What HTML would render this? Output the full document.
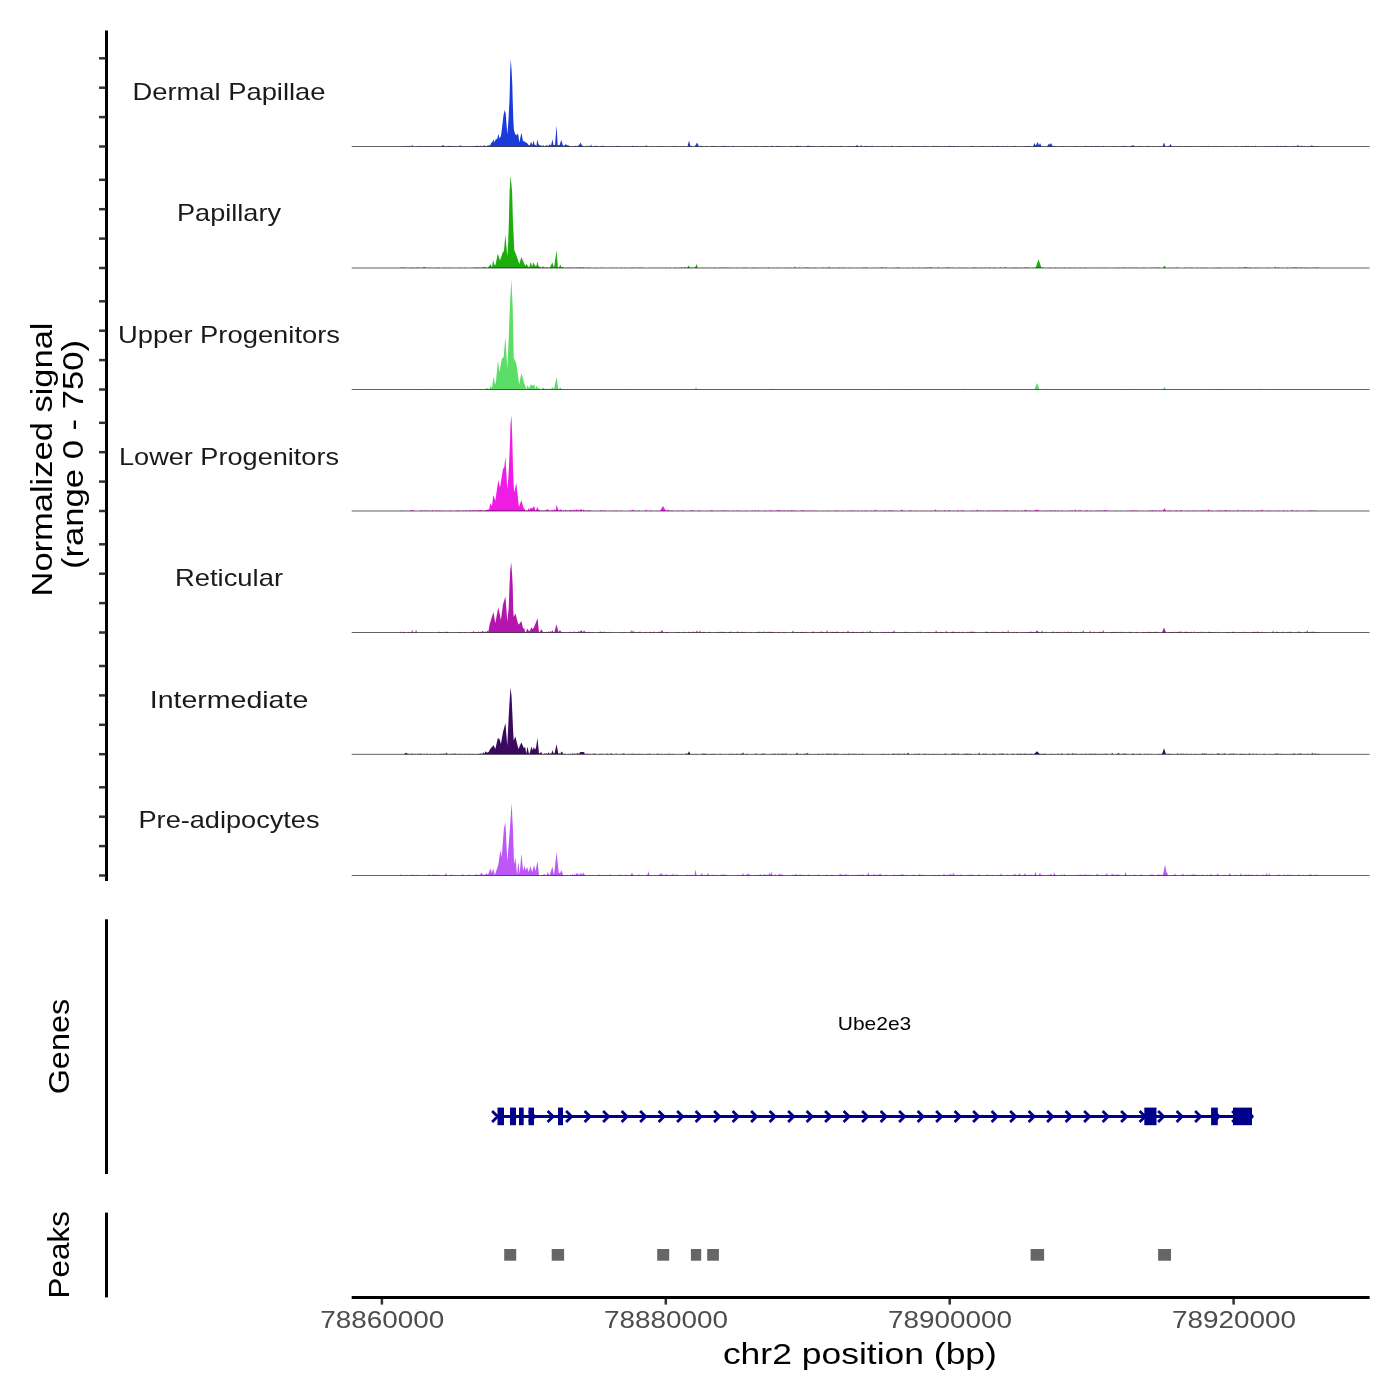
<!DOCTYPE html>
<html><head><meta charset="utf-8"><style>
html,body{margin:0;padding:0;background:#fff;}
svg{display:block;will-change:transform;}
text{font-family:"Liberation Sans",sans-serif;}
</style></head><body>
<svg width="1400" height="1400" viewBox="0 0 1400 1400">
<rect x="0" y="0" width="1400" height="1400" fill="#fff"/>

<path d="M400.0,146.5L400.0,146.50L400.5,146.50L401.0,146.50L401.5,146.50L402.0,146.07L402.5,146.28L403.0,146.50L403.5,146.50L404.0,146.50L404.5,146.50L405.0,145.84L405.5,146.17L406.0,146.50L406.5,146.50L407.0,145.84L407.5,146.17L408.0,146.50L408.5,146.50L409.0,145.62L409.5,146.06L410.0,146.50L410.5,146.50L411.0,146.50L411.5,146.50L412.0,144.45L412.5,145.48L413.0,146.50L413.5,146.50L414.0,146.50L414.5,146.50L415.0,146.50L415.5,146.50L416.0,146.50L416.5,146.50L417.0,146.50L417.5,146.50L418.0,145.82L418.5,146.16L419.0,146.25L419.5,146.38L420.0,145.71L420.5,146.10L421.0,146.50L421.5,146.50L422.0,146.50L422.5,146.50L423.0,146.11L423.5,146.30L424.0,146.50L424.5,146.50L425.0,145.87L425.5,146.19L426.0,146.50L426.5,146.50L427.0,145.99L427.5,146.25L428.0,146.08L428.5,146.29L429.0,146.22L429.5,146.36L430.0,146.11L430.5,146.30L431.0,146.50L431.5,146.50L432.0,146.17L432.5,146.34L433.0,146.50L433.5,146.50L434.0,146.50L434.5,146.50L435.0,146.07L435.5,146.28L436.0,146.50L436.5,146.50L437.0,146.50L437.5,146.50L438.0,145.69L438.5,146.10L439.0,146.50L439.5,146.50L440.0,146.50L440.5,146.50L441.0,145.68L441.5,146.09L442.0,145.75L442.5,145.38L443.0,145.00L443.5,145.38L444.0,145.75L444.5,146.12L445.0,146.50L445.5,146.50L446.0,145.66L446.5,146.08L447.0,146.50L447.5,146.50L448.0,145.70L448.5,146.10L449.0,145.68L449.5,146.09L450.0,146.13L450.5,146.31L451.0,145.80L451.5,146.15L452.0,145.77L452.5,146.13L453.0,146.50L453.5,146.50L454.0,145.97L454.5,146.23L455.0,145.88L455.5,146.19L456.0,146.22L456.5,146.36L457.0,146.50L457.5,146.50L458.0,145.98L458.5,146.24L459.0,146.50L459.5,146.50L460.0,144.66L460.5,145.58L461.0,146.50L461.5,146.50L462.0,145.61L462.5,146.06L463.0,146.50L463.5,146.50L464.0,146.50L464.5,146.50L465.0,146.50L465.5,146.50L466.0,145.82L466.5,146.16L467.0,146.50L467.5,146.50L468.0,146.02L468.5,146.26L469.0,146.50L469.5,146.50L478.0,145.70L479.0,146.07L480.0,146.45L481.0,145.44L482.0,146.49L483.0,146.16L484.0,145.30L485.0,145.85L486.0,146.50L487.0,145.81L488.0,145.50L489.1,145.59L490.3,145.00L491.5,142.50L492.4,142.26L493.3,139.20L494.5,142.20L496.0,138.80L497.0,139.50L498.5,133.70L499.5,138.40L501.0,135.80L502.0,128.10L503.5,115.20L504.7,110.10L505.7,113.50L507.3,134.50L508.5,119.50L509.5,100.00L509.9,84.50L510.2,70.50L510.8,59.20L511.6,70.50L512.3,84.50L512.7,100.00L513.3,119.50L513.9,129.80L515.0,133.70L516.3,135.50L517.5,133.50L518.5,135.80L519.3,142.60L521.4,132.80L523.0,140.90L524.5,141.50L526.0,142.60L527.5,143.50L529.0,145.50L530.0,145.00L531.0,141.80L532.5,145.00L533.6,140.50L534.5,144.50L535.4,144.96L536.4,145.96L537.3,139.20L538.5,144.30L540.0,145.50L541.0,145.26L542.0,146.45L543.0,145.00L544.0,145.91L545.0,146.45L546.0,145.30L547.1,145.13L548.2,146.42L549.3,144.30L551.0,145.50L552.5,139.20L553.5,145.00L555.0,145.00L556.6,125.50L557.7,145.50L558.7,145.07L559.6,145.00L561.3,140.10L563.0,145.50L564.2,145.74L565.5,144.20L566.8,144.94L568.0,145.50L569.0,145.49L570.0,146.41L571.0,146.06L572.0,146.49L573.0,146.03L574.0,146.45L575.0,145.70L576.0,146.03L577.0,146.43L578.0,145.51L579.0,145.50L580.5,142.60L582.0,145.50L583.0,145.73L584.0,146.50L585.0,146.15L586.0,146.49L587.0,145.54L588.0,146.50L589.0,145.98L590.0,145.70L590.5,146.09L591.0,144.28L591.5,145.39L592.0,146.25L592.5,146.38L593.0,146.16L593.5,146.33L594.0,145.67L594.5,146.08L595.0,146.50L595.5,146.50L596.0,145.22L596.5,145.86L597.0,146.11L597.5,146.30L598.0,146.50L598.5,146.50L599.0,146.50L599.5,146.50L600.0,145.93L600.5,146.22L601.0,145.80L601.5,146.15L602.0,145.82L602.5,146.16L603.0,145.69L603.5,146.10L604.0,145.79L604.5,146.15L605.0,146.50L605.5,146.50L606.0,146.50L606.5,146.50L607.0,146.23L607.5,146.36L608.0,146.50L608.5,146.50L609.0,146.14L609.5,146.32L610.0,145.99L610.5,146.24L611.0,146.50L611.5,146.50L612.0,146.00L612.5,146.25L613.0,145.99L613.5,146.24L614.0,146.50L614.5,146.50L615.0,146.50L615.5,146.50L616.0,146.29L616.5,146.40L617.0,145.62L617.5,146.06L618.0,146.17L618.5,146.34L619.0,146.32L619.5,146.41L620.0,145.70L620.5,146.10L621.0,146.50L621.5,146.50L622.0,146.50L622.5,146.50L623.0,146.50L623.5,146.50L624.0,146.31L624.5,146.40L625.0,146.50L625.5,146.50L626.0,146.07L626.5,146.29L627.0,146.50L627.5,146.50L628.0,146.50L628.5,146.50L629.0,146.21L629.5,146.36L630.0,146.04L630.5,146.27L631.0,146.50L631.5,146.50L632.0,145.63L632.5,146.07L633.0,145.64L633.5,146.07L634.0,145.99L634.5,146.25L635.0,146.50L635.5,146.50L636.0,146.50L636.5,146.50L637.0,145.60L637.5,146.05L638.0,146.50L638.5,146.50L639.0,146.50L639.5,146.50L640.0,146.50L640.5,146.50L641.0,146.09L641.5,146.30L642.0,146.30L642.5,146.40L643.0,145.99L643.5,146.25L644.0,146.50L644.5,146.50L645.0,146.50L645.5,146.50L646.0,144.65L646.5,145.57L647.0,146.15L647.5,146.33L648.0,146.50L648.5,146.50L649.0,146.50L649.5,146.50L650.0,146.50L650.5,146.50L651.0,146.50L651.5,146.50L652.0,145.94L652.5,146.22L653.0,146.50L653.5,146.50L654.0,146.50L654.5,146.50L655.0,146.50L655.5,146.50L656.0,146.50L656.5,146.50L657.0,146.00L657.5,146.25L658.0,145.96L658.5,146.23L659.0,146.50L659.5,146.50L660.0,145.86L660.5,146.18L661.0,146.26L661.5,146.38L662.0,146.12L662.5,146.31L663.0,146.50L663.5,146.50L664.0,146.50L664.5,146.50L665.0,146.50L665.5,146.50L666.0,146.50L666.5,146.50L667.0,146.50L667.5,146.50L668.0,146.50L668.5,146.50L669.0,146.50L669.5,146.50L670.0,146.08L670.5,146.29L671.0,146.50L671.5,146.50L672.0,146.50L672.5,146.50L673.0,145.83L673.5,146.17L674.0,146.50L674.5,146.50L675.0,145.87L675.5,146.18L676.0,146.10L676.5,146.30L677.0,146.50L677.5,146.50L678.0,146.50L678.5,146.50L679.0,146.50L679.5,146.50L680.0,145.94L680.5,146.22L681.0,146.50L681.5,146.50L682.0,146.23L682.5,146.36L683.0,146.50L683.5,146.50L684.0,145.91L684.5,146.20L685.0,146.50L685.5,146.50L686.0,146.50L686.5,146.50L687.0,146.50L687.5,146.50L688.0,144.50L688.5,142.50L689.0,140.50L689.5,142.50L690.0,144.50L690.5,146.31L691.0,145.61L691.5,146.05L692.0,146.50L692.5,146.50L693.0,146.50L693.5,146.50L694.0,146.50L694.5,146.50L695.0,145.61L695.5,145.50L696.0,144.50L696.5,143.50L697.0,142.50L697.5,143.50L698.0,144.50L698.5,145.50L699.0,146.50L699.5,146.50L700.0,145.75L700.5,146.13L701.0,145.60L701.5,146.05L702.0,146.05L702.5,146.27L703.0,146.50L703.5,146.50L704.0,146.50L704.5,146.50L705.0,146.50L705.5,146.50L706.0,145.75L706.5,146.13L707.0,146.50L707.5,146.50L708.0,146.50L708.5,146.50L709.0,146.50L709.5,146.50L710.0,146.50L710.5,146.50L711.0,146.18L711.5,146.34L712.0,145.72L712.5,146.11L713.0,146.50L713.5,146.50L714.0,145.85L714.5,146.18L715.0,146.00L715.5,146.25L716.0,146.50L716.5,146.50L717.0,146.03L717.5,146.27L718.0,146.50L718.5,146.50L719.0,146.50L719.5,146.50L720.0,146.28L720.5,146.39L721.0,145.78L721.5,146.14L722.0,146.50L722.5,146.50L723.0,145.62L723.5,146.06L724.0,145.73L724.5,146.12L725.0,146.50L725.5,146.50L726.0,145.80L726.5,146.15L727.0,146.50L727.5,146.50L728.0,145.89L728.5,146.20L729.0,146.50L729.5,146.50L730.0,146.31L730.5,146.40L731.0,146.50L731.5,146.50L732.0,146.50L732.5,146.50L733.0,145.52L733.5,146.01L734.0,146.50L734.5,146.50L735.0,146.50L735.5,146.50L736.0,146.50L736.5,146.50L737.0,146.50L737.5,146.50L738.0,146.50L738.5,146.50L739.0,146.16L739.5,146.33L740.0,146.50L740.5,146.50L741.0,146.50L741.5,146.50L742.0,146.50L742.5,146.50L743.0,146.50L743.5,146.50L744.0,145.83L744.5,146.17L745.0,146.50L745.5,146.50L746.0,146.50L746.5,146.50L747.0,146.13L747.5,146.31L748.0,146.50L748.5,146.50L749.0,146.50L749.5,146.50L750.0,146.50L750.5,146.50L751.0,145.91L751.5,146.21L752.0,146.50L752.5,146.50L753.0,146.50L753.5,146.50L754.0,146.50L754.5,146.50L755.0,145.97L755.5,146.23L756.0,145.77L756.5,146.13L757.0,146.50L757.5,146.50L758.0,146.50L758.5,146.50L759.0,146.29L759.5,146.40L760.0,146.50L760.5,146.50L761.0,146.29L761.5,146.40L762.0,146.50L762.5,146.50L763.0,145.95L763.5,146.23L764.0,146.07L764.5,146.29L765.0,146.05L765.5,146.28L766.0,146.19L766.5,146.35L767.0,146.03L767.5,146.26L768.0,146.50L768.5,146.50L769.0,146.50L769.5,146.50L770.0,146.50L770.5,146.50L771.0,145.67L771.5,146.08L772.0,145.70L772.5,146.10L773.0,146.50L773.5,146.50L774.0,146.50L774.5,146.50L775.0,146.50L775.5,146.50L776.0,146.50L776.5,146.50L777.0,145.69L777.5,146.10L778.0,145.80L778.5,146.15L779.0,146.50L779.5,146.50L780.0,146.09L780.5,146.29L781.0,146.09L781.5,146.29L782.0,146.50L782.5,146.50L783.0,146.50L783.5,146.50L784.0,146.50L784.5,146.50L785.0,146.13L785.5,146.31L786.0,146.50L786.5,146.50L787.0,146.50L787.5,146.50L788.0,146.50L788.5,146.50L789.0,146.50L789.5,146.50L790.0,146.50L790.5,146.50L791.0,145.68L791.5,146.09L792.0,146.14L792.5,146.32L793.0,146.50L793.5,146.50L794.0,146.50L794.5,146.50L795.0,146.21L795.5,146.35L796.0,145.79L796.5,146.14L797.0,145.49L797.5,145.99L798.0,145.64L798.5,146.07L799.0,146.50L799.5,146.50L800.0,145.61L800.5,146.06L801.0,146.50L801.5,146.50L802.0,146.50L802.5,146.50L803.0,146.50L803.5,146.50L804.0,146.50L804.5,146.50L805.0,145.85L805.5,146.18L806.0,146.50L806.5,146.50L807.0,145.97L807.5,146.24L808.0,145.05L808.5,145.78L809.0,146.50L809.5,146.50L810.0,145.62L810.5,146.06L811.0,146.26L811.5,146.38L812.0,146.50L812.5,146.50L813.0,145.64L813.5,146.07L814.0,146.50L814.5,146.50L815.0,145.90L815.5,146.20L816.0,146.50L816.5,146.50L817.0,146.50L817.5,146.50L818.0,146.50L818.5,146.50L819.0,146.31L819.5,146.40L820.0,146.50L820.5,146.50L821.0,145.92L821.5,146.21L822.0,145.81L822.5,146.15L823.0,145.84L823.5,146.17L824.0,146.50L824.5,146.50L825.0,146.50L825.5,146.50L826.0,146.28L826.5,146.39L827.0,146.50L827.5,146.50L828.0,145.77L828.5,146.13L829.0,146.29L829.5,146.40L830.0,145.74L830.5,146.12L831.0,146.50L831.5,146.50L832.0,145.79L832.5,146.14L833.0,146.50L833.5,146.50L834.0,146.50L834.5,146.50L835.0,146.15L835.5,146.32L836.0,146.05L836.5,146.28L837.0,146.50L837.5,146.50L838.0,146.00L838.5,146.25L839.0,146.12L839.5,146.31L840.0,146.24L840.5,146.37L841.0,145.66L841.5,146.08L842.0,146.50L842.5,146.50L843.0,146.50L843.5,146.50L844.0,146.50L844.5,146.50L845.0,146.50L845.5,146.50L846.0,146.50L846.5,146.50L847.0,146.50L847.5,146.50L848.0,146.09L848.5,146.30L849.0,146.24L849.5,146.37L850.0,146.50L850.5,146.50L851.0,145.85L851.5,146.18L852.0,146.50L852.5,146.50L853.0,146.08L853.5,146.29L854.0,146.50L854.5,146.50L855.0,146.07L855.5,146.12L856.0,145.75L856.5,145.38L857.0,145.00L857.5,145.38L858.0,145.75L858.5,146.12L859.0,146.50L859.5,146.50L860.0,146.50L860.5,146.50L861.0,144.69L861.5,145.60L862.0,146.50L862.5,146.50L863.0,146.50L863.5,146.50L864.0,145.99L864.5,146.25L865.0,145.83L865.5,146.16L866.0,145.88L866.5,146.19L867.0,145.70L867.5,146.10L868.0,146.50L868.5,146.50L869.0,146.50L869.5,146.50L870.0,145.71L870.5,146.11L871.0,146.50L871.5,146.50L872.0,145.58L872.5,146.04L873.0,146.50L873.5,146.50L874.0,146.50L874.5,146.50L875.0,146.50L875.5,146.50L876.0,146.50L876.5,146.50L877.0,146.50L877.5,146.50L878.0,146.18L878.5,146.34L879.0,146.50L879.5,146.50L880.0,146.50L880.5,146.50L881.0,146.50L881.5,146.50L882.0,146.14L882.5,146.32L883.0,146.50L883.5,146.50L884.0,145.82L884.5,146.16L885.0,146.50L885.5,146.50L886.0,146.50L886.5,146.50L887.0,146.50L887.5,146.50L888.0,145.90L888.5,146.20L889.0,146.50L889.5,146.50L890.0,146.50L890.5,146.50L891.0,145.77L891.5,146.14L892.0,145.61L892.5,146.05L893.0,146.50L893.5,146.50L894.0,146.50L894.5,146.50L895.0,146.50L895.5,146.50L896.0,146.50L896.5,146.50L897.0,146.50L897.5,146.50L898.0,145.75L898.5,146.13L899.0,146.08L899.5,146.29L900.0,145.96L900.5,146.23L901.0,145.95L901.5,146.22L902.0,146.50L902.5,146.50L903.0,146.50L903.5,146.50L904.0,146.27L904.5,146.39L905.0,146.50L905.5,146.50L906.0,146.50L906.5,146.50L907.0,146.26L907.5,146.38L908.0,146.24L908.5,146.37L909.0,146.50L909.5,146.50L910.0,146.50L910.5,146.50L911.0,146.50L911.5,146.50L912.0,145.67L912.5,146.09L913.0,146.20L913.5,146.35L914.0,146.50L914.5,146.50L915.0,145.82L915.5,146.16L916.0,146.50L916.5,146.50L917.0,146.50L917.5,146.50L918.0,146.09L918.5,146.30L919.0,146.13L919.5,146.31L920.0,146.50L920.5,146.50L921.0,146.50L921.5,146.50L922.0,145.83L922.5,146.17L923.0,146.50L923.5,146.50L924.0,146.50L924.5,146.50L925.0,145.62L925.5,146.06L926.0,146.50L926.5,146.50L927.0,146.14L927.5,146.32L928.0,146.50L928.5,146.50L929.0,146.50L929.5,146.50L930.0,146.50L930.5,146.50L931.0,146.50L931.5,146.50L932.0,146.50L932.5,146.50L933.0,145.73L933.5,146.12L934.0,145.87L934.5,146.18L935.0,146.50L935.5,146.50L936.0,145.98L936.5,146.24L937.0,146.50L937.5,146.50L938.0,145.66L938.5,146.08L939.0,146.50L939.5,146.50L940.0,146.14L940.5,146.32L941.0,146.50L941.5,146.50L942.0,146.50L942.5,146.50L943.0,146.50L943.5,146.50L944.0,145.84L944.5,146.17L945.0,146.50L945.5,146.50L946.0,145.92L946.5,146.21L947.0,146.50L947.5,146.50L948.0,146.50L948.5,146.50L949.0,145.35L949.5,145.93L950.0,145.91L950.5,146.20L951.0,145.97L951.5,146.24L952.0,146.50L952.5,146.50L953.0,145.78L953.5,146.14L954.0,145.95L954.5,146.23L955.0,145.93L955.5,146.21L956.0,146.50L956.5,146.50L957.0,146.50L957.5,146.50L958.0,145.84L958.5,146.17L959.0,146.50L959.5,146.50L960.0,146.50L960.5,146.50L961.0,146.50L961.5,146.50L962.0,146.50L962.5,146.50L963.0,146.17L963.5,146.34L964.0,146.50L964.5,146.50L965.0,146.50L965.5,146.50L966.0,146.50L966.5,146.50L967.0,146.31L967.5,146.41L968.0,146.50L968.5,146.50L969.0,146.50L969.5,146.50L970.0,146.50L970.5,146.50L971.0,146.16L971.5,146.33L972.0,145.65L972.5,146.07L973.0,145.96L973.5,146.23L974.0,146.25L974.5,146.38L975.0,146.50L975.5,146.50L976.0,146.50L976.5,146.50L977.0,146.50L977.5,146.50L978.0,146.50L978.5,146.50L979.0,146.50L979.5,146.50L980.0,145.96L980.5,146.23L981.0,146.24L981.5,146.37L982.0,146.50L982.5,146.50L983.0,145.75L983.5,146.12L984.0,146.50L984.5,146.50L985.0,146.27L985.5,146.38L986.0,146.50L986.5,146.50L987.0,146.50L987.5,146.50L988.0,146.02L988.5,146.26L989.0,146.50L989.5,146.50L990.0,146.50L990.5,146.50L991.0,146.50L991.5,146.50L992.0,145.61L992.5,146.06L993.0,146.50L993.5,146.50L994.0,146.50L994.5,146.50L995.0,146.50L995.5,146.50L996.0,145.85L996.5,146.18L997.0,146.50L997.5,146.50L998.0,145.64L998.5,146.07L999.0,146.50L999.5,146.50L1000.0,146.50L1000.5,146.50L1001.0,146.50L1001.5,146.50L1002.0,145.89L1002.5,146.19L1003.0,146.50L1003.5,146.50L1004.0,145.90L1004.5,146.20L1005.0,146.50L1005.5,146.50L1006.0,146.50L1006.5,146.50L1007.0,145.68L1007.5,146.09L1008.0,146.50L1008.5,146.50L1009.0,146.50L1009.5,146.50L1010.0,146.50L1010.5,146.50L1011.0,146.50L1011.5,146.50L1012.0,145.99L1012.5,146.24L1013.0,146.50L1013.5,146.50L1014.0,146.12L1014.5,146.31L1015.0,145.67L1015.5,146.09L1016.0,146.50L1016.5,146.50L1017.0,146.50L1017.5,146.50L1018.0,146.50L1018.5,146.50L1019.0,146.50L1019.5,146.50L1020.0,146.50L1020.5,146.50L1021.0,146.50L1021.5,146.50L1022.0,146.50L1022.5,146.50L1023.0,146.29L1023.5,146.39L1024.0,146.00L1024.5,146.25L1025.0,146.26L1025.5,146.38L1026.0,145.89L1026.5,146.20L1027.0,146.15L1027.5,146.32L1028.0,146.05L1028.5,146.28L1029.0,145.73L1029.5,146.11L1030.0,146.50L1030.5,146.50L1031.0,146.50L1031.5,146.50L1032.0,146.50L1032.5,146.50L1033.0,146.50L1033.5,145.33L1034.0,144.17L1034.5,143.00L1035.0,144.17L1035.5,145.33L1036.0,145.35L1036.5,144.20L1037.0,143.05L1037.5,141.90L1038.0,143.05L1038.5,144.20L1039.0,145.33L1039.5,144.17L1040.0,143.00L1040.5,144.17L1041.0,145.33L1041.5,146.50L1042.0,145.98L1042.5,146.24L1043.0,146.50L1043.5,146.50L1044.0,146.50L1044.5,146.50L1045.0,146.50L1045.5,146.50L1046.0,146.50L1046.5,146.50L1047.0,146.50L1047.5,145.75L1048.0,145.00L1048.5,144.25L1049.0,143.50L1049.5,144.25L1050.0,144.75L1050.5,143.88L1051.0,143.00L1051.5,143.88L1052.0,144.75L1052.5,145.62L1053.0,146.50L1053.5,146.50L1054.0,145.64L1054.5,146.07L1055.0,145.93L1055.5,146.21L1056.0,146.50L1056.5,146.50L1057.0,146.50L1057.5,146.50L1058.0,146.50L1058.5,146.50L1059.0,146.28L1059.5,146.39L1060.0,146.50L1060.5,146.50L1061.0,146.50L1061.5,146.50L1062.0,146.23L1062.5,146.37L1063.0,146.09L1063.5,146.30L1064.0,146.06L1064.5,146.28L1065.0,146.50L1065.5,146.50L1066.0,146.50L1066.5,146.50L1067.0,146.50L1067.5,146.50L1068.0,146.50L1068.5,146.50L1069.0,146.50L1069.5,146.50L1070.0,146.14L1070.5,146.32L1071.0,146.50L1071.5,146.50L1072.0,146.50L1072.5,146.50L1073.0,146.50L1073.5,146.50L1074.0,146.50L1074.5,146.50L1075.0,146.03L1075.5,146.26L1076.0,146.11L1076.5,146.30L1077.0,146.04L1077.5,146.27L1078.0,146.50L1078.5,146.50L1079.0,146.50L1079.5,146.50L1080.0,146.27L1080.5,146.38L1081.0,146.50L1081.5,146.50L1082.0,146.50L1082.5,146.50L1083.0,146.50L1083.5,146.50L1084.0,145.96L1084.5,146.23L1085.0,146.02L1085.5,146.26L1086.0,145.73L1086.5,146.12L1087.0,146.50L1087.5,146.50L1088.0,145.89L1088.5,146.19L1089.0,146.50L1089.5,146.50L1090.0,146.29L1090.5,146.39L1091.0,145.68L1091.5,146.09L1092.0,145.91L1092.5,146.20L1093.0,146.50L1093.5,146.50L1094.0,146.50L1094.5,146.50L1095.0,145.90L1095.5,146.20L1096.0,145.89L1096.5,146.20L1097.0,146.16L1097.5,146.33L1098.0,145.70L1098.5,146.10L1099.0,146.50L1099.5,146.50L1100.0,146.50L1100.5,146.50L1101.0,146.50L1101.5,146.50L1102.0,146.50L1102.5,146.50L1103.0,145.67L1103.5,146.09L1104.0,146.50L1104.5,146.50L1105.0,146.50L1105.5,146.50L1106.0,146.20L1106.5,146.35L1107.0,146.50L1107.5,146.50L1108.0,146.50L1108.5,146.50L1109.0,146.50L1109.5,146.50L1110.0,146.50L1110.5,146.50L1111.0,146.26L1111.5,146.38L1112.0,146.09L1112.5,146.29L1113.0,145.90L1113.5,146.20L1114.0,146.50L1114.5,146.50L1115.0,146.50L1115.5,146.50L1116.0,145.98L1116.5,146.24L1117.0,146.50L1117.5,146.50L1118.0,146.31L1118.5,146.40L1119.0,146.50L1119.5,146.50L1120.0,146.50L1120.5,146.50L1121.0,146.50L1121.5,146.50L1122.0,145.63L1122.5,146.06L1123.0,145.77L1123.5,146.14L1124.0,146.17L1124.5,146.33L1125.0,145.66L1125.5,146.08L1126.0,146.29L1126.5,146.39L1127.0,146.17L1127.5,146.33L1128.0,146.50L1128.5,146.50L1129.0,146.50L1129.5,146.50L1130.0,145.65L1130.5,146.07L1131.0,145.80L1131.5,146.12L1132.0,145.75L1132.5,145.38L1133.0,145.00L1133.5,145.38L1134.0,145.75L1134.5,146.12L1135.0,146.50L1135.5,146.50L1136.0,146.50L1136.5,146.50L1137.0,146.50L1137.5,146.50L1138.0,145.81L1138.5,146.16L1139.0,146.28L1139.5,146.39L1140.0,146.04L1140.5,146.27L1141.0,145.87L1141.5,146.18L1142.0,146.50L1142.5,146.50L1143.0,146.50L1143.5,146.50L1144.0,146.50L1144.5,146.50L1145.0,146.50L1145.5,146.50L1146.0,146.50L1146.5,146.50L1147.0,145.62L1147.5,146.06L1148.0,146.50L1148.5,146.50L1149.0,146.12L1149.5,146.31L1150.0,146.50L1150.5,146.50L1151.0,146.50L1151.5,146.50L1152.0,146.50L1152.5,146.50L1153.0,145.98L1153.5,146.24L1154.0,146.50L1154.5,146.50L1155.0,146.50L1155.5,146.50L1156.0,146.50L1156.5,146.50L1157.0,146.50L1157.5,146.50L1158.0,146.17L1158.5,146.34L1159.0,146.50L1159.5,146.50L1160.0,145.92L1160.5,146.21L1161.0,146.50L1161.5,146.50L1162.0,146.50L1162.5,146.50L1163.0,145.17L1163.5,143.83L1164.0,142.50L1164.5,143.83L1165.0,145.17L1165.5,146.50L1166.0,146.50L1166.5,146.50L1167.0,146.50L1167.5,146.50L1168.0,145.71L1168.5,146.10L1169.0,146.50L1169.5,145.67L1170.0,144.83L1170.5,144.00L1171.0,144.83L1171.5,145.67L1172.0,146.50L1172.5,146.50L1173.0,146.50L1173.5,146.50L1174.0,145.77L1174.5,146.14L1175.0,146.50L1175.5,146.50L1176.0,146.22L1176.5,146.36L1177.0,146.50L1177.5,146.50L1178.0,145.99L1178.5,146.25L1179.0,146.50L1179.5,146.50L1180.0,145.70L1180.5,146.10L1181.0,146.50L1181.5,146.50L1182.0,146.50L1182.5,146.50L1183.0,146.50L1183.5,146.50L1184.0,146.50L1184.5,146.50L1185.0,145.79L1185.5,146.14L1186.0,145.90L1186.5,146.20L1187.0,146.50L1187.5,146.50L1188.0,146.12L1188.5,146.31L1189.0,146.25L1189.5,146.37L1190.0,146.50L1190.5,146.50L1191.0,146.04L1191.5,146.27L1192.0,146.50L1192.5,146.50L1193.0,146.50L1193.5,146.50L1194.0,146.50L1194.5,146.50L1195.0,145.99L1195.5,146.24L1196.0,146.50L1196.5,146.50L1197.0,146.50L1197.5,146.50L1198.0,146.50L1198.5,146.50L1199.0,146.50L1199.5,146.50L1200.0,146.30L1200.5,146.40L1201.0,145.67L1201.5,146.09L1202.0,146.50L1202.5,146.50L1203.0,146.50L1203.5,146.50L1204.0,145.86L1204.5,146.18L1205.0,146.50L1205.5,146.50L1206.0,146.50L1206.5,146.50L1207.0,145.92L1207.5,146.21L1208.0,146.23L1208.5,146.37L1209.0,145.78L1209.5,146.14L1210.0,146.50L1210.5,146.50L1211.0,146.50L1211.5,146.50L1212.0,146.50L1212.5,146.50L1213.0,146.26L1213.5,146.38L1214.0,146.05L1214.5,146.28L1215.0,146.50L1215.5,146.50L1216.0,146.13L1216.5,146.31L1217.0,145.96L1217.5,146.23L1218.0,146.50L1218.5,146.50L1219.0,146.50L1219.5,146.50L1220.0,146.50L1220.5,146.50L1221.0,146.50L1221.5,146.50L1222.0,145.81L1222.5,146.16L1223.0,146.50L1223.5,146.50L1224.0,146.50L1224.5,146.50L1225.0,146.50L1225.5,146.50L1226.0,146.50L1226.5,146.50L1227.0,146.50L1227.5,146.50L1228.0,146.50L1228.5,146.50L1229.0,146.50L1229.5,146.50L1230.0,146.50L1230.5,146.50L1231.0,146.22L1231.5,146.36L1232.0,146.50L1232.5,146.50L1233.0,146.50L1233.5,146.50L1234.0,146.50L1234.5,146.50L1235.0,146.50L1235.5,146.50L1236.0,145.64L1236.5,146.07L1237.0,146.50L1237.5,146.50L1238.0,146.50L1238.5,146.50L1239.0,146.50L1239.5,146.50L1240.0,146.50L1240.5,146.50L1241.0,146.50L1241.5,146.50L1242.0,145.70L1242.5,146.10L1243.0,146.50L1243.5,146.50L1244.0,146.50L1244.5,146.50L1245.0,146.11L1245.5,146.30L1246.0,145.86L1246.5,146.18L1247.0,146.50L1247.5,146.50L1248.0,145.61L1248.5,146.06L1249.0,146.50L1249.5,146.50L1250.0,146.50L1250.5,146.50L1251.0,146.50L1251.5,146.50L1252.0,146.05L1252.5,146.27L1253.0,146.22L1253.5,146.36L1254.0,146.50L1254.5,146.50L1255.0,145.52L1255.5,146.01L1256.0,146.50L1256.5,146.50L1257.0,146.50L1257.5,146.50L1258.0,146.50L1258.5,146.50L1259.0,146.23L1259.5,146.36L1260.0,146.50L1260.5,146.50L1261.0,146.50L1261.5,146.50L1262.0,146.50L1262.5,146.50L1263.0,146.50L1263.5,146.50L1264.0,146.05L1264.5,146.27L1265.0,146.50L1265.5,146.50L1266.0,146.19L1266.5,146.35L1267.0,145.85L1267.5,146.18L1268.0,146.28L1268.5,146.39L1269.0,146.50L1269.5,146.50L1270.0,145.86L1270.5,146.18L1271.0,146.50L1271.5,146.50L1272.0,146.50L1272.5,146.50L1273.0,146.11L1273.5,146.30L1274.0,146.50L1274.5,146.50L1275.0,146.50L1275.5,146.50L1276.0,145.82L1276.5,146.16L1277.0,145.81L1277.5,146.15L1278.0,146.11L1278.5,146.30L1279.0,146.50L1279.5,146.50L1280.0,145.80L1280.5,146.15L1281.0,146.07L1281.5,146.28L1282.0,145.82L1282.5,146.16L1283.0,146.50L1283.5,146.50L1284.0,145.78L1284.5,146.14L1285.0,145.77L1285.5,146.13L1286.0,145.83L1286.5,146.17L1287.0,146.50L1287.5,146.50L1288.0,146.09L1288.5,146.30L1289.0,146.50L1289.5,146.50L1290.0,146.50L1290.5,146.50L1291.0,146.50L1291.5,146.50L1292.0,146.50L1292.5,146.50L1293.0,145.69L1293.5,146.09L1294.0,146.50L1294.5,146.50L1295.0,145.79L1295.5,146.15L1296.0,146.50L1296.5,146.50L1297.0,145.61L1297.5,146.06L1298.0,144.57L1298.5,145.54L1299.0,146.18L1299.5,146.34L1300.0,146.50L1300.5,146.50L1301.0,145.61L1301.5,146.05L1302.0,145.77L1302.5,146.13L1303.0,146.50L1303.5,146.50L1304.0,145.70L1304.5,146.10L1305.0,146.50L1305.5,146.50L1306.0,146.50L1306.5,146.50L1307.0,146.50L1307.5,146.50L1308.0,146.10L1308.5,146.30L1309.0,145.98L1309.5,146.24L1310.0,146.50L1310.5,146.50L1311.0,145.20L1311.5,145.85L1312.0,145.62L1312.5,146.06L1313.0,145.58L1313.5,146.04L1314.0,146.50L1314.5,146.50L1315.0,146.50L1315.5,146.50L1316.0,145.79L1316.5,146.15L1317.0,146.50L1317.5,146.50L1318.0,146.20L1318.5,146.35L1319.0,146.50L1319.5,146.50L1320.0,146.50L1320.0,146.5 Z" fill="#1A3BD9"/>
<rect x="351.7" y="146.19" width="1017.9" height="0.62" fill="#000"/>
<path d="M400.0,268.0L400.0,268.00L400.5,268.00L401.0,267.39L401.5,267.70L402.0,267.31L402.5,267.65L403.0,267.63L403.5,267.81L404.0,267.51L404.5,267.75L405.0,267.41L405.5,267.70L406.0,268.00L406.5,268.00L407.0,268.00L407.5,268.00L408.0,268.00L408.5,268.00L409.0,268.00L409.5,268.00L410.0,267.55L410.5,267.77L411.0,268.00L411.5,268.00L412.0,267.32L412.5,267.66L413.0,267.77L413.5,267.89L414.0,267.49L414.5,267.75L415.0,268.00L415.5,268.00L416.0,267.67L416.5,267.83L417.0,267.33L417.5,267.66L418.0,267.50L418.5,267.75L419.0,267.29L419.5,267.65L420.0,268.00L420.5,268.00L421.0,268.00L421.5,268.00L422.0,267.83L422.5,267.91L423.0,267.28L423.5,267.64L424.0,266.33L424.5,267.17L425.0,267.54L425.5,267.77L426.0,267.45L426.5,267.72L427.0,267.77L427.5,267.89L428.0,268.00L428.5,268.00L429.0,268.00L429.5,268.00L430.0,267.35L430.5,267.68L431.0,268.00L431.5,268.00L432.0,267.78L432.5,267.89L433.0,268.00L433.5,268.00L434.0,268.00L434.5,268.00L435.0,267.48L435.5,267.74L436.0,268.00L436.5,268.00L437.0,268.00L437.5,268.00L438.0,267.31L438.5,267.65L439.0,267.55L439.5,267.77L440.0,268.00L440.5,268.00L441.0,268.00L441.5,268.00L442.0,268.00L442.5,268.00L443.0,267.74L443.5,267.87L444.0,268.00L444.5,268.00L445.0,267.32L445.5,267.66L446.0,267.78L446.5,267.89L447.0,268.00L447.5,268.00L448.0,268.00L448.5,268.00L449.0,267.32L449.5,267.66L450.0,268.00L450.5,268.00L451.0,268.00L451.5,268.00L452.0,268.00L452.5,268.00L453.0,267.81L453.5,267.91L454.0,268.00L454.5,268.00L455.0,268.00L455.5,268.00L456.0,268.00L456.5,268.00L457.0,268.00L457.5,268.00L458.0,267.71L458.5,267.85L459.0,268.00L459.5,268.00L460.0,267.77L460.5,267.88L461.0,267.48L461.5,267.74L462.0,268.00L462.5,268.00L463.0,268.00L463.5,268.00L464.0,268.00L464.5,268.00L465.0,267.31L465.5,267.66L466.0,268.00L466.5,268.00L467.0,268.00L467.5,268.00L468.0,267.77L468.5,267.89L469.0,268.00L469.5,268.00L478.0,267.40L479.0,267.46L480.0,267.93L481.0,267.55L482.0,267.96L483.0,266.62L484.0,267.94L485.0,266.50L486.1,267.38L487.3,267.97L488.4,267.00L489.7,265.60L490.8,264.36L492.0,267.39L493.1,260.10L494.2,264.14L495.3,265.60L497.9,253.60L500.0,260.50L502.6,252.80L503.9,251.00L505.4,235.20L507.3,256.20L508.2,241.40L508.9,220.00L509.6,191.40L510.6,175.70L512.1,191.40L512.9,220.00L513.9,241.40L514.3,250.20L515.4,252.80L516.7,256.20L519.3,263.90L521.4,257.10L524.0,263.10L525.3,266.08L526.6,264.00L527.9,265.88L529.1,267.40L530.9,261.80L532.1,266.80L533.4,262.20L535.1,265.80L536.3,266.31L537.5,261.40L538.5,265.88L539.4,266.80L540.6,267.12L541.7,267.96L542.9,266.50L543.9,266.79L545.0,267.96L546.0,267.13L547.0,267.40L548.0,267.55L549.0,267.95L550.0,267.00L551.1,264.90L552.3,262.60L554.0,267.40L556.6,250.60L557.9,267.40L559.1,267.37L560.4,264.40L561.5,267.39L562.6,266.80L563.5,267.44L564.5,267.93L565.4,267.65L566.3,267.97L567.2,267.58L568.1,267.96L569.1,267.58L570.0,267.40L571.0,267.78L571.9,267.98L572.9,267.64L573.9,267.96L574.8,267.56L575.8,267.98L576.7,267.13L577.7,267.91L578.7,267.26L579.6,267.93L580.6,266.90L581.5,267.41L582.5,267.97L583.4,266.96L584.4,267.98L585.3,267.74L586.2,267.96L587.2,267.53L588.1,267.96L589.1,267.49L590.0,267.50L590.5,268.00L591.0,268.00L591.5,268.00L592.0,268.00L592.5,268.00L593.0,268.00L593.5,268.00L594.0,268.00L594.5,268.00L595.0,268.00L595.5,268.00L596.0,267.55L596.5,267.78L597.0,268.00L597.5,268.00L598.0,267.77L598.5,267.88L599.0,268.00L599.5,268.00L600.0,268.00L600.5,268.00L601.0,267.55L601.5,267.77L602.0,268.00L602.5,268.00L603.0,267.55L603.5,267.77L604.0,268.00L604.5,268.00L605.0,268.00L605.5,268.00L606.0,268.00L606.5,268.00L607.0,268.00L607.5,268.00L608.0,268.00L608.5,268.00L609.0,268.00L609.5,268.00L610.0,268.00L610.5,268.00L611.0,267.34L611.5,267.67L612.0,268.00L612.5,268.00L613.0,268.00L613.5,268.00L614.0,267.74L614.5,267.87L615.0,268.00L615.5,268.00L616.0,267.66L616.5,267.83L617.0,268.00L617.5,268.00L618.0,268.00L618.5,268.00L619.0,268.00L619.5,268.00L620.0,268.00L620.5,268.00L621.0,267.76L621.5,267.88L622.0,267.47L622.5,267.73L623.0,268.00L623.5,268.00L624.0,268.00L624.5,268.00L625.0,267.48L625.5,267.74L626.0,268.00L626.5,268.00L627.0,268.00L627.5,268.00L628.0,268.00L628.5,268.00L629.0,268.00L629.5,268.00L630.0,267.37L630.5,267.69L631.0,268.00L631.5,268.00L632.0,267.34L632.5,267.67L633.0,268.00L633.5,268.00L634.0,267.38L634.5,267.69L635.0,268.00L635.5,268.00L636.0,268.00L636.5,268.00L637.0,267.54L637.5,267.77L638.0,267.50L638.5,267.75L639.0,267.67L639.5,267.83L640.0,267.81L640.5,267.90L641.0,267.55L641.5,267.77L642.0,267.48L642.5,267.74L643.0,268.00L643.5,268.00L644.0,268.00L644.5,268.00L645.0,268.00L645.5,268.00L646.0,268.00L646.5,268.00L647.0,268.00L647.5,268.00L648.0,268.00L648.5,268.00L649.0,268.00L649.5,268.00L650.0,267.49L650.5,267.74L651.0,268.00L651.5,268.00L652.0,268.00L652.5,268.00L653.0,267.79L653.5,267.89L654.0,268.00L654.5,268.00L655.0,268.00L655.5,268.00L656.0,267.37L656.5,267.68L657.0,268.00L657.5,268.00L658.0,268.00L658.5,268.00L659.0,267.63L659.5,267.81L660.0,268.00L660.5,268.00L661.0,268.00L661.5,268.00L662.0,267.66L662.5,267.83L663.0,268.00L663.5,268.00L664.0,268.00L664.5,268.00L665.0,268.00L665.5,268.00L666.0,267.41L666.5,267.71L667.0,268.00L667.5,268.00L668.0,268.00L668.5,268.00L669.0,267.77L669.5,267.88L670.0,267.28L670.5,267.64L671.0,268.00L671.5,268.00L672.0,268.00L672.5,268.00L673.0,268.00L673.5,268.00L674.0,268.00L674.5,268.00L675.0,267.39L675.5,267.70L676.0,267.57L676.5,267.79L677.0,268.00L677.5,268.00L678.0,268.00L678.5,268.00L679.0,267.52L679.5,267.76L680.0,267.74L680.5,267.87L681.0,267.36L681.5,267.68L682.0,267.58L682.5,267.79L683.0,268.00L683.5,268.00L684.0,267.56L684.5,267.78L685.0,266.54L685.5,267.27L686.0,268.00L686.5,268.00L687.0,267.83L687.5,267.17L688.0,266.33L688.5,265.50L689.0,266.33L689.5,267.17L690.0,267.29L690.5,267.65L691.0,267.83L691.5,267.91L692.0,267.28L692.5,267.64L693.0,267.83L693.5,267.92L694.0,267.61L694.5,267.81L695.0,267.36L695.5,266.67L696.0,265.33L696.5,264.00L697.0,265.33L697.5,266.67L698.0,268.00L698.5,268.00L699.0,268.00L699.5,268.00L700.0,268.00L700.5,268.00L701.0,267.63L701.5,267.82L702.0,267.65L702.5,267.83L703.0,268.00L703.5,268.00L704.0,267.32L704.5,267.66L705.0,268.00L705.5,268.00L706.0,268.00L706.5,268.00L707.0,267.54L707.5,267.77L708.0,268.00L708.5,268.00L709.0,268.00L709.5,268.00L710.0,268.00L710.5,268.00L711.0,267.75L711.5,267.87L712.0,268.00L712.5,268.00L713.0,268.00L713.5,268.00L714.0,267.29L714.5,267.65L715.0,267.44L715.5,267.72L716.0,268.00L716.5,268.00L717.0,268.00L717.5,268.00L718.0,267.63L718.5,267.82L719.0,268.00L719.5,268.00L720.0,267.50L720.5,267.75L721.0,268.00L721.5,268.00L722.0,267.57L722.5,267.78L723.0,267.74L723.5,267.87L724.0,268.00L724.5,268.00L725.0,267.79L725.5,267.90L726.0,266.91L726.5,267.46L727.0,268.00L727.5,268.00L728.0,267.42L728.5,267.71L729.0,268.00L729.5,268.00L730.0,268.00L730.5,268.00L731.0,267.51L731.5,267.76L732.0,267.81L732.5,267.91L733.0,268.00L733.5,268.00L734.0,268.00L734.5,268.00L735.0,268.00L735.5,268.00L736.0,267.51L736.5,267.76L737.0,268.00L737.5,268.00L738.0,268.00L738.5,268.00L739.0,268.00L739.5,268.00L740.0,267.66L740.5,267.83L741.0,268.00L741.5,268.00L742.0,268.00L742.5,268.00L743.0,267.57L743.5,267.78L744.0,268.00L744.5,268.00L745.0,267.53L745.5,267.77L746.0,267.35L746.5,267.67L747.0,268.00L747.5,268.00L748.0,268.00L748.5,268.00L749.0,268.00L749.5,268.00L750.0,268.00L750.5,268.00L751.0,268.00L751.5,268.00L752.0,267.68L752.5,267.84L753.0,267.54L753.5,267.77L754.0,268.00L754.5,268.00L755.0,267.55L755.5,267.77L756.0,267.81L756.5,267.90L757.0,268.00L757.5,268.00L758.0,267.47L758.5,267.74L759.0,268.00L759.5,268.00L760.0,268.00L760.5,268.00L761.0,268.00L761.5,268.00L762.0,267.38L762.5,267.69L763.0,268.00L763.5,268.00L764.0,268.00L764.5,268.00L765.0,268.00L765.5,268.00L766.0,267.81L766.5,267.91L767.0,268.00L767.5,268.00L768.0,267.45L768.5,267.73L769.0,267.35L769.5,267.68L770.0,268.00L770.5,268.00L771.0,268.00L771.5,268.00L772.0,267.77L772.5,267.88L773.0,267.74L773.5,267.87L774.0,268.00L774.5,268.00L775.0,268.00L775.5,268.00L776.0,268.00L776.5,268.00L777.0,267.52L777.5,267.76L778.0,268.00L778.5,268.00L779.0,267.71L779.5,267.86L780.0,268.00L780.5,268.00L781.0,268.00L781.5,268.00L782.0,268.00L782.5,268.00L783.0,268.00L783.5,268.00L784.0,267.70L784.5,267.85L785.0,268.00L785.5,268.00L786.0,267.39L786.5,267.70L787.0,268.00L787.5,268.00L788.0,267.66L788.5,267.83L789.0,268.00L789.5,268.00L790.0,267.43L790.5,267.71L791.0,268.00L791.5,268.00L792.0,268.00L792.5,268.00L793.0,268.00L793.5,268.00L794.0,267.72L794.5,267.86L795.0,266.33L795.5,267.16L796.0,268.00L796.5,268.00L797.0,268.00L797.5,268.00L798.0,268.00L798.5,268.00L799.0,267.27L799.5,267.64L800.0,268.00L800.5,268.00L801.0,268.00L801.5,268.00L802.0,267.32L802.5,267.66L803.0,268.00L803.5,268.00L804.0,268.00L804.5,268.00L805.0,267.41L805.5,267.70L806.0,267.39L806.5,267.69L807.0,267.50L807.5,267.75L808.0,267.37L808.5,267.69L809.0,267.84L809.5,267.92L810.0,267.69L810.5,267.84L811.0,268.00L811.5,268.00L812.0,267.53L812.5,267.76L813.0,268.00L813.5,268.00L814.0,268.00L814.5,268.00L815.0,267.57L815.5,267.79L816.0,268.00L816.5,268.00L817.0,268.00L817.5,268.00L818.0,268.00L818.5,268.00L819.0,268.00L819.5,268.00L820.0,268.00L820.5,268.00L821.0,268.00L821.5,268.00L822.0,267.40L822.5,267.70L823.0,267.48L823.5,267.74L824.0,268.00L824.5,268.00L825.0,268.00L825.5,268.00L826.0,267.28L826.5,267.64L827.0,268.00L827.5,268.00L828.0,267.85L828.5,267.92L829.0,266.25L829.5,267.12L830.0,268.00L830.5,268.00L831.0,268.00L831.5,268.00L832.0,268.00L832.5,268.00L833.0,267.34L833.5,267.67L834.0,268.00L834.5,268.00L835.0,268.00L835.5,268.00L836.0,268.00L836.5,268.00L837.0,267.41L837.5,267.71L838.0,267.63L838.5,267.82L839.0,267.56L839.5,267.78L840.0,268.00L840.5,268.00L841.0,267.63L841.5,267.81L842.0,267.70L842.5,267.85L843.0,268.00L843.5,268.00L844.0,267.38L844.5,267.69L845.0,268.00L845.5,268.00L846.0,268.00L846.5,268.00L847.0,268.00L847.5,268.00L848.0,268.00L848.5,268.00L849.0,267.58L849.5,267.79L850.0,268.00L850.5,268.00L851.0,267.83L851.5,267.92L852.0,268.00L852.5,268.00L853.0,268.00L853.5,268.00L854.0,268.00L854.5,268.00L855.0,268.00L855.5,268.00L856.0,267.69L856.5,267.84L857.0,268.00L857.5,268.00L858.0,267.84L858.5,267.92L859.0,268.00L859.5,268.00L860.0,267.76L860.5,267.88L861.0,267.84L861.5,267.92L862.0,268.00L862.5,268.00L863.0,267.34L863.5,267.67L864.0,268.00L864.5,268.00L865.0,267.46L865.5,267.73L866.0,267.43L866.5,267.71L867.0,267.32L867.5,267.66L868.0,268.00L868.5,268.00L869.0,268.00L869.5,268.00L870.0,268.00L870.5,268.00L871.0,268.00L871.5,268.00L872.0,268.00L872.5,268.00L873.0,267.79L873.5,267.89L874.0,267.77L874.5,267.89L875.0,268.00L875.5,268.00L876.0,268.00L876.5,268.00L877.0,267.46L877.5,267.73L878.0,268.00L878.5,268.00L879.0,268.00L879.5,268.00L880.0,267.30L880.5,267.65L881.0,267.72L881.5,267.86L882.0,266.99L882.5,267.49L883.0,268.00L883.5,268.00L884.0,267.84L884.5,267.92L885.0,267.41L885.5,267.71L886.0,267.36L886.5,267.68L887.0,268.00L887.5,268.00L888.0,268.00L888.5,268.00L889.0,268.00L889.5,268.00L890.0,268.00L890.5,268.00L891.0,268.00L891.5,268.00L892.0,267.75L892.5,267.88L893.0,268.00L893.5,268.00L894.0,268.00L894.5,268.00L895.0,267.66L895.5,267.83L896.0,267.76L896.5,267.88L897.0,267.50L897.5,267.75L898.0,266.91L898.5,267.46L899.0,267.64L899.5,267.82L900.0,268.00L900.5,268.00L901.0,268.00L901.5,268.00L902.0,268.00L902.5,268.00L903.0,268.00L903.5,268.00L904.0,268.00L904.5,268.00L905.0,268.00L905.5,268.00L906.0,268.00L906.5,268.00L907.0,267.84L907.5,267.92L908.0,267.67L908.5,267.83L909.0,268.00L909.5,268.00L910.0,268.00L910.5,268.00L911.0,268.00L911.5,268.00L912.0,267.66L912.5,267.83L913.0,267.55L913.5,267.78L914.0,268.00L914.5,268.00L915.0,268.00L915.5,268.00L916.0,268.00L916.5,268.00L917.0,268.00L917.5,268.00L918.0,267.66L918.5,267.83L919.0,267.56L919.5,267.78L920.0,268.00L920.5,268.00L921.0,267.67L921.5,267.84L922.0,268.00L922.5,268.00L923.0,268.00L923.5,268.00L924.0,267.40L924.5,267.70L925.0,267.69L925.5,267.84L926.0,267.72L926.5,267.86L927.0,267.49L927.5,267.74L928.0,267.70L928.5,267.85L929.0,267.35L929.5,267.68L930.0,267.78L930.5,267.89L931.0,266.39L931.5,267.19L932.0,268.00L932.5,268.00L933.0,267.79L933.5,267.90L934.0,268.00L934.5,268.00L935.0,268.00L935.5,268.00L936.0,268.00L936.5,268.00L937.0,268.00L937.5,268.00L938.0,266.45L938.5,267.23L939.0,268.00L939.5,268.00L940.0,267.75L940.5,267.88L941.0,268.00L941.5,268.00L942.0,268.00L942.5,268.00L943.0,267.81L943.5,267.91L944.0,267.83L944.5,267.92L945.0,268.00L945.5,268.00L946.0,267.46L946.5,267.73L947.0,267.50L947.5,267.75L948.0,267.58L948.5,267.79L949.0,267.38L949.5,267.69L950.0,267.57L950.5,267.79L951.0,268.00L951.5,268.00L952.0,268.00L952.5,268.00L953.0,267.33L953.5,267.66L954.0,268.00L954.5,268.00L955.0,268.00L955.5,268.00L956.0,268.00L956.5,268.00L957.0,268.00L957.5,268.00L958.0,268.00L958.5,268.00L959.0,267.58L959.5,267.79L960.0,267.85L960.5,267.92L961.0,267.53L961.5,267.76L962.0,268.00L962.5,268.00L963.0,267.44L963.5,267.72L964.0,268.00L964.5,268.00L965.0,267.69L965.5,267.84L966.0,268.00L966.5,268.00L967.0,267.38L967.5,267.69L968.0,268.00L968.5,268.00L969.0,268.00L969.5,268.00L970.0,268.00L970.5,268.00L971.0,267.80L971.5,267.90L972.0,268.00L972.5,268.00L973.0,267.35L973.5,267.67L974.0,267.25L974.5,267.63L975.0,267.81L975.5,267.90L976.0,267.29L976.5,267.65L977.0,268.00L977.5,268.00L978.0,268.00L978.5,268.00L979.0,267.70L979.5,267.85L980.0,268.00L980.5,268.00L981.0,267.35L981.5,267.68L982.0,268.00L982.5,268.00L983.0,268.00L983.5,268.00L984.0,267.44L984.5,267.72L985.0,268.00L985.5,268.00L986.0,267.30L986.5,267.65L987.0,268.00L987.5,268.00L988.0,268.00L988.5,268.00L989.0,267.54L989.5,267.77L990.0,267.32L990.5,267.66L991.0,268.00L991.5,268.00L992.0,268.00L992.5,268.00L993.0,267.57L993.5,267.78L994.0,267.74L994.5,267.87L995.0,267.48L995.5,267.74L996.0,268.00L996.5,268.00L997.0,268.00L997.5,268.00L998.0,267.75L998.5,267.88L999.0,268.00L999.5,268.00L1000.0,267.54L1000.5,267.77L1001.0,267.33L1001.5,267.67L1002.0,268.00L1002.5,268.00L1003.0,268.00L1003.5,268.00L1004.0,268.00L1004.5,268.00L1005.0,266.44L1005.5,267.22L1006.0,267.75L1006.5,267.87L1007.0,268.00L1007.5,268.00L1008.0,268.00L1008.5,268.00L1009.0,268.00L1009.5,268.00L1010.0,267.82L1010.5,267.91L1011.0,268.00L1011.5,268.00L1012.0,267.53L1012.5,267.77L1013.0,267.54L1013.5,267.77L1014.0,268.00L1014.5,268.00L1015.0,267.39L1015.5,267.69L1016.0,267.44L1016.5,267.72L1017.0,267.39L1017.5,267.70L1018.0,267.82L1018.5,267.91L1019.0,267.69L1019.5,267.84L1020.0,268.00L1020.5,268.00L1021.0,267.34L1021.5,267.67L1022.0,268.00L1022.5,268.00L1023.0,268.00L1023.5,268.00L1024.0,267.79L1024.5,267.90L1025.0,267.35L1025.5,267.67L1026.0,267.31L1026.5,267.65L1027.0,267.38L1027.5,267.69L1028.0,268.00L1028.5,268.00L1029.0,267.30L1029.5,267.65L1030.0,268.00L1030.5,268.00L1031.0,268.00L1031.5,268.00L1032.0,268.00L1032.5,268.00L1033.0,267.53L1033.5,267.77L1034.0,267.44L1034.5,267.72L1035.0,268.00L1035.5,268.00L1036.0,266.57L1036.5,265.13L1037.0,263.70L1037.5,262.27L1038.0,260.83L1038.5,259.40L1039.0,260.83L1039.5,262.27L1040.0,263.70L1040.5,265.13L1041.0,266.57L1041.5,268.00L1042.0,267.59L1042.5,267.79L1043.0,267.27L1043.5,267.63L1044.0,267.83L1044.5,267.91L1045.0,268.00L1045.5,268.00L1046.0,268.00L1046.5,268.00L1047.0,267.84L1047.5,267.92L1048.0,267.75L1048.5,267.88L1049.0,267.62L1049.5,267.81L1050.0,268.00L1050.5,268.00L1051.0,267.74L1051.5,267.87L1052.0,268.00L1052.5,268.00L1053.0,268.00L1053.5,268.00L1054.0,268.00L1054.5,268.00L1055.0,267.36L1055.5,267.68L1056.0,267.54L1056.5,267.77L1057.0,268.00L1057.5,268.00L1058.0,267.78L1058.5,267.89L1059.0,268.00L1059.5,268.00L1060.0,267.75L1060.5,267.88L1061.0,268.00L1061.5,268.00L1062.0,267.33L1062.5,267.66L1063.0,268.00L1063.5,268.00L1064.0,267.70L1064.5,267.85L1065.0,267.67L1065.5,267.84L1066.0,268.00L1066.5,268.00L1067.0,268.00L1067.5,268.00L1068.0,268.00L1068.5,268.00L1069.0,267.35L1069.5,267.68L1070.0,268.00L1070.5,268.00L1071.0,267.62L1071.5,267.81L1072.0,268.00L1072.5,268.00L1073.0,268.00L1073.5,268.00L1074.0,267.47L1074.5,267.74L1075.0,268.00L1075.5,268.00L1076.0,267.51L1076.5,267.75L1077.0,268.00L1077.5,268.00L1078.0,268.00L1078.5,268.00L1079.0,267.78L1079.5,267.89L1080.0,267.54L1080.5,267.77L1081.0,268.00L1081.5,268.00L1082.0,267.69L1082.5,267.85L1083.0,268.00L1083.5,268.00L1084.0,268.00L1084.5,268.00L1085.0,267.61L1085.5,267.80L1086.0,267.53L1086.5,267.76L1087.0,268.00L1087.5,268.00L1088.0,267.63L1088.5,267.82L1089.0,268.00L1089.5,268.00L1090.0,267.83L1090.5,267.92L1091.0,268.00L1091.5,268.00L1092.0,268.00L1092.5,268.00L1093.0,267.52L1093.5,267.76L1094.0,268.00L1094.5,268.00L1095.0,268.00L1095.5,268.00L1096.0,267.53L1096.5,267.76L1097.0,268.00L1097.5,268.00L1098.0,268.00L1098.5,268.00L1099.0,267.66L1099.5,267.83L1100.0,268.00L1100.5,268.00L1101.0,267.47L1101.5,267.73L1102.0,268.00L1102.5,268.00L1103.0,268.00L1103.5,268.00L1104.0,267.68L1104.5,267.84L1105.0,267.71L1105.5,267.85L1106.0,268.00L1106.5,268.00L1107.0,268.00L1107.5,268.00L1108.0,267.48L1108.5,267.74L1109.0,268.00L1109.5,268.00L1110.0,268.00L1110.5,268.00L1111.0,268.00L1111.5,268.00L1112.0,268.00L1112.5,268.00L1113.0,268.00L1113.5,268.00L1114.0,268.00L1114.5,268.00L1115.0,267.38L1115.5,267.69L1116.0,268.00L1116.5,268.00L1117.0,267.52L1117.5,267.76L1118.0,268.00L1118.5,268.00L1119.0,267.61L1119.5,267.80L1120.0,267.74L1120.5,267.87L1121.0,268.00L1121.5,268.00L1122.0,268.00L1122.5,268.00L1123.0,267.29L1123.5,267.64L1124.0,267.62L1124.5,267.81L1125.0,267.34L1125.5,267.67L1126.0,268.00L1126.5,268.00L1127.0,268.00L1127.5,268.00L1128.0,267.82L1128.5,267.91L1129.0,267.46L1129.5,267.73L1130.0,268.00L1130.5,268.00L1131.0,267.41L1131.5,267.71L1132.0,268.00L1132.5,268.00L1133.0,267.44L1133.5,267.72L1134.0,268.00L1134.5,268.00L1135.0,267.55L1135.5,267.77L1136.0,267.73L1136.5,267.87L1137.0,267.64L1137.5,267.82L1138.0,268.00L1138.5,268.00L1139.0,268.00L1139.5,268.00L1140.0,267.79L1140.5,267.90L1141.0,268.00L1141.5,268.00L1142.0,268.00L1142.5,268.00L1143.0,267.31L1143.5,267.65L1144.0,267.47L1144.5,267.74L1145.0,268.00L1145.5,268.00L1146.0,268.00L1146.5,268.00L1147.0,267.75L1147.5,267.88L1148.0,268.00L1148.5,268.00L1149.0,268.00L1149.5,268.00L1150.0,267.55L1150.5,267.78L1151.0,268.00L1151.5,268.00L1152.0,267.56L1152.5,267.78L1153.0,267.67L1153.5,267.83L1154.0,268.00L1154.5,268.00L1155.0,267.63L1155.5,267.81L1156.0,267.55L1156.5,267.77L1157.0,267.63L1157.5,267.81L1158.0,267.39L1158.5,267.69L1159.0,267.37L1159.5,267.69L1160.0,268.00L1160.5,268.00L1161.0,268.00L1161.5,268.00L1162.0,268.00L1162.5,268.00L1163.0,268.00L1163.5,267.17L1164.0,266.33L1164.5,265.50L1165.0,266.33L1165.5,267.17L1166.0,268.00L1166.5,268.00L1167.0,268.00L1167.5,268.00L1168.0,268.00L1168.5,268.00L1169.0,267.84L1169.5,267.92L1170.0,267.40L1170.5,267.70L1171.0,268.00L1171.5,268.00L1172.0,268.00L1172.5,268.00L1173.0,267.78L1173.5,267.89L1174.0,267.48L1174.5,267.74L1175.0,268.00L1175.5,268.00L1176.0,267.61L1176.5,267.80L1177.0,267.33L1177.5,267.67L1178.0,268.00L1178.5,268.00L1179.0,268.00L1179.5,268.00L1180.0,268.00L1180.5,268.00L1181.0,268.00L1181.5,268.00L1182.0,268.00L1182.5,268.00L1183.0,268.00L1183.5,268.00L1184.0,268.00L1184.5,268.00L1185.0,267.40L1185.5,267.70L1186.0,267.30L1186.5,267.65L1187.0,268.00L1187.5,268.00L1188.0,268.00L1188.5,268.00L1189.0,267.40L1189.5,267.70L1190.0,268.00L1190.5,268.00L1191.0,267.54L1191.5,267.77L1192.0,267.74L1192.5,267.87L1193.0,268.00L1193.5,268.00L1194.0,268.00L1194.5,268.00L1195.0,268.00L1195.5,268.00L1196.0,268.00L1196.5,268.00L1197.0,268.00L1197.5,268.00L1198.0,267.35L1198.5,267.67L1199.0,268.00L1199.5,268.00L1200.0,268.00L1200.5,268.00L1201.0,267.58L1201.5,267.79L1202.0,267.77L1202.5,267.88L1203.0,268.00L1203.5,268.00L1204.0,267.75L1204.5,267.88L1205.0,267.34L1205.5,267.67L1206.0,268.00L1206.5,268.00L1207.0,267.48L1207.5,267.74L1208.0,268.00L1208.5,268.00L1209.0,268.00L1209.5,268.00L1210.0,268.00L1210.5,268.00L1211.0,268.00L1211.5,268.00L1212.0,268.00L1212.5,268.00L1213.0,268.00L1213.5,268.00L1214.0,267.66L1214.5,267.83L1215.0,268.00L1215.5,268.00L1216.0,267.50L1216.5,267.75L1217.0,268.00L1217.5,268.00L1218.0,267.38L1218.5,267.69L1219.0,267.36L1219.5,267.68L1220.0,268.00L1220.5,268.00L1221.0,267.41L1221.5,267.71L1222.0,268.00L1222.5,268.00L1223.0,268.00L1223.5,268.00L1224.0,268.00L1224.5,268.00L1225.0,268.00L1225.5,268.00L1226.0,267.54L1226.5,267.77L1227.0,268.00L1227.5,268.00L1228.0,268.00L1228.5,268.00L1229.0,267.60L1229.5,267.80L1230.0,268.00L1230.5,268.00L1231.0,268.00L1231.5,268.00L1232.0,267.58L1232.5,267.79L1233.0,268.00L1233.5,268.00L1234.0,268.00L1234.5,268.00L1235.0,268.00L1235.5,268.00L1236.0,268.00L1236.5,268.00L1237.0,268.00L1237.5,268.00L1238.0,267.72L1238.5,267.86L1239.0,267.40L1239.5,267.70L1240.0,267.54L1240.5,267.77L1241.0,268.00L1241.5,268.00L1242.0,268.00L1242.5,268.00L1243.0,267.57L1243.5,267.79L1244.0,267.37L1244.5,267.69L1245.0,266.44L1245.5,267.22L1246.0,267.30L1246.5,267.65L1247.0,267.50L1247.5,267.75L1248.0,267.36L1248.5,267.68L1249.0,268.00L1249.5,268.00L1250.0,267.30L1250.5,267.65L1251.0,267.72L1251.5,267.86L1252.0,268.00L1252.5,268.00L1253.0,268.00L1253.5,268.00L1254.0,268.00L1254.5,268.00L1255.0,267.48L1255.5,267.74L1256.0,268.00L1256.5,268.00L1257.0,268.00L1257.5,268.00L1258.0,267.32L1258.5,267.66L1259.0,268.00L1259.5,268.00L1260.0,268.00L1260.5,268.00L1261.0,267.80L1261.5,267.90L1262.0,268.00L1262.5,268.00L1263.0,268.00L1263.5,268.00L1264.0,268.00L1264.5,268.00L1265.0,268.00L1265.5,268.00L1266.0,268.00L1266.5,268.00L1267.0,267.46L1267.5,267.73L1268.0,268.00L1268.5,268.00L1269.0,267.36L1269.5,267.68L1270.0,268.00L1270.5,268.00L1271.0,268.00L1271.5,268.00L1272.0,268.00L1272.5,268.00L1273.0,268.00L1273.5,268.00L1274.0,268.00L1274.5,268.00L1275.0,266.27L1275.5,267.13L1276.0,267.56L1276.5,267.78L1277.0,268.00L1277.5,268.00L1278.0,267.28L1278.5,267.64L1279.0,267.55L1279.5,267.77L1280.0,268.00L1280.5,268.00L1281.0,268.00L1281.5,268.00L1282.0,267.58L1282.5,267.79L1283.0,268.00L1283.5,268.00L1284.0,268.00L1284.5,268.00L1285.0,268.00L1285.5,268.00L1286.0,268.00L1286.5,268.00L1287.0,267.27L1287.5,267.64L1288.0,267.77L1288.5,267.88L1289.0,267.80L1289.5,267.90L1290.0,268.00L1290.5,268.00L1291.0,268.00L1291.5,268.00L1292.0,267.48L1292.5,267.74L1293.0,267.37L1293.5,267.69L1294.0,267.85L1294.5,267.92L1295.0,267.31L1295.5,267.66L1296.0,267.26L1296.5,267.63L1297.0,267.39L1297.5,267.69L1298.0,268.00L1298.5,268.00L1299.0,267.67L1299.5,267.83L1300.0,267.60L1300.5,267.80L1301.0,267.37L1301.5,267.68L1302.0,268.00L1302.5,268.00L1303.0,268.00L1303.5,268.00L1304.0,267.48L1304.5,267.74L1305.0,267.44L1305.5,267.72L1306.0,268.00L1306.5,268.00L1307.0,267.81L1307.5,267.91L1308.0,267.65L1308.5,267.83L1309.0,267.75L1309.5,267.88L1310.0,267.64L1310.5,267.82L1311.0,268.00L1311.5,268.00L1312.0,267.47L1312.5,267.74L1313.0,267.71L1313.5,267.86L1314.0,268.00L1314.5,268.00L1315.0,267.35L1315.5,267.68L1316.0,267.71L1316.5,267.86L1317.0,267.40L1317.5,267.70L1318.0,267.43L1318.5,267.72L1319.0,268.00L1319.5,268.00L1320.0,267.71L1320.0,268.0 Z" fill="#1DAD0D"/>
<rect x="351.7" y="267.69" width="1017.9" height="0.62" fill="#000"/>
<path d="M400.0,389.5L400.0,389.50L400.5,389.50L401.0,389.36L401.5,389.43L402.0,389.50L402.5,389.50L403.0,389.50L403.5,389.50L404.0,389.50L404.5,389.50L405.0,389.50L405.5,389.50L406.0,389.41L406.5,389.46L407.0,389.50L407.5,389.50L408.0,389.26L408.5,389.38L409.0,389.50L409.5,389.50L410.0,389.29L410.5,389.39L411.0,389.50L411.5,389.50L412.0,389.15L412.5,389.33L413.0,389.50L413.5,389.50L414.0,389.50L414.5,389.50L415.0,389.50L415.5,389.50L416.0,389.34L416.5,389.42L417.0,389.21L417.5,389.35L418.0,389.14L418.5,389.32L419.0,389.30L419.5,389.40L420.0,389.18L420.5,389.34L421.0,389.50L421.5,389.50L422.0,389.50L422.5,389.50L423.0,389.30L423.5,389.40L424.0,389.50L424.5,389.50L425.0,389.50L425.5,389.50L426.0,389.37L426.5,389.44L427.0,389.50L427.5,389.50L428.0,389.50L428.5,389.50L429.0,388.69L429.5,389.10L430.0,389.50L430.5,389.50L431.0,389.15L431.5,389.32L432.0,389.50L432.5,389.50L433.0,389.16L433.5,389.33L434.0,389.50L434.5,389.50L435.0,388.99L435.5,389.24L436.0,389.14L436.5,389.32L437.0,389.31L437.5,389.41L438.0,389.50L438.5,389.50L439.0,389.50L439.5,389.50L440.0,389.27L440.5,389.39L441.0,389.25L441.5,389.37L442.0,389.50L442.5,389.50L443.0,389.50L443.5,389.50L444.0,389.50L444.5,389.50L445.0,389.42L445.5,389.46L446.0,389.50L446.5,389.50L447.0,389.50L447.5,389.50L448.0,389.50L448.5,389.50L449.0,389.50L449.5,389.50L450.0,389.50L450.5,389.50L451.0,389.20L451.5,389.35L452.0,389.50L452.5,389.50L453.0,389.50L453.5,389.50L454.0,389.50L454.5,389.50L455.0,389.50L455.5,389.50L456.0,389.15L456.5,389.33L457.0,389.50L457.5,389.50L458.0,389.50L458.5,389.50L459.0,389.26L459.5,389.38L460.0,389.50L460.5,389.50L461.0,389.50L461.5,389.50L462.0,389.50L462.5,389.50L463.0,389.50L463.5,389.50L464.0,389.40L464.5,389.45L465.0,389.50L465.5,389.50L466.0,389.37L466.5,389.44L467.0,389.31L467.5,389.40L468.0,389.24L468.5,389.37L469.0,389.22L469.5,389.36L478.0,389.20L478.9,389.21L479.8,389.49L480.7,388.77L481.6,389.43L482.6,389.08L483.5,389.40L484.4,388.99L485.3,389.40L486.2,388.48L487.1,388.00L488.3,388.64L489.4,389.30L490.6,385.90L491.9,388.30L493.6,376.40L495.0,384.50L496.0,381.50L497.9,360.50L499.5,372.00L502.0,358.00L503.6,357.50L505.3,337.00L507.3,367.90L508.6,340.70L509.8,307.90L511.4,279.00L512.7,307.90L513.4,340.70L513.8,358.50L515.1,360.50L516.4,363.70L519.2,384.50L521.3,373.20L523.3,379.50L524.6,384.20L525.5,386.39L526.5,389.50L527.4,385.00L529.1,388.50L530.9,384.20L532.1,385.82L533.4,385.00L534.4,384.89L535.4,389.49L536.4,385.50L537.5,387.75L538.6,388.50L539.7,388.38L540.8,389.47L541.8,388.91L542.9,387.60L543.9,387.99L545.0,389.41L546.0,389.00L547.0,388.59L548.1,389.42L549.1,388.48L550.2,389.43L551.2,388.68L552.3,387.20L554.0,389.00L556.6,376.90L558.3,389.00L559.3,388.83L560.4,387.20L561.5,388.97L562.6,389.20L563.5,389.36L564.4,389.50L565.3,389.30L566.3,389.49L567.2,389.23L568.1,389.48L569.0,389.31L569.9,389.49L570.8,389.33L571.7,389.49L572.6,389.37L573.6,389.49L574.5,389.35L575.4,389.47L576.3,389.27L577.2,389.47L578.1,389.31L579.0,389.48L580.0,389.20L580.9,389.49L581.8,389.40L582.7,389.48L583.6,389.22L584.5,389.49L585.4,389.31L586.3,389.48L587.3,389.34L588.2,389.48L589.1,389.34L590.0,389.20L590.5,389.50L591.0,389.50L591.5,389.50L592.0,389.50L592.5,389.50L593.0,389.35L593.5,389.42L594.0,389.50L594.5,389.50L595.0,389.38L595.5,389.44L596.0,389.50L596.5,389.50L597.0,389.50L597.5,389.50L598.0,389.50L598.5,389.50L599.0,389.50L599.5,389.50L600.0,389.50L600.5,389.50L601.0,389.29L601.5,389.40L602.0,389.50L602.5,389.50L603.0,389.35L603.5,389.43L604.0,389.50L604.5,389.50L605.0,389.23L605.5,389.37L606.0,389.18L606.5,389.34L607.0,389.41L607.5,389.46L608.0,389.27L608.5,389.39L609.0,389.50L609.5,389.50L610.0,389.50L610.5,389.50L611.0,389.50L611.5,389.50L612.0,389.31L612.5,389.41L613.0,389.13L613.5,389.32L614.0,389.50L614.5,389.50L615.0,389.37L615.5,389.43L616.0,389.50L616.5,389.50L617.0,389.50L617.5,389.50L618.0,389.50L618.5,389.50L619.0,389.50L619.5,389.50L620.0,389.50L620.5,389.50L621.0,389.50L621.5,389.50L622.0,389.50L622.5,389.50L623.0,389.14L623.5,389.32L624.0,389.21L624.5,389.35L625.0,389.30L625.5,389.40L626.0,389.50L626.5,389.50L627.0,389.24L627.5,389.37L628.0,389.50L628.5,389.50L629.0,389.26L629.5,389.38L630.0,388.79L630.5,389.14L631.0,389.50L631.5,389.50L632.0,389.14L632.5,389.32L633.0,389.50L633.5,389.50L634.0,389.20L634.5,389.35L635.0,389.17L635.5,389.34L636.0,389.50L636.5,389.50L637.0,389.31L637.5,389.40L638.0,389.50L638.5,389.50L639.0,389.50L639.5,389.50L640.0,389.50L640.5,389.50L641.0,389.50L641.5,389.50L642.0,389.50L642.5,389.50L643.0,389.14L643.5,389.32L644.0,389.50L644.5,389.50L645.0,389.50L645.5,389.50L646.0,389.50L646.5,389.50L647.0,389.50L647.5,389.50L648.0,389.50L648.5,389.50L649.0,389.50L649.5,389.50L650.0,389.37L650.5,389.44L651.0,389.50L651.5,389.50L652.0,389.50L652.5,389.50L653.0,389.50L653.5,389.50L654.0,389.50L654.5,389.50L655.0,389.38L655.5,389.44L656.0,389.50L656.5,389.50L657.0,389.50L657.5,389.50L658.0,389.37L658.5,389.44L659.0,389.50L659.5,389.50L660.0,389.26L660.5,389.38L661.0,389.21L661.5,389.36L662.0,389.50L662.5,389.50L663.0,389.38L663.5,389.44L664.0,389.50L664.5,389.50L665.0,389.22L665.5,389.36L666.0,389.50L666.5,389.50L667.0,389.50L667.5,389.50L668.0,389.35L668.5,389.42L669.0,389.50L669.5,389.50L670.0,389.50L670.5,389.50L671.0,389.40L671.5,389.45L672.0,389.50L672.5,389.50L673.0,389.17L673.5,389.33L674.0,389.50L674.5,389.50L675.0,389.31L675.5,389.40L676.0,389.33L676.5,389.41L677.0,389.21L677.5,389.35L678.0,389.50L678.5,389.50L679.0,389.27L679.5,389.39L680.0,389.50L680.5,389.50L681.0,389.50L681.5,389.50L682.0,389.50L682.5,389.50L683.0,389.50L683.5,389.50L684.0,389.50L684.5,389.50L685.0,389.26L685.5,389.38L686.0,389.50L686.5,389.50L687.0,389.42L687.5,389.46L688.0,389.50L688.5,389.50L689.0,389.50L689.5,389.50L690.0,389.50L690.5,389.50L691.0,389.50L691.5,389.50L692.0,389.13L692.5,389.32L693.0,389.50L693.5,389.50L694.0,389.50L694.5,389.50L695.0,389.29L695.5,388.25L696.0,387.00L696.5,388.25L697.0,389.50L697.5,389.50L698.0,389.26L698.5,389.38L699.0,389.15L699.5,389.32L700.0,389.50L700.5,389.50L701.0,389.50L701.5,389.50L702.0,389.22L702.5,389.36L703.0,389.50L703.5,389.50L704.0,389.50L704.5,389.50L705.0,389.34L705.5,389.42L706.0,389.50L706.5,389.50L707.0,389.50L707.5,389.50L708.0,389.23L708.5,389.36L709.0,389.50L709.5,389.50L710.0,389.27L710.5,389.38L711.0,389.38L711.5,389.44L712.0,389.31L712.5,389.41L713.0,389.50L713.5,389.50L714.0,389.34L714.5,389.42L715.0,389.50L715.5,389.50L716.0,389.50L716.5,389.50L717.0,389.40L717.5,389.45L718.0,389.50L718.5,389.50L719.0,389.50L719.5,389.50L720.0,389.40L720.5,389.45L721.0,389.50L721.5,389.50L722.0,389.50L722.5,389.50L723.0,389.24L723.5,389.37L724.0,389.50L724.5,389.50L725.0,389.50L725.5,389.50L726.0,389.37L726.5,389.44L727.0,389.17L727.5,389.33L728.0,389.50L728.5,389.50L729.0,389.50L729.5,389.50L730.0,389.50L730.5,389.50L731.0,389.50L731.5,389.50L732.0,389.50L732.5,389.50L733.0,389.28L733.5,389.39L734.0,389.50L734.5,389.50L735.0,389.50L735.5,389.50L736.0,389.50L736.5,389.50L737.0,389.50L737.5,389.50L738.0,389.34L738.5,389.42L739.0,389.50L739.5,389.50L740.0,389.50L740.5,389.50L741.0,389.50L741.5,389.50L742.0,389.15L742.5,389.33L743.0,389.39L743.5,389.44L744.0,389.29L744.5,389.39L745.0,389.50L745.5,389.50L746.0,389.41L746.5,389.46L747.0,389.50L747.5,389.50L748.0,389.14L748.5,389.32L749.0,389.50L749.5,389.50L750.0,389.25L750.5,389.38L751.0,389.50L751.5,389.50L752.0,389.50L752.5,389.50L753.0,389.50L753.5,389.50L754.0,389.39L754.5,389.45L755.0,389.23L755.5,389.36L756.0,389.50L756.5,389.50L757.0,389.50L757.5,389.50L758.0,389.50L758.5,389.50L759.0,389.31L759.5,389.41L760.0,389.36L760.5,389.43L761.0,389.35L761.5,389.43L762.0,389.50L762.5,389.50L763.0,389.50L763.5,389.50L764.0,389.16L764.5,389.33L765.0,389.50L765.5,389.50L766.0,389.50L766.5,389.50L767.0,389.39L767.5,389.45L768.0,389.24L768.5,389.37L769.0,389.36L769.5,389.43L770.0,389.40L770.5,389.45L771.0,389.21L771.5,389.36L772.0,388.57L772.5,389.04L773.0,389.16L773.5,389.33L774.0,389.50L774.5,389.50L775.0,389.17L775.5,389.34L776.0,389.28L776.5,389.39L777.0,389.26L777.5,389.38L778.0,389.30L778.5,389.40L779.0,389.26L779.5,389.38L780.0,389.50L780.5,389.50L781.0,389.19L781.5,389.34L782.0,389.50L782.5,389.50L783.0,389.50L783.5,389.50L784.0,389.50L784.5,389.50L785.0,389.37L785.5,389.43L786.0,389.38L786.5,389.44L787.0,389.41L787.5,389.45L788.0,389.25L788.5,389.37L789.0,389.31L789.5,389.41L790.0,389.14L790.5,389.32L791.0,389.50L791.5,389.50L792.0,389.50L792.5,389.50L793.0,389.50L793.5,389.50L794.0,389.50L794.5,389.50L795.0,389.24L795.5,389.37L796.0,389.30L796.5,389.40L797.0,389.50L797.5,389.50L798.0,389.40L798.5,389.45L799.0,389.50L799.5,389.50L800.0,389.14L800.5,389.32L801.0,389.50L801.5,389.50L802.0,389.18L802.5,389.34L803.0,389.50L803.5,389.50L804.0,389.50L804.5,389.50L805.0,389.50L805.5,389.50L806.0,389.50L806.5,389.50L807.0,389.50L807.5,389.50L808.0,389.35L808.5,389.43L809.0,389.29L809.5,389.40L810.0,389.27L810.5,389.38L811.0,389.50L811.5,389.50L812.0,389.50L812.5,389.50L813.0,389.50L813.5,389.50L814.0,389.50L814.5,389.50L815.0,389.50L815.5,389.50L816.0,389.50L816.5,389.50L817.0,389.30L817.5,389.40L818.0,389.50L818.5,389.50L819.0,389.50L819.5,389.50L820.0,389.31L820.5,389.40L821.0,389.16L821.5,389.33L822.0,389.50L822.5,389.50L823.0,389.50L823.5,389.50L824.0,389.50L824.5,389.50L825.0,389.50L825.5,389.50L826.0,389.40L826.5,389.45L827.0,389.35L827.5,389.42L828.0,389.50L828.5,389.50L829.0,389.28L829.5,389.39L830.0,389.50L830.5,389.50L831.0,389.28L831.5,389.39L832.0,389.50L832.5,389.50L833.0,389.50L833.5,389.50L834.0,389.31L834.5,389.40L835.0,389.18L835.5,389.34L836.0,389.50L836.5,389.50L837.0,389.50L837.5,389.50L838.0,389.50L838.5,389.50L839.0,389.50L839.5,389.50L840.0,389.34L840.5,389.42L841.0,389.50L841.5,389.50L842.0,389.50L842.5,389.50L843.0,389.50L843.5,389.50L844.0,389.50L844.5,389.50L845.0,389.19L845.5,389.35L846.0,389.50L846.5,389.50L847.0,389.37L847.5,389.43L848.0,389.29L848.5,389.40L849.0,389.50L849.5,389.50L850.0,389.50L850.5,389.50L851.0,389.22L851.5,389.36L852.0,389.50L852.5,389.50L853.0,389.50L853.5,389.50L854.0,389.28L854.5,389.39L855.0,389.50L855.5,389.50L856.0,389.35L856.5,389.42L857.0,389.18L857.5,389.34L858.0,389.20L858.5,389.35L859.0,389.50L859.5,389.50L860.0,389.26L860.5,389.38L861.0,389.34L861.5,389.42L862.0,389.42L862.5,389.46L863.0,389.30L863.5,389.40L864.0,389.50L864.5,389.50L865.0,389.50L865.5,389.50L866.0,389.50L866.5,389.50L867.0,389.13L867.5,389.32L868.0,389.50L868.5,389.50L869.0,389.50L869.5,389.50L870.0,389.37L870.5,389.44L871.0,388.95L871.5,389.22L872.0,389.50L872.5,389.50L873.0,389.20L873.5,389.35L874.0,389.50L874.5,389.50L875.0,389.22L875.5,389.36L876.0,389.19L876.5,389.35L877.0,389.32L877.5,389.41L878.0,389.50L878.5,389.50L879.0,389.18L879.5,389.34L880.0,389.50L880.5,389.50L881.0,389.50L881.5,389.50L882.0,389.50L882.5,389.50L883.0,389.50L883.5,389.50L884.0,389.50L884.5,389.50L885.0,389.50L885.5,389.50L886.0,389.50L886.5,389.50L887.0,389.50L887.5,389.50L888.0,389.17L888.5,389.34L889.0,389.50L889.5,389.50L890.0,389.37L890.5,389.44L891.0,389.50L891.5,389.50L892.0,389.50L892.5,389.50L893.0,389.25L893.5,389.38L894.0,389.33L894.5,389.41L895.0,389.50L895.5,389.50L896.0,389.50L896.5,389.50L897.0,389.26L897.5,389.38L898.0,389.50L898.5,389.50L899.0,389.25L899.5,389.37L900.0,389.50L900.5,389.50L901.0,389.16L901.5,389.33L902.0,389.50L902.5,389.50L903.0,389.50L903.5,389.50L904.0,389.50L904.5,389.50L905.0,389.13L905.5,389.32L906.0,389.20L906.5,389.35L907.0,389.18L907.5,389.34L908.0,389.15L908.5,389.32L909.0,389.35L909.5,389.42L910.0,389.37L910.5,389.43L911.0,389.50L911.5,389.50L912.0,389.50L912.5,389.50L913.0,389.22L913.5,389.36L914.0,389.26L914.5,389.38L915.0,389.26L915.5,389.38L916.0,389.50L916.5,389.50L917.0,389.13L917.5,389.32L918.0,389.50L918.5,389.50L919.0,389.50L919.5,389.50L920.0,389.50L920.5,389.50L921.0,389.42L921.5,389.46L922.0,389.35L922.5,389.42L923.0,389.50L923.5,389.50L924.0,389.33L924.5,389.42L925.0,389.32L925.5,389.41L926.0,389.50L926.5,389.50L927.0,389.50L927.5,389.50L928.0,389.50L928.5,389.50L929.0,389.28L929.5,389.39L930.0,389.30L930.5,389.40L931.0,389.50L931.5,389.50L932.0,389.50L932.5,389.50L933.0,389.50L933.5,389.50L934.0,389.50L934.5,389.50L935.0,389.50L935.5,389.50L936.0,389.50L936.5,389.50L937.0,389.50L937.5,389.50L938.0,389.50L938.5,389.50L939.0,389.19L939.5,389.34L940.0,389.50L940.5,389.50L941.0,389.42L941.5,389.46L942.0,389.25L942.5,389.38L943.0,389.38L943.5,389.44L944.0,389.50L944.5,389.50L945.0,389.50L945.5,389.50L946.0,389.50L946.5,389.50L947.0,389.50L947.5,389.50L948.0,389.50L948.5,389.50L949.0,389.27L949.5,389.39L950.0,389.41L950.5,389.46L951.0,389.27L951.5,389.39L952.0,389.33L952.5,389.42L953.0,389.50L953.5,389.50L954.0,389.50L954.5,389.50L955.0,389.50L955.5,389.50L956.0,389.50L956.5,389.50L957.0,389.41L957.5,389.45L958.0,389.26L958.5,389.38L959.0,389.50L959.5,389.50L960.0,389.50L960.5,389.50L961.0,389.31L961.5,389.40L962.0,389.26L962.5,389.38L963.0,389.50L963.5,389.50L964.0,388.60L964.5,389.05L965.0,389.50L965.5,389.50L966.0,389.50L966.5,389.50L967.0,389.26L967.5,389.38L968.0,389.50L968.5,389.50L969.0,389.38L969.5,389.44L970.0,389.36L970.5,389.43L971.0,389.50L971.5,389.50L972.0,389.37L972.5,389.44L973.0,389.50L973.5,389.50L974.0,389.19L974.5,389.35L975.0,389.50L975.5,389.50L976.0,389.15L976.5,389.33L977.0,389.50L977.5,389.50L978.0,389.50L978.5,389.50L979.0,389.36L979.5,389.43L980.0,389.50L980.5,389.50L981.0,389.42L981.5,389.46L982.0,389.50L982.5,389.50L983.0,389.20L983.5,389.35L984.0,389.50L984.5,389.50L985.0,389.13L985.5,389.31L986.0,389.35L986.5,389.42L987.0,389.50L987.5,389.50L988.0,389.37L988.5,389.43L989.0,389.27L989.5,389.39L990.0,389.25L990.5,389.38L991.0,389.38L991.5,389.44L992.0,389.31L992.5,389.40L993.0,389.50L993.5,389.50L994.0,389.22L994.5,389.36L995.0,389.22L995.5,389.36L996.0,389.50L996.5,389.50L997.0,389.41L997.5,389.45L998.0,389.50L998.5,389.50L999.0,389.50L999.5,389.50L1000.0,389.29L1000.5,389.39L1001.0,389.50L1001.5,389.50L1002.0,389.20L1002.5,389.35L1003.0,389.22L1003.5,389.36L1004.0,389.50L1004.5,389.50L1005.0,389.42L1005.5,389.46L1006.0,389.19L1006.5,389.35L1007.0,389.50L1007.5,389.50L1008.0,389.20L1008.5,389.35L1009.0,389.50L1009.5,389.50L1010.0,389.18L1010.5,389.34L1011.0,389.37L1011.5,389.43L1012.0,389.50L1012.5,389.50L1013.0,389.33L1013.5,389.42L1014.0,389.42L1014.5,389.46L1015.0,389.50L1015.5,389.50L1016.0,389.18L1016.5,389.34L1017.0,389.50L1017.5,389.50L1018.0,389.50L1018.5,389.50L1019.0,389.41L1019.5,389.45L1020.0,389.50L1020.5,389.50L1021.0,389.50L1021.5,389.50L1022.0,389.50L1022.5,389.50L1023.0,389.32L1023.5,389.41L1024.0,389.26L1024.5,389.38L1025.0,389.19L1025.5,389.34L1026.0,389.42L1026.5,389.46L1027.0,389.27L1027.5,389.38L1028.0,389.50L1028.5,389.50L1029.0,389.50L1029.5,389.50L1030.0,389.18L1030.5,389.34L1031.0,389.15L1031.5,389.33L1032.0,389.50L1032.5,389.50L1033.0,389.50L1033.5,389.50L1034.0,389.39L1034.5,389.44L1035.0,388.18L1035.5,386.86L1036.0,385.54L1036.5,384.22L1037.0,382.90L1037.5,384.22L1038.0,385.54L1038.5,386.86L1039.0,388.18L1039.5,389.50L1040.0,389.50L1040.5,389.50L1041.0,389.50L1041.5,389.50L1042.0,389.37L1042.5,389.43L1043.0,389.50L1043.5,389.50L1044.0,389.50L1044.5,389.50L1045.0,389.50L1045.5,389.50L1046.0,389.30L1046.5,389.40L1047.0,388.73L1047.5,389.12L1048.0,389.50L1048.5,389.50L1049.0,389.50L1049.5,389.50L1050.0,389.27L1050.5,389.38L1051.0,389.50L1051.5,389.50L1052.0,389.50L1052.5,389.50L1053.0,389.50L1053.5,389.50L1054.0,389.50L1054.5,389.50L1055.0,389.30L1055.5,389.40L1056.0,389.50L1056.5,389.50L1057.0,389.26L1057.5,389.38L1058.0,389.26L1058.5,389.38L1059.0,389.50L1059.5,389.50L1060.0,389.50L1060.5,389.50L1061.0,389.15L1061.5,389.33L1062.0,389.50L1062.5,389.50L1063.0,389.50L1063.5,389.50L1064.0,389.50L1064.5,389.50L1065.0,389.35L1065.5,389.43L1066.0,389.21L1066.5,389.35L1067.0,389.28L1067.5,389.39L1068.0,389.50L1068.5,389.50L1069.0,389.19L1069.5,389.34L1070.0,389.50L1070.5,389.50L1071.0,389.50L1071.5,389.50L1072.0,389.14L1072.5,389.32L1073.0,389.50L1073.5,389.50L1074.0,389.50L1074.5,389.50L1075.0,389.50L1075.5,389.50L1076.0,389.50L1076.5,389.50L1077.0,389.50L1077.5,389.50L1078.0,389.20L1078.5,389.35L1079.0,389.50L1079.5,389.50L1080.0,389.50L1080.5,389.50L1081.0,389.21L1081.5,389.36L1082.0,389.50L1082.5,389.50L1083.0,389.50L1083.5,389.50L1084.0,389.34L1084.5,389.42L1085.0,389.36L1085.5,389.43L1086.0,389.50L1086.5,389.50L1087.0,389.50L1087.5,389.50L1088.0,389.50L1088.5,389.50L1089.0,389.50L1089.5,389.50L1090.0,389.50L1090.5,389.50L1091.0,389.20L1091.5,389.35L1092.0,389.50L1092.5,389.50L1093.0,389.50L1093.5,389.50L1094.0,389.33L1094.5,389.41L1095.0,389.17L1095.5,389.34L1096.0,389.24L1096.5,389.37L1097.0,389.50L1097.5,389.50L1098.0,389.50L1098.5,389.50L1099.0,389.25L1099.5,389.38L1100.0,389.13L1100.5,389.32L1101.0,389.50L1101.5,389.50L1102.0,389.40L1102.5,389.45L1103.0,389.50L1103.5,389.50L1104.0,389.39L1104.5,389.45L1105.0,389.36L1105.5,389.43L1106.0,389.50L1106.5,389.50L1107.0,389.27L1107.5,389.38L1108.0,388.87L1108.5,389.19L1109.0,389.41L1109.5,389.46L1110.0,389.37L1110.5,389.43L1111.0,389.26L1111.5,389.38L1112.0,389.50L1112.5,389.50L1113.0,389.50L1113.5,389.50L1114.0,389.50L1114.5,389.50L1115.0,389.50L1115.5,389.50L1116.0,389.50L1116.5,389.50L1117.0,389.50L1117.5,389.50L1118.0,389.50L1118.5,389.50L1119.0,389.13L1119.5,389.32L1120.0,389.42L1120.5,389.46L1121.0,389.18L1121.5,389.34L1122.0,389.21L1122.5,389.36L1123.0,389.23L1123.5,389.36L1124.0,389.14L1124.5,389.32L1125.0,389.50L1125.5,389.50L1126.0,389.50L1126.5,389.50L1127.0,389.50L1127.5,389.50L1128.0,389.50L1128.5,389.50L1129.0,388.64L1129.5,389.07L1130.0,389.50L1130.5,389.50L1131.0,388.98L1131.5,389.24L1132.0,389.50L1132.5,389.50L1133.0,389.50L1133.5,389.50L1134.0,389.37L1134.5,389.43L1135.0,389.17L1135.5,389.33L1136.0,389.50L1136.5,389.50L1137.0,389.42L1137.5,389.46L1138.0,389.50L1138.5,389.50L1139.0,389.15L1139.5,389.33L1140.0,388.89L1140.5,389.20L1141.0,389.50L1141.5,389.50L1142.0,389.13L1142.5,389.31L1143.0,389.50L1143.5,389.50L1144.0,389.26L1144.5,389.38L1145.0,389.33L1145.5,389.42L1146.0,389.50L1146.5,389.50L1147.0,389.50L1147.5,389.50L1148.0,389.50L1148.5,389.50L1149.0,389.50L1149.5,389.50L1150.0,389.50L1150.5,389.50L1151.0,389.50L1151.5,389.50L1152.0,389.50L1152.5,389.50L1153.0,389.50L1153.5,389.50L1154.0,389.23L1154.5,389.36L1155.0,389.50L1155.5,389.50L1156.0,389.50L1156.5,389.50L1157.0,389.50L1157.5,389.50L1158.0,389.24L1158.5,389.37L1159.0,389.50L1159.5,389.50L1160.0,389.50L1160.5,389.50L1161.0,389.31L1161.5,389.41L1162.0,389.33L1162.5,389.42L1163.0,389.18L1163.5,388.67L1164.0,387.83L1164.5,387.00L1165.0,387.83L1165.5,388.67L1166.0,389.50L1166.5,389.50L1167.0,389.50L1167.5,389.50L1168.0,389.34L1168.5,389.42L1169.0,389.50L1169.5,389.50L1170.0,389.50L1170.5,389.50L1171.0,389.50L1171.5,389.50L1172.0,389.50L1172.5,389.50L1173.0,389.39L1173.5,389.44L1174.0,389.50L1174.5,389.50L1175.0,389.50L1175.5,389.50L1176.0,389.15L1176.5,389.33L1177.0,389.50L1177.5,389.50L1178.0,389.50L1178.5,389.50L1179.0,389.50L1179.5,389.50L1180.0,389.31L1180.5,389.40L1181.0,389.50L1181.5,389.50L1182.0,389.50L1182.5,389.50L1183.0,389.19L1183.5,389.35L1184.0,389.50L1184.5,389.50L1185.0,389.50L1185.5,389.50L1186.0,389.50L1186.5,389.50L1187.0,389.50L1187.5,389.50L1188.0,389.40L1188.5,389.45L1189.0,389.50L1189.5,389.50L1190.0,389.19L1190.5,389.34L1191.0,389.16L1191.5,389.33L1192.0,388.97L1192.5,389.23L1193.0,389.24L1193.5,389.37L1194.0,389.34L1194.5,389.42L1195.0,389.20L1195.5,389.35L1196.0,389.50L1196.5,389.50L1197.0,389.50L1197.5,389.50L1198.0,389.50L1198.5,389.50L1199.0,389.50L1199.5,389.50L1200.0,389.50L1200.5,389.50L1201.0,389.50L1201.5,389.50L1202.0,389.50L1202.5,389.50L1203.0,389.50L1203.5,389.50L1204.0,389.38L1204.5,389.44L1205.0,389.50L1205.5,389.50L1206.0,389.50L1206.5,389.50L1207.0,389.50L1207.5,389.50L1208.0,389.50L1208.5,389.50L1209.0,389.38L1209.5,389.44L1210.0,389.50L1210.5,389.50L1211.0,389.50L1211.5,389.50L1212.0,389.50L1212.5,389.50L1213.0,389.50L1213.5,389.50L1214.0,389.23L1214.5,389.36L1215.0,389.50L1215.5,389.50L1216.0,389.14L1216.5,389.32L1217.0,389.42L1217.5,389.46L1218.0,389.02L1218.5,389.26L1219.0,389.14L1219.5,389.32L1220.0,389.19L1220.5,389.34L1221.0,389.50L1221.5,389.50L1222.0,389.37L1222.5,389.44L1223.0,389.16L1223.5,389.33L1224.0,389.50L1224.5,389.50L1225.0,389.28L1225.5,389.39L1226.0,389.50L1226.5,389.50L1227.0,389.50L1227.5,389.50L1228.0,389.50L1228.5,389.50L1229.0,389.50L1229.5,389.50L1230.0,389.50L1230.5,389.50L1231.0,389.50L1231.5,389.50L1232.0,389.50L1232.5,389.50L1233.0,389.50L1233.5,389.50L1234.0,389.35L1234.5,389.43L1235.0,389.38L1235.5,389.44L1236.0,389.50L1236.5,389.50L1237.0,389.34L1237.5,389.42L1238.0,389.42L1238.5,389.46L1239.0,389.50L1239.5,389.50L1240.0,389.30L1240.5,389.40L1241.0,389.50L1241.5,389.50L1242.0,389.26L1242.5,389.38L1243.0,389.50L1243.5,389.50L1244.0,389.50L1244.5,389.50L1245.0,389.22L1245.5,389.36L1246.0,389.50L1246.5,389.50L1247.0,389.50L1247.5,389.50L1248.0,389.50L1248.5,389.50L1249.0,389.06L1249.5,389.28L1250.0,389.41L1250.5,389.45L1251.0,389.13L1251.5,389.32L1252.0,389.50L1252.5,389.50L1253.0,389.50L1253.5,389.50L1254.0,389.50L1254.5,389.50L1255.0,389.50L1255.5,389.50L1256.0,389.50L1256.5,389.50L1257.0,389.50L1257.5,389.50L1258.0,389.36L1258.5,389.43L1259.0,389.31L1259.5,389.40L1260.0,388.62L1260.5,389.06L1261.0,389.50L1261.5,389.50L1262.0,389.50L1262.5,389.50L1263.0,389.21L1263.5,389.35L1264.0,389.50L1264.5,389.50L1265.0,389.50L1265.5,389.50L1266.0,389.50L1266.5,389.50L1267.0,389.50L1267.5,389.50L1268.0,389.50L1268.5,389.50L1269.0,389.50L1269.5,389.50L1270.0,389.50L1270.5,389.50L1271.0,389.50L1271.5,389.50L1272.0,389.50L1272.5,389.50L1273.0,389.27L1273.5,389.39L1274.0,389.50L1274.5,389.50L1275.0,389.50L1275.5,389.50L1276.0,389.50L1276.5,389.50L1277.0,389.28L1277.5,389.39L1278.0,389.50L1278.5,389.50L1279.0,389.18L1279.5,389.34L1280.0,389.50L1280.5,389.50L1281.0,389.40L1281.5,389.45L1282.0,389.15L1282.5,389.33L1283.0,389.16L1283.5,389.33L1284.0,389.50L1284.5,389.50L1285.0,389.16L1285.5,389.33L1286.0,389.29L1286.5,389.39L1287.0,389.50L1287.5,389.50L1288.0,389.50L1288.5,389.50L1289.0,389.50L1289.5,389.50L1290.0,389.34L1290.5,389.42L1291.0,389.50L1291.5,389.50L1292.0,389.50L1292.5,389.50L1293.0,389.50L1293.5,389.50L1294.0,389.50L1294.5,389.50L1295.0,389.26L1295.5,389.38L1296.0,389.50L1296.5,389.50L1297.0,389.19L1297.5,389.34L1298.0,389.50L1298.5,389.50L1299.0,389.50L1299.5,389.50L1300.0,389.50L1300.5,389.50L1301.0,389.34L1301.5,389.42L1302.0,389.50L1302.5,389.50L1303.0,389.40L1303.5,389.45L1304.0,389.50L1304.5,389.50L1305.0,389.41L1305.5,389.45L1306.0,389.22L1306.5,389.36L1307.0,389.50L1307.5,389.50L1308.0,389.50L1308.5,389.50L1309.0,389.50L1309.5,389.50L1310.0,389.40L1310.5,389.45L1311.0,389.17L1311.5,389.33L1312.0,389.40L1312.5,389.45L1313.0,389.23L1313.5,389.36L1314.0,389.50L1314.5,389.50L1315.0,389.50L1315.5,389.50L1316.0,389.17L1316.5,389.33L1317.0,389.50L1317.5,389.50L1318.0,389.16L1318.5,389.33L1319.0,389.50L1319.5,389.50L1320.0,389.50L1320.0,389.5 Z" fill="#5BDD68"/>
<rect x="351.7" y="389.19" width="1017.9" height="0.62" fill="#000"/>
<path d="M400.0,511.0L400.0,511.00L400.5,511.00L401.0,510.30L401.5,510.65L402.0,511.00L402.5,511.00L403.0,510.58L403.5,510.79L404.0,511.00L404.5,511.00L405.0,510.61L405.5,510.80L406.0,511.00L406.5,511.00L407.0,511.00L407.5,511.00L408.0,511.00L408.5,511.00L409.0,510.66L409.5,510.83L410.0,510.65L410.5,510.83L411.0,509.84L411.5,510.42L412.0,510.18L412.5,510.59L413.0,510.16L413.5,510.58L414.0,510.51L414.5,510.76L415.0,511.00L415.5,511.00L416.0,511.00L416.5,511.00L417.0,511.00L417.5,511.00L418.0,511.00L418.5,511.00L419.0,510.72L419.5,510.86L420.0,511.00L420.5,511.00L421.0,510.20L421.5,510.60L422.0,510.36L422.5,510.68L423.0,511.00L423.5,511.00L424.0,510.37L424.5,510.69L425.0,510.46L425.5,510.73L426.0,510.51L426.5,510.75L427.0,511.00L427.5,511.00L428.0,510.32L428.5,510.66L429.0,511.00L429.5,511.00L430.0,510.82L430.5,510.91L431.0,511.00L431.5,511.00L432.0,510.10L432.5,510.55L433.0,510.46L433.5,510.73L434.0,511.00L434.5,511.00L435.0,511.00L435.5,511.00L436.0,510.24L436.5,510.62L437.0,510.52L437.5,510.76L438.0,511.00L438.5,511.00L439.0,510.22L439.5,510.61L440.0,511.00L440.5,511.00L441.0,510.56L441.5,510.78L442.0,510.17L442.5,510.58L443.0,511.00L443.5,511.00L444.0,511.00L444.5,511.00L445.0,510.55L445.5,510.77L446.0,511.00L446.5,511.00L447.0,511.00L447.5,511.00L448.0,510.26L448.5,510.63L449.0,511.00L449.5,511.00L450.0,510.38L450.5,510.69L451.0,510.31L451.5,510.65L452.0,511.00L452.5,511.00L453.0,511.00L453.5,511.00L454.0,510.75L454.5,510.87L455.0,511.00L455.5,511.00L456.0,510.58L456.5,510.79L457.0,510.48L457.5,510.74L458.0,510.12L458.5,510.56L459.0,511.00L459.5,511.00L460.0,510.60L460.5,510.80L461.0,510.77L461.5,510.88L462.0,511.00L462.5,511.00L463.0,510.14L463.5,510.57L464.0,511.00L464.5,511.00L465.0,510.24L465.5,510.62L466.0,510.44L466.5,510.72L467.0,510.23L467.5,510.61L468.0,511.00L468.5,511.00L469.0,510.21L469.5,510.61L478.0,510.50L479.0,510.34L480.0,510.10L481.1,510.01L482.2,510.97L483.2,510.24L484.3,510.94L485.4,510.10L486.7,509.94L488.0,509.30L489.1,509.63L490.3,503.30L491.9,506.00L493.4,495.10L495.3,500.70L498.3,480.10L500.0,487.80L503.0,469.00L504.3,467.30L505.4,456.50L507.3,489.50L508.5,476.00L509.2,461.00L510.1,439.10L510.5,424.00L511.4,415.20L512.3,439.10L513.0,468.30L513.6,483.00L514.1,491.60L514.6,491.30L516.3,482.70L518.9,507.10L521.4,500.30L523.6,508.00L524.5,508.87L525.5,510.84L526.4,510.16L527.4,510.89L528.3,508.00L529.1,510.10L530.9,507.50L532.1,508.66L533.4,506.70L534.4,506.47L535.3,510.83L536.3,509.49L537.3,507.10L538.6,509.80L539.5,510.11L540.5,510.91L541.4,510.13L542.4,510.98L543.3,510.59L544.3,510.91L545.2,509.82L546.2,510.86L547.1,509.30L548.1,509.32L549.1,510.88L550.0,510.30L551.0,510.90L552.0,509.80L552.9,510.32L553.8,510.87L554.8,508.67L555.7,510.95L556.6,504.50L558.3,510.20L559.6,510.46L560.9,509.30L561.8,510.35L562.7,510.93L563.6,510.35L564.5,510.97L565.5,509.53L566.4,510.91L567.3,510.33L568.2,510.96L569.1,510.44L570.0,510.00L571.0,509.79L571.9,510.90L572.9,509.72L573.9,510.97L574.8,509.30L575.8,510.88L576.7,509.09L577.7,510.87L578.7,509.41L579.6,510.96L580.6,508.90L581.5,509.27L582.5,510.98L583.4,509.17L584.4,510.94L585.3,510.35L586.2,510.97L587.2,510.32L588.1,510.99L589.1,510.25L590.0,510.20L590.5,511.00L591.0,510.49L591.5,510.75L592.0,511.00L592.5,511.00L593.0,510.76L593.5,510.88L594.0,511.00L594.5,511.00L595.0,510.66L595.5,510.83L596.0,511.00L596.5,511.00L597.0,511.00L597.5,511.00L598.0,511.00L598.5,511.00L599.0,511.00L599.5,511.00L600.0,510.24L600.5,510.62L601.0,510.59L601.5,510.79L602.0,510.42L602.5,510.71L603.0,511.00L603.5,511.00L604.0,509.98L604.5,510.49L605.0,510.73L605.5,510.86L606.0,511.00L606.5,511.00L607.0,511.00L607.5,511.00L608.0,511.00L608.5,511.00L609.0,511.00L609.5,511.00L610.0,511.00L610.5,511.00L611.0,510.27L611.5,510.64L612.0,511.00L612.5,511.00L613.0,511.00L613.5,511.00L614.0,510.55L614.5,510.78L615.0,511.00L615.5,511.00L616.0,510.14L616.5,510.57L617.0,511.00L617.5,511.00L618.0,511.00L618.5,511.00L619.0,511.00L619.5,511.00L620.0,510.77L620.5,510.88L621.0,510.62L621.5,510.81L622.0,511.00L622.5,511.00L623.0,511.00L623.5,511.00L624.0,511.00L624.5,511.00L625.0,511.00L625.5,511.00L626.0,511.00L626.5,511.00L627.0,511.00L627.5,511.00L628.0,511.00L628.5,511.00L629.0,511.00L629.5,511.00L630.0,510.55L630.5,510.78L631.0,510.36L631.5,510.68L632.0,511.00L632.5,510.25L633.0,509.50L633.5,510.25L634.0,510.41L634.5,510.70L635.0,511.00L635.5,511.00L636.0,511.00L636.5,511.00L637.0,510.47L637.5,510.74L638.0,511.00L638.5,511.00L639.0,510.18L639.5,510.59L640.0,511.00L640.5,511.00L641.0,511.00L641.5,511.00L642.0,511.00L642.5,511.00L643.0,511.00L643.5,511.00L644.0,511.00L644.5,511.00L645.0,510.57L645.5,510.79L646.0,509.21L646.5,510.11L647.0,511.00L647.5,511.00L648.0,511.00L648.5,511.00L649.0,511.00L649.5,511.00L650.0,510.61L650.5,510.80L651.0,510.33L651.5,510.66L652.0,511.00L652.5,511.00L653.0,511.00L653.5,511.00L654.0,511.00L654.5,511.00L655.0,511.00L655.5,511.00L656.0,510.50L656.5,510.75L657.0,511.00L657.5,511.00L658.0,510.70L658.5,510.85L659.0,511.00L659.5,511.00L660.0,511.00L660.5,510.17L661.0,509.33L661.5,508.50L662.0,507.67L662.5,506.83L663.0,506.00L663.5,506.83L664.0,507.67L664.5,508.50L665.0,509.33L665.5,510.17L666.0,510.48L666.5,510.74L667.0,510.31L667.5,510.65L668.0,509.73L668.5,510.36L669.0,510.23L669.5,510.61L670.0,511.00L670.5,511.00L671.0,510.42L671.5,510.71L672.0,510.17L672.5,510.58L673.0,511.00L673.5,511.00L674.0,510.69L674.5,510.84L675.0,511.00L675.5,511.00L676.0,511.00L676.5,511.00L677.0,510.29L677.5,510.65L678.0,511.00L678.5,511.00L679.0,510.72L679.5,510.86L680.0,511.00L680.5,511.00L681.0,511.00L681.5,511.00L682.0,510.24L682.5,510.62L683.0,510.34L683.5,510.67L684.0,511.00L684.5,511.00L685.0,511.00L685.5,511.00L686.0,511.00L686.5,511.00L687.0,511.00L687.5,511.00L688.0,511.00L688.5,511.00L689.0,511.00L689.5,511.00L690.0,510.32L690.5,510.66L691.0,510.47L691.5,510.73L692.0,510.17L692.5,510.59L693.0,510.36L693.5,510.68L694.0,511.00L694.5,511.00L695.0,511.00L695.5,511.00L696.0,511.00L696.5,511.00L697.0,511.00L697.5,511.00L698.0,510.39L698.5,510.69L699.0,510.26L699.5,510.63L700.0,510.48L700.5,510.74L701.0,511.00L701.5,511.00L702.0,511.00L702.5,511.00L703.0,511.00L703.5,511.00L704.0,511.00L704.5,511.00L705.0,511.00L705.5,511.00L706.0,510.74L706.5,510.87L707.0,511.00L707.5,511.00L708.0,511.00L708.5,511.00L709.0,510.39L709.5,510.70L710.0,511.00L710.5,511.00L711.0,510.13L711.5,510.56L712.0,510.33L712.5,510.67L713.0,510.40L713.5,510.70L714.0,511.00L714.5,511.00L715.0,511.00L715.5,511.00L716.0,511.00L716.5,511.00L717.0,511.00L717.5,511.00L718.0,510.54L718.5,510.77L719.0,511.00L719.5,511.00L720.0,510.71L720.5,510.86L721.0,511.00L721.5,511.00L722.0,510.76L722.5,510.88L723.0,510.20L723.5,510.60L724.0,510.39L724.5,510.70L725.0,511.00L725.5,511.00L726.0,510.53L726.5,510.77L727.0,510.81L727.5,510.91L728.0,510.34L728.5,510.67L729.0,511.00L729.5,511.00L730.0,511.00L730.5,511.00L731.0,511.00L731.5,511.00L732.0,511.00L732.5,511.00L733.0,510.41L733.5,510.71L734.0,511.00L734.5,511.00L735.0,511.00L735.5,511.00L736.0,510.70L736.5,510.85L737.0,510.70L737.5,510.85L738.0,510.30L738.5,510.65L739.0,510.54L739.5,510.77L740.0,511.00L740.5,511.00L741.0,511.00L741.5,511.00L742.0,510.65L742.5,510.82L743.0,511.00L743.5,511.00L744.0,511.00L744.5,511.00L745.0,510.68L745.5,510.84L746.0,510.59L746.5,510.79L747.0,511.00L747.5,511.00L748.0,511.00L748.5,511.00L749.0,511.00L749.5,511.00L750.0,511.00L750.5,511.00L751.0,511.00L751.5,511.00L752.0,510.15L752.5,510.57L753.0,511.00L753.5,511.00L754.0,510.77L754.5,510.89L755.0,510.18L755.5,510.59L756.0,511.00L756.5,511.00L757.0,510.78L757.5,510.89L758.0,510.13L758.5,510.57L759.0,511.00L759.5,511.00L760.0,511.00L760.5,511.00L761.0,511.00L761.5,511.00L762.0,511.00L762.5,511.00L763.0,511.00L763.5,511.00L764.0,510.65L764.5,510.82L765.0,510.34L765.5,510.67L766.0,511.00L766.5,511.00L767.0,511.00L767.5,511.00L768.0,510.63L768.5,510.82L769.0,511.00L769.5,511.00L770.0,510.23L770.5,510.62L771.0,510.24L771.5,510.62L772.0,511.00L772.5,511.00L773.0,511.00L773.5,511.00L774.0,510.62L774.5,510.81L775.0,511.00L775.5,511.00L776.0,511.00L776.5,511.00L777.0,510.11L777.5,510.56L778.0,510.16L778.5,510.58L779.0,510.17L779.5,510.59L780.0,510.28L780.5,510.64L781.0,511.00L781.5,511.00L782.0,510.14L782.5,510.57L783.0,511.00L783.5,511.00L784.0,510.17L784.5,510.58L785.0,511.00L785.5,511.00L786.0,510.78L786.5,510.89L787.0,510.26L787.5,510.63L788.0,510.57L788.5,510.79L789.0,511.00L789.5,511.00L790.0,510.47L790.5,510.73L791.0,510.22L791.5,510.61L792.0,510.14L792.5,510.57L793.0,511.00L793.5,511.00L794.0,510.35L794.5,510.68L795.0,511.00L795.5,511.00L796.0,510.39L796.5,510.70L797.0,511.00L797.5,511.00L798.0,511.00L798.5,511.00L799.0,511.00L799.5,511.00L800.0,511.00L800.5,511.00L801.0,510.35L801.5,510.67L802.0,510.15L802.5,510.57L803.0,510.33L803.5,510.66L804.0,511.00L804.5,511.00L805.0,510.29L805.5,510.64L806.0,511.00L806.5,511.00L807.0,511.00L807.5,511.00L808.0,510.13L808.5,510.56L809.0,511.00L809.5,511.00L810.0,511.00L810.5,511.00L811.0,510.57L811.5,510.78L812.0,510.59L812.5,510.80L813.0,511.00L813.5,511.00L814.0,510.59L814.5,510.79L815.0,511.00L815.5,511.00L816.0,510.54L816.5,510.77L817.0,511.00L817.5,511.00L818.0,511.00L818.5,511.00L819.0,511.00L819.5,511.00L820.0,511.00L820.5,511.00L821.0,511.00L821.5,511.00L822.0,510.63L822.5,510.82L823.0,511.00L823.5,511.00L824.0,511.00L824.5,511.00L825.0,511.00L825.5,511.00L826.0,511.00L826.5,511.00L827.0,511.00L827.5,511.00L828.0,510.57L828.5,510.79L829.0,510.73L829.5,510.87L830.0,511.00L830.5,511.00L831.0,511.00L831.5,511.00L832.0,511.00L832.5,511.00L833.0,511.00L833.5,511.00L834.0,511.00L834.5,511.00L835.0,510.20L835.5,510.60L836.0,510.65L836.5,510.82L837.0,510.76L837.5,510.88L838.0,510.22L838.5,510.61L839.0,511.00L839.5,511.00L840.0,511.00L840.5,511.00L841.0,511.00L841.5,511.00L842.0,510.73L842.5,510.86L843.0,511.00L843.5,511.00L844.0,511.00L844.5,511.00L845.0,511.00L845.5,511.00L846.0,511.00L846.5,511.00L847.0,510.64L847.5,510.82L848.0,511.00L848.5,511.00L849.0,511.00L849.5,511.00L850.0,510.21L850.5,510.60L851.0,511.00L851.5,511.00L852.0,510.25L852.5,510.62L853.0,510.65L853.5,510.82L854.0,511.00L854.5,511.00L855.0,510.61L855.5,510.81L856.0,511.00L856.5,511.00L857.0,511.00L857.5,511.00L858.0,510.26L858.5,510.63L859.0,511.00L859.5,511.00L860.0,511.00L860.5,511.00L861.0,511.00L861.5,511.00L862.0,510.75L862.5,510.87L863.0,511.00L863.5,511.00L864.0,511.00L864.5,511.00L865.0,510.22L865.5,510.61L866.0,510.52L866.5,510.76L867.0,511.00L867.5,511.00L868.0,510.77L868.5,510.88L869.0,511.00L869.5,511.00L870.0,511.00L870.5,511.00L871.0,510.34L871.5,510.67L872.0,511.00L872.5,511.00L873.0,511.00L873.5,511.00L874.0,510.73L874.5,510.87L875.0,509.32L875.5,510.16L876.0,511.00L876.5,511.00L877.0,510.14L877.5,510.57L878.0,511.00L878.5,511.00L879.0,511.00L879.5,511.00L880.0,511.00L880.5,511.00L881.0,510.79L881.5,510.89L882.0,511.00L882.5,511.00L883.0,510.67L883.5,510.83L884.0,510.72L884.5,510.86L885.0,510.15L885.5,510.58L886.0,511.00L886.5,511.00L887.0,511.00L887.5,511.00L888.0,511.00L888.5,511.00L889.0,510.19L889.5,510.60L890.0,510.58L890.5,510.79L891.0,510.12L891.5,510.56L892.0,511.00L892.5,511.00L893.0,510.20L893.5,510.60L894.0,511.00L894.5,511.00L895.0,511.00L895.5,511.00L896.0,510.80L896.5,510.90L897.0,511.00L897.5,511.00L898.0,511.00L898.5,511.00L899.0,511.00L899.5,511.00L900.0,511.00L900.5,511.00L901.0,510.12L901.5,510.56L902.0,509.34L902.5,510.17L903.0,511.00L903.5,511.00L904.0,510.71L904.5,510.86L905.0,511.00L905.5,511.00L906.0,511.00L906.5,511.00L907.0,511.00L907.5,511.00L908.0,511.00L908.5,511.00L909.0,510.55L909.5,510.78L910.0,510.24L910.5,510.62L911.0,510.53L911.5,510.77L912.0,511.00L912.5,511.00L913.0,511.00L913.5,511.00L914.0,511.00L914.5,511.00L915.0,511.00L915.5,511.00L916.0,510.34L916.5,510.67L917.0,511.00L917.5,511.00L918.0,511.00L918.5,511.00L919.0,511.00L919.5,511.00L920.0,510.73L920.5,510.87L921.0,511.00L921.5,511.00L922.0,510.74L922.5,510.87L923.0,511.00L923.5,511.00L924.0,511.00L924.5,511.00L925.0,511.00L925.5,511.00L926.0,510.67L926.5,510.83L927.0,511.00L927.5,511.00L928.0,511.00L928.5,511.00L929.0,511.00L929.5,511.00L930.0,511.00L930.5,511.00L931.0,510.61L931.5,510.80L932.0,511.00L932.5,511.00L933.0,511.00L933.5,511.00L934.0,511.00L934.5,511.00L935.0,508.97L935.5,509.98L936.0,510.72L936.5,510.86L937.0,510.72L937.5,510.86L938.0,510.76L938.5,510.88L939.0,510.46L939.5,510.73L940.0,511.00L940.5,511.00L941.0,511.00L941.5,511.00L942.0,511.00L942.5,511.00L943.0,511.00L943.5,511.00L944.0,510.24L944.5,510.62L945.0,510.30L945.5,510.65L946.0,511.00L946.5,511.00L947.0,510.69L947.5,510.84L948.0,511.00L948.5,511.00L949.0,509.71L949.5,510.36L950.0,511.00L950.5,511.00L951.0,511.00L951.5,511.00L952.0,510.80L952.5,510.90L953.0,510.49L953.5,510.75L954.0,511.00L954.5,511.00L955.0,510.81L955.5,510.91L956.0,511.00L956.5,511.00L957.0,510.75L957.5,510.87L958.0,510.11L958.5,510.55L959.0,511.00L959.5,511.00L960.0,510.73L960.5,510.86L961.0,511.00L961.5,511.00L962.0,510.23L962.5,510.62L963.0,509.86L963.5,510.43L964.0,511.00L964.5,511.00L965.0,511.00L965.5,511.00L966.0,511.00L966.5,511.00L967.0,511.00L967.5,511.00L968.0,511.00L968.5,511.00L969.0,511.00L969.5,511.00L970.0,511.00L970.5,511.00L971.0,511.00L971.5,511.00L972.0,510.38L972.5,510.69L973.0,510.78L973.5,510.89L974.0,510.67L974.5,510.84L975.0,511.00L975.5,511.00L976.0,511.00L976.5,511.00L977.0,509.20L977.5,510.10L978.0,510.42L978.5,510.71L979.0,511.00L979.5,511.00L980.0,510.28L980.5,510.64L981.0,510.45L981.5,510.72L982.0,511.00L982.5,511.00L983.0,510.35L983.5,510.67L984.0,511.00L984.5,511.00L985.0,511.00L985.5,511.00L986.0,511.00L986.5,511.00L987.0,510.50L987.5,510.75L988.0,510.53L988.5,510.76L989.0,510.24L989.5,510.62L990.0,511.00L990.5,511.00L991.0,510.44L991.5,510.72L992.0,511.00L992.5,511.00L993.0,510.37L993.5,510.69L994.0,510.51L994.5,510.75L995.0,511.00L995.5,511.00L996.0,510.19L996.5,510.60L997.0,511.00L997.5,511.00L998.0,510.29L998.5,510.65L999.0,510.65L999.5,510.83L1000.0,511.00L1000.5,511.00L1001.0,510.45L1001.5,510.73L1002.0,511.00L1002.5,511.00L1003.0,511.00L1003.5,511.00L1004.0,510.31L1004.5,510.66L1005.0,510.55L1005.5,510.77L1006.0,510.67L1006.5,510.84L1007.0,510.11L1007.5,510.56L1008.0,511.00L1008.5,511.00L1009.0,510.75L1009.5,510.87L1010.0,511.00L1010.5,511.00L1011.0,510.77L1011.5,510.88L1012.0,510.69L1012.5,510.84L1013.0,511.00L1013.5,511.00L1014.0,510.72L1014.5,510.86L1015.0,510.44L1015.5,510.72L1016.0,511.00L1016.5,511.00L1017.0,511.00L1017.5,511.00L1018.0,510.29L1018.5,510.64L1019.0,511.00L1019.5,511.00L1020.0,511.00L1020.5,511.00L1021.0,510.77L1021.5,510.89L1022.0,510.65L1022.5,510.82L1023.0,511.00L1023.5,511.00L1024.0,511.00L1024.5,511.00L1025.0,508.97L1025.5,509.99L1026.0,510.25L1026.5,510.63L1027.0,511.00L1027.5,511.00L1028.0,510.26L1028.5,510.63L1029.0,510.80L1029.5,510.90L1030.0,510.31L1030.5,510.65L1031.0,511.00L1031.5,511.00L1032.0,511.00L1032.5,511.00L1033.0,511.00L1033.5,511.00L1034.0,510.37L1034.5,510.68L1035.0,510.31L1035.5,510.62L1036.0,510.25L1036.5,509.88L1037.0,509.50L1037.5,509.88L1038.0,510.25L1038.5,510.62L1039.0,510.39L1039.5,510.69L1040.0,511.00L1040.5,511.00L1041.0,511.00L1041.5,511.00L1042.0,510.51L1042.5,510.75L1043.0,511.00L1043.5,511.00L1044.0,511.00L1044.5,511.00L1045.0,510.73L1045.5,510.87L1046.0,511.00L1046.5,511.00L1047.0,510.55L1047.5,510.78L1048.0,510.82L1048.5,510.91L1049.0,511.00L1049.5,511.00L1050.0,510.30L1050.5,510.65L1051.0,510.32L1051.5,510.66L1052.0,511.00L1052.5,511.00L1053.0,511.00L1053.5,511.00L1054.0,510.51L1054.5,510.76L1055.0,510.20L1055.5,510.60L1056.0,511.00L1056.5,511.00L1057.0,511.00L1057.5,511.00L1058.0,510.32L1058.5,510.66L1059.0,510.70L1059.5,510.85L1060.0,511.00L1060.5,511.00L1061.0,511.00L1061.5,511.00L1062.0,510.23L1062.5,510.62L1063.0,511.00L1063.5,511.00L1064.0,511.00L1064.5,511.00L1065.0,511.00L1065.5,511.00L1066.0,510.75L1066.5,510.88L1067.0,511.00L1067.5,511.00L1068.0,510.75L1068.5,510.87L1069.0,511.00L1069.5,511.00L1070.0,510.20L1070.5,510.60L1071.0,511.00L1071.5,511.00L1072.0,510.14L1072.5,510.57L1073.0,511.00L1073.5,511.00L1074.0,511.00L1074.5,511.00L1075.0,508.98L1075.5,509.99L1076.0,511.00L1076.5,511.00L1077.0,511.00L1077.5,511.00L1078.0,510.46L1078.5,510.73L1079.0,510.67L1079.5,510.84L1080.0,509.58L1080.5,510.29L1081.0,511.00L1081.5,511.00L1082.0,511.00L1082.5,511.00L1083.0,511.00L1083.5,511.00L1084.0,511.00L1084.5,511.00L1085.0,510.69L1085.5,510.84L1086.0,510.17L1086.5,510.58L1087.0,510.34L1087.5,510.67L1088.0,511.00L1088.5,511.00L1089.0,511.00L1089.5,511.00L1090.0,510.71L1090.5,510.85L1091.0,510.41L1091.5,510.70L1092.0,511.00L1092.5,511.00L1093.0,511.00L1093.5,511.00L1094.0,510.81L1094.5,510.91L1095.0,511.00L1095.5,511.00L1096.0,510.64L1096.5,510.82L1097.0,510.30L1097.5,510.65L1098.0,510.76L1098.5,510.88L1099.0,511.00L1099.5,511.00L1100.0,510.17L1100.5,510.59L1101.0,511.00L1101.5,511.00L1102.0,510.39L1102.5,510.70L1103.0,511.00L1103.5,511.00L1104.0,510.14L1104.5,510.57L1105.0,510.36L1105.5,510.68L1106.0,510.21L1106.5,510.61L1107.0,511.00L1107.5,511.00L1108.0,510.40L1108.5,510.70L1109.0,511.00L1109.5,511.00L1110.0,511.00L1110.5,511.00L1111.0,511.00L1111.5,511.00L1112.0,510.81L1112.5,510.91L1113.0,511.00L1113.5,511.00L1114.0,511.00L1114.5,511.00L1115.0,510.29L1115.5,510.64L1116.0,511.00L1116.5,511.00L1117.0,511.00L1117.5,511.00L1118.0,510.80L1118.5,510.90L1119.0,511.00L1119.5,511.00L1120.0,511.00L1120.5,511.00L1121.0,510.78L1121.5,510.89L1122.0,510.79L1122.5,510.89L1123.0,511.00L1123.5,511.00L1124.0,511.00L1124.5,511.00L1125.0,511.00L1125.5,511.00L1126.0,511.00L1126.5,511.00L1127.0,510.48L1127.5,510.74L1128.0,511.00L1128.5,511.00L1129.0,511.00L1129.5,511.00L1130.0,510.68L1130.5,510.84L1131.0,510.36L1131.5,510.68L1132.0,510.64L1132.5,510.82L1133.0,510.53L1133.5,510.77L1134.0,510.39L1134.5,510.69L1135.0,510.59L1135.5,510.79L1136.0,511.00L1136.5,511.00L1137.0,510.34L1137.5,510.67L1138.0,510.58L1138.5,510.79L1139.0,511.00L1139.5,511.00L1140.0,511.00L1140.5,511.00L1141.0,511.00L1141.5,511.00L1142.0,511.00L1142.5,511.00L1143.0,510.63L1143.5,510.82L1144.0,511.00L1144.5,511.00L1145.0,511.00L1145.5,511.00L1146.0,511.00L1146.5,511.00L1147.0,511.00L1147.5,511.00L1148.0,510.63L1148.5,510.82L1149.0,510.58L1149.5,510.79L1150.0,511.00L1150.5,511.00L1151.0,510.15L1151.5,510.57L1152.0,510.25L1152.5,510.62L1153.0,510.27L1153.5,510.63L1154.0,511.00L1154.5,511.00L1155.0,510.12L1155.5,510.56L1156.0,510.75L1156.5,510.87L1157.0,511.00L1157.5,511.00L1158.0,510.75L1158.5,510.87L1159.0,510.64L1159.5,510.82L1160.0,510.55L1160.5,510.77L1161.0,511.00L1161.5,511.00L1162.0,510.81L1162.5,510.90L1163.0,510.23L1163.5,510.00L1164.0,509.00L1164.5,508.00L1165.0,509.00L1165.5,510.00L1166.0,511.00L1166.5,511.00L1167.0,511.00L1167.5,511.00L1168.0,510.32L1168.5,510.66L1169.0,511.00L1169.5,511.00L1170.0,510.16L1170.5,510.58L1171.0,510.43L1171.5,510.71L1172.0,511.00L1172.5,511.00L1173.0,511.00L1173.5,511.00L1174.0,511.00L1174.5,511.00L1175.0,510.60L1175.5,510.80L1176.0,510.24L1176.5,510.62L1177.0,510.62L1177.5,510.81L1178.0,511.00L1178.5,511.00L1179.0,511.00L1179.5,511.00L1180.0,510.25L1180.5,510.62L1181.0,510.19L1181.5,510.59L1182.0,511.00L1182.5,511.00L1183.0,511.00L1183.5,511.00L1184.0,511.00L1184.5,511.00L1185.0,511.00L1185.5,511.00L1186.0,510.30L1186.5,510.65L1187.0,511.00L1187.5,511.00L1188.0,510.74L1188.5,510.87L1189.0,510.44L1189.5,510.72L1190.0,511.00L1190.5,511.00L1191.0,511.00L1191.5,511.00L1192.0,511.00L1192.5,511.00L1193.0,510.17L1193.5,510.58L1194.0,511.00L1194.5,511.00L1195.0,510.22L1195.5,510.61L1196.0,511.00L1196.5,511.00L1197.0,511.00L1197.5,511.00L1198.0,510.35L1198.5,510.68L1199.0,511.00L1199.5,511.00L1200.0,511.00L1200.5,511.00L1201.0,510.58L1201.5,510.79L1202.0,510.37L1202.5,510.68L1203.0,511.00L1203.5,511.00L1204.0,510.52L1204.5,510.76L1205.0,510.45L1205.5,510.72L1206.0,511.00L1206.5,511.00L1207.0,511.00L1207.5,511.00L1208.0,508.91L1208.5,509.96L1209.0,510.40L1209.5,510.70L1210.0,510.66L1210.5,510.83L1211.0,510.51L1211.5,510.75L1212.0,511.00L1212.5,511.00L1213.0,511.00L1213.5,511.00L1214.0,511.00L1214.5,511.00L1215.0,511.00L1215.5,511.00L1216.0,511.00L1216.5,511.00L1217.0,510.25L1217.5,510.63L1218.0,511.00L1218.5,511.00L1219.0,510.63L1219.5,510.82L1220.0,510.61L1220.5,510.80L1221.0,510.42L1221.5,510.71L1222.0,510.66L1222.5,510.83L1223.0,511.00L1223.5,511.00L1224.0,510.41L1224.5,510.71L1225.0,510.22L1225.5,510.61L1226.0,510.45L1226.5,510.73L1227.0,510.11L1227.5,510.55L1228.0,511.00L1228.5,511.00L1229.0,510.49L1229.5,510.74L1230.0,510.27L1230.5,510.64L1231.0,511.00L1231.5,511.00L1232.0,511.00L1232.5,511.00L1233.0,510.49L1233.5,510.75L1234.0,511.00L1234.5,511.00L1235.0,510.59L1235.5,510.80L1236.0,511.00L1236.5,511.00L1237.0,511.00L1237.5,511.00L1238.0,509.28L1238.5,510.14L1239.0,511.00L1239.5,511.00L1240.0,511.00L1240.5,511.00L1241.0,510.56L1241.5,510.78L1242.0,511.00L1242.5,511.00L1243.0,510.32L1243.5,510.66L1244.0,510.47L1244.5,510.74L1245.0,511.00L1245.5,511.00L1246.0,510.21L1246.5,510.61L1247.0,511.00L1247.5,511.00L1248.0,510.47L1248.5,510.74L1249.0,510.39L1249.5,510.70L1250.0,511.00L1250.5,511.00L1251.0,510.71L1251.5,510.86L1252.0,510.29L1252.5,510.65L1253.0,511.00L1253.5,511.00L1254.0,511.00L1254.5,511.00L1255.0,511.00L1255.5,511.00L1256.0,511.00L1256.5,511.00L1257.0,510.29L1257.5,510.64L1258.0,510.59L1258.5,510.79L1259.0,510.68L1259.5,510.84L1260.0,510.31L1260.5,510.66L1261.0,511.00L1261.5,511.00L1262.0,508.84L1262.5,509.92L1263.0,511.00L1263.5,511.00L1264.0,511.00L1264.5,511.00L1265.0,511.00L1265.5,511.00L1266.0,510.67L1266.5,510.83L1267.0,511.00L1267.5,511.00L1268.0,510.12L1268.5,510.56L1269.0,511.00L1269.5,511.00L1270.0,511.00L1270.5,511.00L1271.0,510.30L1271.5,510.65L1272.0,511.00L1272.5,511.00L1273.0,511.00L1273.5,511.00L1274.0,510.80L1274.5,510.90L1275.0,510.67L1275.5,510.84L1276.0,511.00L1276.5,511.00L1277.0,511.00L1277.5,511.00L1278.0,510.13L1278.5,510.57L1279.0,511.00L1279.5,511.00L1280.0,511.00L1280.5,511.00L1281.0,511.00L1281.5,511.00L1282.0,511.00L1282.5,511.00L1283.0,510.35L1283.5,510.68L1284.0,510.35L1284.5,510.67L1285.0,511.00L1285.5,511.00L1286.0,511.00L1286.5,511.00L1287.0,510.25L1287.5,510.62L1288.0,511.00L1288.5,511.00L1289.0,511.00L1289.5,511.00L1290.0,511.00L1290.5,511.00L1291.0,510.65L1291.5,510.83L1292.0,509.43L1292.5,510.21L1293.0,511.00L1293.5,511.00L1294.0,510.60L1294.5,510.80L1295.0,511.00L1295.5,511.00L1296.0,510.63L1296.5,510.82L1297.0,510.54L1297.5,510.77L1298.0,510.53L1298.5,510.76L1299.0,511.00L1299.5,511.00L1300.0,510.77L1300.5,510.88L1301.0,511.00L1301.5,511.00L1302.0,511.00L1302.5,511.00L1303.0,510.59L1303.5,510.80L1304.0,511.00L1304.5,511.00L1305.0,511.00L1305.5,511.00L1306.0,511.00L1306.5,511.00L1307.0,510.82L1307.5,510.91L1308.0,511.00L1308.5,511.00L1309.0,510.60L1309.5,510.80L1310.0,510.30L1310.5,510.65L1311.0,510.66L1311.5,510.83L1312.0,511.00L1312.5,511.00L1313.0,510.02L1313.5,510.51L1314.0,511.00L1314.5,511.00L1315.0,510.74L1315.5,510.87L1316.0,510.60L1316.5,510.80L1317.0,510.67L1317.5,510.83L1318.0,511.00L1318.5,511.00L1319.0,511.00L1319.5,511.00L1320.0,511.00L1320.0,511.0 Z" fill="#F01BE5"/>
<rect x="351.7" y="510.69" width="1017.9" height="0.62" fill="#000"/>
<path d="M400.0,632.5L400.0,631.32L400.5,631.91L401.0,632.50L401.5,632.50L402.0,632.50L402.5,632.50L403.0,631.46L403.5,631.98L404.0,631.64L404.5,632.07L405.0,632.50L405.5,632.50L406.0,632.50L406.5,632.50L407.0,632.50L407.5,632.50L408.0,631.77L408.5,632.14L409.0,632.23L409.5,632.37L410.0,632.50L410.5,632.50L411.0,631.97L411.5,632.23L412.0,629.58L412.5,631.04L413.0,632.50L413.5,632.50L414.0,632.50L414.5,632.50L415.0,632.24L415.5,632.37L416.0,629.62L416.5,631.06L417.0,632.50L417.5,632.50L418.0,632.50L418.5,632.50L419.0,632.50L419.5,632.50L420.0,632.50L420.5,632.50L421.0,632.50L421.5,632.50L422.0,632.03L422.5,632.27L423.0,632.50L423.5,632.50L424.0,632.50L424.5,632.50L425.0,632.11L425.5,632.31L426.0,632.50L426.5,632.50L427.0,632.50L427.5,632.50L428.0,632.50L428.5,632.50L429.0,631.84L429.5,632.17L430.0,632.50L430.5,632.50L431.0,632.50L431.5,632.50L432.0,632.50L432.5,632.50L433.0,632.50L433.5,632.50L434.0,632.50L434.5,632.50L435.0,632.50L435.5,632.50L436.0,632.50L436.5,632.50L437.0,632.50L437.5,632.50L438.0,632.50L438.5,632.50L439.0,631.35L439.5,631.92L440.0,631.92L440.5,632.21L441.0,632.05L441.5,632.28L442.0,632.18L442.5,632.34L443.0,632.50L443.5,632.50L444.0,632.50L444.5,632.50L445.0,631.41L445.5,631.96L446.0,631.91L446.5,632.21L447.0,631.60L447.5,632.05L448.0,631.76L448.5,632.13L449.0,632.50L449.5,632.50L450.0,632.50L450.5,632.50L451.0,632.50L451.5,632.50L452.0,632.50L452.5,632.50L453.0,632.25L453.5,632.38L454.0,632.50L454.5,632.50L455.0,632.50L455.5,632.50L456.0,632.50L456.5,632.50L457.0,632.50L457.5,632.50L458.0,631.70L458.5,632.10L459.0,632.05L459.5,632.28L460.0,632.50L460.5,632.50L461.0,631.73L461.5,632.11L462.0,632.50L462.5,632.50L463.0,632.50L463.5,632.50L464.0,631.89L464.5,632.19L465.0,631.94L465.5,632.22L466.0,632.50L466.5,632.50L467.0,632.50L467.5,632.50L468.0,632.50L468.5,632.50L469.0,632.50L469.5,632.50L470.0,632.00L471.1,632.19L472.3,632.46L473.4,631.20L474.7,632.04L476.0,632.00L476.9,631.99L477.8,632.43L478.7,631.35L479.7,632.49L480.6,631.38L481.5,632.41L482.4,630.80L483.3,631.48L484.3,632.34L485.2,631.14L486.2,632.41L487.1,630.80L488.4,631.50L489.7,624.30L493.4,611.90L495.3,623.10L498.3,607.20L500.9,620.10L503.0,604.60L505.4,596.50L507.3,620.90L508.7,608.50L509.5,585.80L510.3,569.50L510.6,567.50L511.2,562.20L512.1,574.50L512.7,585.80L513.2,608.50L513.7,617.10L515.4,613.60L518.4,624.80L521.4,621.30L523.1,628.60L524.2,628.02L525.2,632.40L526.3,631.26L527.4,628.60L529.1,631.50L530.2,630.11L531.3,627.40L532.6,628.94L533.9,627.80L537.5,618.30L539.0,631.90L540.0,631.85L541.1,629.50L542.2,630.35L543.2,632.47L544.3,632.11L545.4,631.90L546.4,631.71L547.4,632.38L548.4,631.24L549.3,632.41L550.3,631.12L551.3,632.33L552.3,629.90L553.3,632.07L554.4,631.90L555.5,628.09L556.6,624.30L558.3,631.90L560.0,630.30L561.1,631.86L562.3,632.45L563.4,631.90L564.3,632.31L565.3,632.48L566.2,632.13L567.1,632.50L568.1,632.13L569.0,632.43L570.0,631.62L570.9,632.47L571.8,631.63L572.8,632.48L573.7,631.50L574.7,631.77L575.7,632.50L576.7,632.00L577.6,632.46L578.6,631.08L579.6,632.36L580.6,630.80L581.7,630.42L582.9,632.49L584.0,630.30L585.0,631.66L586.0,632.37L587.0,631.94L588.0,632.42L589.0,631.65L590.0,632.00L590.5,632.08L591.0,632.50L591.5,632.50L592.0,632.50L592.5,632.50L593.0,631.84L593.5,632.17L594.0,632.50L594.5,632.50L595.0,632.50L595.5,632.50L596.0,632.50L596.5,632.50L597.0,632.50L597.5,632.50L598.0,632.10L598.5,632.30L599.0,632.17L599.5,632.33L600.0,631.34L600.5,631.92L601.0,631.45L601.5,631.98L602.0,632.50L602.5,632.50L603.0,632.11L603.5,632.30L604.0,631.36L604.5,631.93L605.0,632.50L605.5,632.50L606.0,632.05L606.5,632.27L607.0,632.50L607.5,632.50L608.0,632.50L608.5,632.50L609.0,632.50L609.5,632.50L610.0,631.57L610.5,632.04L611.0,632.50L611.5,632.50L612.0,632.50L612.5,632.50L613.0,632.50L613.5,632.50L614.0,632.50L614.5,632.50L615.0,632.50L615.5,632.50L616.0,632.50L616.5,632.50L617.0,632.50L617.5,632.50L618.0,632.50L618.5,632.50L619.0,632.50L619.5,632.50L620.0,632.50L620.5,632.50L621.0,632.50L621.5,632.50L622.0,632.23L622.5,632.37L623.0,632.50L623.5,632.50L624.0,631.87L624.5,632.18L625.0,632.50L625.5,632.50L626.0,632.50L626.5,632.50L627.0,632.50L627.5,632.50L628.0,632.50L628.5,632.50L629.0,632.50L629.5,632.50L630.0,632.50L630.5,632.50L631.0,629.77L631.5,631.14L632.0,632.50L632.5,631.50L633.0,630.50L633.5,631.50L634.0,632.16L634.5,632.33L635.0,631.54L635.5,632.02L636.0,632.50L636.5,632.50L637.0,632.12L637.5,632.31L638.0,632.50L638.5,632.50L639.0,631.64L639.5,632.07L640.0,631.31L640.5,631.91L641.0,632.50L641.5,632.50L642.0,631.95L642.5,632.22L643.0,632.50L643.5,632.50L644.0,632.50L644.5,632.50L645.0,631.79L645.5,632.15L646.0,631.80L646.5,632.15L647.0,632.50L647.5,632.50L648.0,632.50L648.5,632.50L649.0,632.50L649.5,632.50L650.0,631.39L650.5,631.94L651.0,631.97L651.5,632.24L652.0,632.50L652.5,632.50L653.0,631.76L653.5,632.13L654.0,631.30L654.5,631.90L655.0,632.50L655.5,632.50L656.0,632.50L656.5,632.50L657.0,631.64L657.5,632.07L658.0,632.50L658.5,632.50L659.0,631.59L659.5,632.04L660.0,631.60L660.5,632.05L661.0,631.67L661.5,630.83L662.0,630.00L662.5,630.83L663.0,631.67L663.5,632.50L664.0,632.50L664.5,632.50L665.0,632.50L665.5,632.50L666.0,631.68L666.5,632.09L667.0,631.65L667.5,632.07L668.0,632.50L668.5,632.50L669.0,632.50L669.5,632.50L670.0,632.50L670.5,632.50L671.0,632.50L671.5,632.50L672.0,632.50L672.5,632.50L673.0,632.50L673.5,632.50L674.0,632.50L674.5,632.50L675.0,632.50L675.5,632.50L676.0,631.70L676.5,632.10L677.0,632.50L677.5,632.50L678.0,631.82L678.5,632.16L679.0,631.77L679.5,632.13L680.0,632.50L680.5,632.50L681.0,632.50L681.5,632.50L682.0,632.06L682.5,632.28L683.0,632.50L683.5,632.50L684.0,631.43L684.5,631.97L685.0,632.50L685.5,632.50L686.0,632.50L686.5,632.50L687.0,632.50L687.5,632.50L688.0,632.50L688.5,632.50L689.0,631.36L689.5,631.93L690.0,631.98L690.5,632.24L691.0,632.50L691.5,632.50L692.0,632.07L692.5,632.29L693.0,631.31L693.5,631.91L694.0,631.74L694.5,632.12L695.0,632.50L695.5,632.50L696.0,631.90L696.5,631.50L697.0,630.50L697.5,631.50L698.0,632.50L698.5,632.50L699.0,632.50L699.5,631.50L700.0,630.50L700.5,631.50L701.0,632.50L701.5,632.50L702.0,632.50L702.5,632.50L703.0,631.66L703.5,632.08L704.0,631.79L704.5,632.14L705.0,631.72L705.5,632.11L706.0,632.50L706.5,632.50L707.0,632.50L707.5,632.50L708.0,632.50L708.5,632.50L709.0,631.57L709.5,632.03L710.0,631.90L710.5,632.20L711.0,632.50L711.5,632.50L712.0,632.50L712.5,632.50L713.0,632.50L713.5,632.50L714.0,632.50L714.5,632.50L715.0,631.98L715.5,632.24L716.0,632.50L716.5,632.50L717.0,632.50L717.5,632.50L718.0,631.50L718.5,632.00L719.0,631.95L719.5,632.23L720.0,632.50L720.5,632.50L721.0,631.33L721.5,631.91L722.0,632.13L722.5,632.32L723.0,631.56L723.5,632.03L724.0,632.50L724.5,632.50L725.0,631.65L725.5,632.08L726.0,632.50L726.5,632.50L727.0,632.50L727.5,632.50L728.0,632.50L728.5,632.50L729.0,631.63L729.5,632.07L730.0,631.77L730.5,632.13L731.0,631.31L731.5,631.90L732.0,632.50L732.5,632.50L733.0,632.50L733.5,632.50L734.0,631.70L734.5,632.10L735.0,632.50L735.5,632.50L736.0,632.50L736.5,632.50L737.0,631.39L737.5,631.94L738.0,631.34L738.5,631.92L739.0,632.50L739.5,632.50L740.0,632.50L740.5,632.50L741.0,631.82L741.5,632.16L742.0,631.58L742.5,632.04L743.0,632.17L743.5,632.33L744.0,631.77L744.5,632.13L745.0,632.50L745.5,632.50L746.0,631.57L746.5,632.03L747.0,632.50L747.5,632.50L748.0,632.50L748.5,632.50L749.0,632.50L749.5,632.50L750.0,632.50L750.5,632.50L751.0,631.77L751.5,632.13L752.0,632.50L752.5,632.50L753.0,632.50L753.5,632.50L754.0,632.13L754.5,632.31L755.0,632.50L755.5,632.50L756.0,632.50L756.5,632.50L757.0,632.15L757.5,632.32L758.0,631.44L758.5,631.97L759.0,631.44L759.5,631.97L760.0,632.50L760.5,632.50L761.0,631.40L761.5,631.95L762.0,632.50L762.5,632.50L763.0,631.74L763.5,632.12L764.0,631.37L764.5,631.94L765.0,632.50L765.5,632.50L766.0,632.50L766.5,632.50L767.0,632.03L767.5,632.27L768.0,631.51L768.5,632.00L769.0,632.50L769.5,632.50L770.0,631.36L770.5,631.93L771.0,631.77L771.5,632.14L772.0,631.68L772.5,632.09L773.0,632.50L773.5,632.50L774.0,631.82L774.5,632.16L775.0,632.50L775.5,632.50L776.0,632.50L776.5,632.50L777.0,632.50L777.5,632.50L778.0,631.99L778.5,632.24L779.0,631.67L779.5,632.08L780.0,632.50L780.5,632.50L781.0,632.50L781.5,632.50L782.0,632.11L782.5,632.31L783.0,632.50L783.5,632.50L784.0,631.38L784.5,631.94L785.0,632.50L785.5,632.50L786.0,632.50L786.5,632.50L787.0,632.50L787.5,632.50L788.0,632.50L788.5,632.50L789.0,632.50L789.5,632.50L790.0,632.50L790.5,632.50L791.0,632.50L791.5,632.50L792.0,632.50L792.5,631.50L793.0,630.50L793.5,631.50L794.0,632.50L794.5,632.50L795.0,632.19L795.5,632.34L796.0,632.50L796.5,632.50L797.0,632.10L797.5,632.30L798.0,631.75L798.5,632.13L799.0,632.50L799.5,632.50L800.0,632.16L800.5,632.33L801.0,632.00L801.5,632.25L802.0,631.58L802.5,632.04L803.0,631.99L803.5,632.24L804.0,632.20L804.5,632.35L805.0,632.50L805.5,632.50L806.0,631.49L806.5,632.00L807.0,632.50L807.5,632.50L808.0,632.50L808.5,632.50L809.0,632.50L809.5,632.50L810.0,632.50L810.5,632.50L811.0,632.50L811.5,632.50L812.0,631.70L812.5,632.10L813.0,631.35L813.5,631.92L814.0,631.57L814.5,632.03L815.0,632.50L815.5,632.50L816.0,632.50L816.5,632.50L817.0,632.16L817.5,632.33L818.0,632.50L818.5,632.50L819.0,631.57L819.5,632.04L820.0,632.50L820.5,632.50L821.0,631.33L821.5,631.91L822.0,631.36L822.5,631.93L823.0,631.93L823.5,632.22L824.0,632.50L824.5,632.50L825.0,632.50L825.5,632.50L826.0,631.69L826.5,632.10L827.0,630.02L827.5,631.26L828.0,632.50L828.5,632.50L829.0,632.50L829.5,632.50L830.0,631.56L830.5,632.03L831.0,632.50L831.5,632.50L832.0,631.55L832.5,632.02L833.0,631.63L833.5,632.07L834.0,632.21L834.5,632.35L835.0,631.39L835.5,631.94L836.0,632.11L836.5,632.30L837.0,631.31L837.5,631.91L838.0,631.68L838.5,632.09L839.0,632.50L839.5,632.50L840.0,632.17L840.5,632.34L841.0,632.50L841.5,632.50L842.0,631.93L842.5,632.22L843.0,631.43L843.5,631.97L844.0,632.50L844.5,632.50L845.0,632.50L845.5,632.50L846.0,632.10L846.5,632.30L847.0,632.50L847.5,631.50L848.0,630.50L848.5,631.50L849.0,632.50L849.5,632.50L850.0,632.50L850.5,632.50L851.0,632.11L851.5,632.30L852.0,632.03L852.5,632.27L853.0,631.31L853.5,631.90L854.0,632.11L854.5,632.30L855.0,632.50L855.5,632.50L856.0,631.92L856.5,632.21L857.0,631.71L857.5,632.11L858.0,632.50L858.5,632.50L859.0,632.50L859.5,632.50L860.0,631.78L860.5,632.14L861.0,631.88L861.5,632.19L862.0,631.71L862.5,632.10L863.0,631.51L863.5,632.01L864.0,632.50L864.5,632.50L865.0,632.50L865.5,632.50L866.0,632.50L866.5,632.50L867.0,631.25L867.5,631.88L868.0,632.50L868.5,632.50L869.0,632.50L869.5,631.50L870.0,630.50L870.5,631.50L871.0,632.50L871.5,632.50L872.0,631.38L872.5,631.94L873.0,632.20L873.5,632.35L874.0,632.50L874.5,632.50L875.0,632.50L875.5,632.50L876.0,632.50L876.5,632.50L877.0,632.04L877.5,632.27L878.0,632.50L878.5,632.50L879.0,632.50L879.5,632.50L880.0,632.50L880.5,632.50L881.0,632.50L881.5,632.50L882.0,631.67L882.5,632.08L883.0,632.50L883.5,632.50L884.0,631.57L884.5,632.03L885.0,632.50L885.5,632.50L886.0,631.67L886.5,632.09L887.0,632.50L887.5,632.50L888.0,631.61L888.5,632.06L889.0,632.50L889.5,632.50L890.0,632.07L890.5,632.28L891.0,632.50L891.5,632.50L892.0,631.60L892.5,632.05L893.0,631.65L893.5,632.07L894.0,630.05L894.5,631.28L895.0,632.50L895.5,632.50L896.0,632.50L896.5,632.50L897.0,631.98L897.5,632.24L898.0,632.24L898.5,632.37L899.0,632.16L899.5,632.33L900.0,632.50L900.5,632.50L901.0,632.50L901.5,632.50L902.0,632.19L902.5,632.34L903.0,632.50L903.5,632.50L904.0,631.67L904.5,632.09L905.0,632.21L905.5,632.35L906.0,631.56L906.5,632.03L907.0,632.50L907.5,632.50L908.0,632.07L908.5,632.29L909.0,632.50L909.5,632.50L910.0,632.13L910.5,632.31L911.0,632.50L911.5,632.50L912.0,632.14L912.5,632.32L913.0,632.50L913.5,632.50L914.0,632.50L914.5,632.50L915.0,632.50L915.5,632.50L916.0,632.50L916.5,632.50L917.0,631.58L917.5,632.04L918.0,632.50L918.5,632.50L919.0,632.50L919.5,632.50L920.0,631.32L920.5,631.91L921.0,632.50L921.5,632.50L922.0,632.50L922.5,632.50L923.0,632.50L923.5,632.50L924.0,632.50L924.5,632.50L925.0,632.50L925.5,632.50L926.0,631.83L926.5,632.17L927.0,632.50L927.5,632.50L928.0,632.50L928.5,632.50L929.0,631.69L929.5,632.09L930.0,632.50L930.5,632.50L931.0,631.95L931.5,632.22L932.0,632.50L932.5,632.50L933.0,632.50L933.5,632.50L934.0,632.09L934.5,632.29L935.0,632.25L935.5,632.37L936.0,629.99L936.5,631.24L937.0,632.50L937.5,632.50L938.0,632.01L938.5,632.25L939.0,632.50L939.5,632.50L940.0,631.82L940.5,632.16L941.0,631.40L941.5,631.95L942.0,632.22L942.5,632.36L943.0,632.50L943.5,632.50L944.0,632.50L944.5,632.50L945.0,632.50L945.5,632.50L946.0,630.28L946.5,631.39L947.0,632.24L947.5,632.37L948.0,632.50L948.5,632.50L949.0,632.50L949.5,632.50L950.0,632.50L950.5,632.50L951.0,631.75L951.5,632.13L952.0,631.53L952.5,632.01L953.0,631.49L953.5,631.99L954.0,631.57L954.5,632.03L955.0,632.50L955.5,632.50L956.0,631.79L956.5,632.15L957.0,632.50L957.5,632.50L958.0,632.18L958.5,632.34L959.0,631.60L959.5,632.05L960.0,632.50L960.5,632.50L961.0,632.50L961.5,632.50L962.0,631.36L962.5,631.93L963.0,632.50L963.5,632.50L964.0,632.23L964.5,632.37L965.0,632.50L965.5,632.50L966.0,632.50L966.5,632.50L967.0,631.81L967.5,632.16L968.0,631.38L968.5,631.94L969.0,632.50L969.5,632.50L970.0,631.56L970.5,632.03L971.0,631.53L971.5,632.02L972.0,631.35L972.5,631.93L973.0,631.92L973.5,632.21L974.0,631.37L974.5,631.94L975.0,632.50L975.5,632.50L976.0,632.50L976.5,632.50L977.0,632.50L977.5,632.50L978.0,632.50L978.5,632.50L979.0,632.50L979.5,632.50L980.0,632.50L980.5,632.50L981.0,632.50L981.5,632.50L982.0,632.50L982.5,632.50L983.0,632.50L983.5,632.50L984.0,632.50L984.5,632.50L985.0,632.50L985.5,632.50L986.0,631.30L986.5,631.90L987.0,631.53L987.5,632.02L988.0,631.91L988.5,632.21L989.0,632.50L989.5,632.50L990.0,632.50L990.5,632.50L991.0,631.67L991.5,632.09L992.0,632.50L992.5,632.50L993.0,631.54L993.5,632.02L994.0,632.50L994.5,632.50L995.0,631.59L995.5,632.05L996.0,632.50L996.5,632.50L997.0,631.82L997.5,632.16L998.0,631.70L998.5,632.10L999.0,632.50L999.5,632.50L1000.0,632.50L1000.5,632.50L1001.0,632.50L1001.5,632.50L1002.0,631.49L1002.5,632.00L1003.0,631.40L1003.5,631.95L1004.0,632.05L1004.5,632.28L1005.0,631.79L1005.5,632.15L1006.0,632.03L1006.5,632.27L1007.0,632.50L1007.5,632.50L1008.0,629.86L1008.5,631.18L1009.0,632.50L1009.5,632.50L1010.0,632.50L1010.5,632.50L1011.0,632.50L1011.5,632.50L1012.0,631.93L1012.5,632.21L1013.0,632.50L1013.5,632.50L1014.0,631.39L1014.5,631.94L1015.0,632.50L1015.5,632.50L1016.0,631.86L1016.5,632.18L1017.0,631.65L1017.5,632.08L1018.0,632.50L1018.5,632.50L1019.0,632.50L1019.5,632.50L1020.0,632.50L1020.5,632.50L1021.0,632.50L1021.5,632.50L1022.0,631.66L1022.5,632.08L1023.0,632.50L1023.5,632.50L1024.0,632.50L1024.5,632.50L1025.0,632.01L1025.5,632.25L1026.0,632.50L1026.5,632.50L1027.0,631.94L1027.5,632.22L1028.0,631.89L1028.5,632.19L1029.0,632.50L1029.5,632.50L1030.0,631.43L1030.5,631.97L1031.0,631.32L1031.5,631.91L1032.0,631.75L1032.5,632.13L1033.0,632.00L1033.5,632.25L1034.0,632.17L1034.5,632.33L1035.0,632.50L1035.5,632.00L1036.0,631.50L1036.5,631.00L1037.0,630.50L1037.5,631.00L1038.0,631.50L1038.5,632.00L1039.0,631.76L1039.5,632.13L1040.0,632.50L1040.5,632.50L1041.0,631.82L1041.5,632.16L1042.0,630.24L1042.5,631.37L1043.0,632.50L1043.5,632.50L1044.0,632.50L1044.5,632.50L1045.0,632.50L1045.5,632.50L1046.0,631.44L1046.5,631.97L1047.0,632.50L1047.5,632.50L1048.0,632.50L1048.5,632.50L1049.0,632.50L1049.5,632.50L1050.0,632.50L1050.5,632.50L1051.0,632.50L1051.5,632.50L1052.0,632.03L1052.5,632.26L1053.0,630.99L1053.5,631.75L1054.0,632.50L1054.5,632.50L1055.0,632.50L1055.5,632.50L1056.0,631.76L1056.5,632.13L1057.0,631.76L1057.5,632.13L1058.0,631.87L1058.5,632.18L1059.0,632.50L1059.5,632.50L1060.0,631.70L1060.5,632.10L1061.0,632.50L1061.5,632.50L1062.0,632.50L1062.5,632.50L1063.0,632.50L1063.5,632.50L1064.0,631.36L1064.5,631.93L1065.0,632.50L1065.5,632.50L1066.0,632.50L1066.5,632.50L1067.0,631.78L1067.5,632.14L1068.0,631.35L1068.5,631.93L1069.0,632.50L1069.5,632.50L1070.0,631.77L1070.5,632.13L1071.0,631.39L1071.5,631.95L1072.0,632.50L1072.5,632.50L1073.0,632.19L1073.5,632.35L1074.0,632.50L1074.5,632.50L1075.0,632.17L1075.5,632.34L1076.0,631.92L1076.5,632.21L1077.0,631.73L1077.5,632.11L1078.0,632.50L1078.5,632.50L1079.0,632.17L1079.5,632.34L1080.0,632.50L1080.5,632.50L1081.0,631.40L1081.5,631.95L1082.0,632.50L1082.5,632.50L1083.0,630.02L1083.5,631.26L1084.0,631.78L1084.5,632.14L1085.0,632.50L1085.5,632.50L1086.0,632.50L1086.5,632.50L1087.0,632.24L1087.5,632.37L1088.0,632.50L1088.5,632.50L1089.0,632.50L1089.5,632.50L1090.0,630.53L1090.5,631.51L1091.0,632.50L1091.5,632.50L1092.0,632.50L1092.5,632.50L1093.0,631.81L1093.5,632.15L1094.0,631.41L1094.5,631.96L1095.0,632.50L1095.5,632.50L1096.0,632.50L1096.5,632.50L1097.0,632.50L1097.5,632.50L1098.0,632.50L1098.5,632.50L1099.0,631.46L1099.5,631.98L1100.0,631.71L1100.5,632.10L1101.0,631.77L1101.5,632.14L1102.0,632.50L1102.5,632.50L1103.0,629.54L1103.5,631.02L1104.0,632.50L1104.5,632.50L1105.0,632.50L1105.5,632.50L1106.0,631.67L1106.5,632.08L1107.0,632.50L1107.5,632.50L1108.0,632.50L1108.5,632.50L1109.0,632.50L1109.5,632.50L1110.0,632.03L1110.5,632.26L1111.0,632.08L1111.5,632.29L1112.0,631.97L1112.5,632.23L1113.0,631.51L1113.5,632.01L1114.0,631.90L1114.5,632.20L1115.0,632.50L1115.5,632.50L1116.0,631.56L1116.5,632.03L1117.0,631.93L1117.5,632.21L1118.0,632.50L1118.5,632.50L1119.0,632.24L1119.5,632.37L1120.0,631.54L1120.5,632.02L1121.0,632.50L1121.5,632.50L1122.0,632.19L1122.5,632.35L1123.0,631.53L1123.5,632.02L1124.0,632.50L1124.5,632.50L1125.0,632.50L1125.5,632.50L1126.0,631.78L1126.5,632.14L1127.0,632.50L1127.5,632.50L1128.0,632.50L1128.5,632.50L1129.0,631.44L1129.5,631.97L1130.0,632.15L1130.5,632.33L1131.0,631.49L1131.5,632.00L1132.0,632.50L1132.5,632.50L1133.0,632.50L1133.5,632.50L1134.0,632.50L1134.5,632.50L1135.0,632.50L1135.5,632.50L1136.0,631.84L1136.5,632.17L1137.0,631.80L1137.5,632.15L1138.0,632.50L1138.5,632.50L1139.0,632.50L1139.5,632.50L1140.0,632.50L1140.5,632.50L1141.0,632.50L1141.5,632.50L1142.0,632.50L1142.5,632.50L1143.0,631.67L1143.5,632.08L1144.0,631.99L1144.5,632.25L1145.0,632.25L1145.5,632.38L1146.0,632.01L1146.5,632.26L1147.0,632.50L1147.5,632.50L1148.0,631.42L1148.5,631.96L1149.0,632.03L1149.5,632.26L1150.0,631.58L1150.5,632.04L1151.0,631.99L1151.5,632.24L1152.0,632.50L1152.5,632.50L1153.0,631.63L1153.5,632.07L1154.0,631.91L1154.5,632.20L1155.0,631.92L1155.5,632.21L1156.0,631.36L1156.5,631.93L1157.0,632.50L1157.5,632.50L1158.0,631.61L1158.5,632.05L1159.0,632.50L1159.5,632.50L1160.0,632.50L1160.5,632.50L1161.0,632.50L1161.5,632.50L1162.0,632.50L1162.5,631.25L1163.0,630.00L1163.5,628.75L1164.0,627.50L1164.5,628.75L1165.0,630.00L1165.5,631.25L1166.0,632.50L1166.5,632.50L1167.0,632.50L1167.5,632.50L1168.0,632.18L1168.5,632.34L1169.0,632.50L1169.5,632.50L1170.0,631.93L1170.5,632.22L1171.0,631.95L1171.5,632.23L1172.0,631.67L1172.5,632.09L1173.0,632.13L1173.5,632.32L1174.0,631.50L1174.5,632.00L1175.0,632.50L1175.5,632.50L1176.0,632.01L1176.5,632.25L1177.0,632.03L1177.5,632.26L1178.0,631.53L1178.5,632.02L1179.0,631.53L1179.5,632.01L1180.0,632.50L1180.5,631.75L1181.0,631.00L1181.5,631.75L1182.0,632.50L1182.5,632.50L1183.0,632.50L1183.5,632.50L1184.0,631.81L1184.5,632.16L1185.0,631.74L1185.5,632.12L1186.0,631.45L1186.5,631.97L1187.0,631.74L1187.5,632.12L1188.0,631.92L1188.5,632.21L1189.0,632.50L1189.5,632.50L1190.0,631.92L1190.5,632.21L1191.0,631.50L1191.5,632.00L1192.0,632.50L1192.5,632.50L1193.0,632.50L1193.5,632.50L1194.0,631.16L1194.5,631.83L1195.0,632.50L1195.5,632.50L1196.0,632.50L1196.5,632.50L1197.0,632.05L1197.5,632.28L1198.0,632.07L1198.5,632.28L1199.0,631.93L1199.5,632.22L1200.0,632.50L1200.5,632.50L1201.0,631.30L1201.5,631.90L1202.0,632.50L1202.5,632.50L1203.0,632.50L1203.5,632.50L1204.0,631.37L1204.5,631.94L1205.0,632.50L1205.5,632.50L1206.0,632.50L1206.5,632.50L1207.0,632.50L1207.5,632.50L1208.0,631.87L1208.5,632.19L1209.0,631.55L1209.5,632.02L1210.0,631.84L1210.5,632.17L1211.0,631.98L1211.5,632.24L1212.0,632.50L1212.5,632.50L1213.0,632.50L1213.5,632.50L1214.0,631.72L1214.5,632.11L1215.0,632.50L1215.5,632.50L1216.0,632.50L1216.5,632.50L1217.0,632.50L1217.5,632.50L1218.0,631.52L1218.5,632.01L1219.0,632.50L1219.5,632.50L1220.0,632.50L1220.5,632.50L1221.0,632.50L1221.5,632.50L1222.0,632.50L1222.5,632.50L1223.0,632.50L1223.5,632.50L1224.0,632.17L1224.5,632.33L1225.0,632.50L1225.5,632.50L1226.0,632.50L1226.5,632.50L1227.0,631.70L1227.5,632.10L1228.0,632.18L1228.5,632.34L1229.0,631.80L1229.5,632.15L1230.0,632.50L1230.5,632.50L1231.0,632.50L1231.5,632.50L1232.0,631.72L1232.5,632.11L1233.0,631.69L1233.5,632.09L1234.0,631.62L1234.5,632.06L1235.0,632.50L1235.5,632.50L1236.0,632.50L1236.5,632.50L1237.0,632.50L1237.5,632.50L1238.0,631.93L1238.5,632.21L1239.0,632.50L1239.5,632.50L1240.0,632.06L1240.5,632.28L1241.0,632.50L1241.5,632.50L1242.0,632.50L1242.5,632.50L1243.0,631.71L1243.5,632.10L1244.0,632.50L1244.5,632.50L1245.0,631.56L1245.5,632.03L1246.0,632.01L1246.5,632.26L1247.0,632.50L1247.5,632.50L1248.0,631.97L1248.5,632.24L1249.0,632.50L1249.5,632.50L1250.0,632.25L1250.5,632.38L1251.0,632.50L1251.5,632.50L1252.0,632.25L1252.5,632.37L1253.0,631.41L1253.5,631.96L1254.0,631.87L1254.5,632.19L1255.0,631.67L1255.5,632.09L1256.0,632.50L1256.5,632.50L1257.0,631.43L1257.5,631.97L1258.0,631.37L1258.5,631.94L1259.0,632.50L1259.5,632.50L1260.0,631.91L1260.5,632.20L1261.0,632.50L1261.5,632.50L1262.0,631.39L1262.5,631.94L1263.0,632.50L1263.5,632.50L1264.0,632.50L1264.5,632.50L1265.0,632.50L1265.5,632.50L1266.0,631.63L1266.5,632.07L1267.0,632.50L1267.5,632.50L1268.0,632.50L1268.5,632.50L1269.0,632.50L1269.5,632.50L1270.0,632.50L1270.5,632.50L1271.0,632.50L1271.5,632.50L1272.0,632.50L1272.5,632.50L1273.0,630.32L1273.5,631.41L1274.0,632.50L1274.5,632.50L1275.0,632.50L1275.5,632.50L1276.0,631.97L1276.5,632.23L1277.0,631.33L1277.5,631.91L1278.0,632.02L1278.5,632.26L1279.0,632.50L1279.5,632.50L1280.0,632.50L1280.5,632.50L1281.0,632.50L1281.5,632.50L1282.0,632.04L1282.5,632.27L1283.0,631.31L1283.5,631.91L1284.0,632.50L1284.5,632.50L1285.0,632.50L1285.5,632.50L1286.0,631.76L1286.5,632.13L1287.0,632.50L1287.5,632.50L1288.0,631.52L1288.5,632.01L1289.0,632.50L1289.5,632.50L1290.0,631.39L1290.5,631.94L1291.0,631.48L1291.5,631.99L1292.0,632.50L1292.5,632.50L1293.0,632.50L1293.5,632.50L1294.0,632.50L1294.5,632.50L1295.0,632.22L1295.5,632.36L1296.0,632.50L1296.5,632.50L1297.0,632.50L1297.5,632.50L1298.0,631.33L1298.5,631.91L1299.0,631.34L1299.5,631.92L1300.0,632.50L1300.5,632.50L1301.0,632.11L1301.5,632.31L1302.0,632.50L1302.5,632.50L1303.0,632.50L1303.5,632.50L1304.0,632.50L1304.5,632.50L1305.0,631.52L1305.5,632.01L1306.0,632.50L1306.5,632.50L1307.0,629.66L1307.5,631.08L1308.0,632.26L1308.5,632.38L1309.0,631.72L1309.5,632.11L1310.0,632.50L1310.5,632.50L1311.0,631.52L1311.5,632.01L1312.0,632.50L1312.5,632.50L1313.0,631.37L1313.5,631.93L1314.0,631.43L1314.5,631.97L1315.0,632.50L1315.5,632.50L1316.0,631.95L1316.5,632.23L1317.0,632.50L1317.5,632.50L1318.0,632.07L1318.5,632.29L1319.0,632.50L1319.5,632.50L1320.0,632.05L1320.0,632.5 Z" fill="#B315AD"/>
<rect x="351.7" y="632.19" width="1017.9" height="0.62" fill="#000"/>
<path d="M400.0,754.2L400.0,754.20L400.5,754.20L401.0,754.20L401.5,754.20L402.0,754.20L402.5,754.20L403.0,754.20L403.5,754.20L404.0,754.20L404.5,753.83L405.0,753.45L405.5,753.08L406.0,752.70L406.5,753.08L407.0,753.45L407.5,753.83L408.0,753.44L408.5,753.82L409.0,754.20L409.5,754.20L410.0,754.20L410.5,754.20L411.0,753.46L411.5,753.83L412.0,753.85L412.5,754.03L413.0,753.68L413.5,753.94L414.0,754.20L414.5,754.20L415.0,753.76L415.5,753.98L416.0,754.20L416.5,754.20L417.0,754.20L417.5,754.20L418.0,753.35L418.5,753.78L419.0,754.20L419.5,754.20L420.0,753.59L420.5,753.89L421.0,753.43L421.5,753.82L422.0,754.20L422.5,754.20L423.0,754.20L423.5,754.20L424.0,753.58L424.5,753.89L425.0,754.20L425.5,754.20L426.0,754.20L426.5,754.20L427.0,753.35L427.5,753.78L428.0,754.20L428.5,754.20L429.0,754.20L429.5,754.20L430.0,753.64L430.5,753.92L431.0,753.93L431.5,754.06L432.0,754.20L432.5,754.20L433.0,754.20L433.5,754.20L434.0,753.77L434.5,753.99L435.0,753.75L435.5,753.97L436.0,754.20L436.5,754.20L437.0,754.20L437.5,754.20L438.0,753.71L438.5,753.95L439.0,754.20L439.5,754.20L440.0,753.86L440.5,754.03L441.0,753.59L441.5,753.89L442.0,754.20L442.5,754.20L443.0,753.57L443.5,753.88L444.0,753.41L444.5,753.80L445.0,754.20L445.5,754.20L446.0,752.35L446.5,753.28L447.0,753.50L447.5,753.85L448.0,754.20L448.5,754.20L449.0,754.20L449.5,754.20L450.0,753.57L450.5,753.88L451.0,754.20L451.5,754.20L452.0,753.39L452.5,753.80L453.0,754.20L453.5,754.20L454.0,753.51L454.5,753.85L455.0,753.50L455.5,753.85L456.0,754.20L456.5,754.20L457.0,753.64L457.5,753.92L458.0,754.20L458.5,754.20L459.0,753.56L459.5,753.88L460.0,754.20L460.5,754.20L461.0,753.44L461.5,753.82L462.0,754.20L462.5,754.20L463.0,754.20L463.5,754.20L464.0,753.83L464.5,754.02L465.0,754.20L465.5,754.20L466.0,753.73L466.5,753.97L467.0,754.20L467.5,754.20L468.0,753.55L468.5,753.88L469.0,754.20L469.5,754.20L470.0,753.50L470.9,753.99L471.8,754.19L472.7,753.79L473.6,754.15L474.5,754.00L475.5,754.18L476.4,753.93L477.3,754.13L478.2,753.43L479.1,754.19L480.0,753.50L481.1,753.58L482.2,754.17L483.2,752.04L484.3,754.01L485.4,751.20L486.7,752.54L488.0,752.40L489.1,751.29L490.1,749.10L493.6,745.20L495.3,749.10L497.9,737.90L499.6,739.20L500.9,743.90L503.0,731.90L505.4,722.90L507.3,745.60L508.6,718.20L509.5,702.20L510.5,687.40L511.3,694.20L511.6,697.20L512.3,712.20L513.0,728.20L513.7,740.50L515.4,736.60L518.4,749.10L521.4,742.60L524.0,748.20L525.1,746.73L526.3,753.72L527.4,746.50L529.1,754.20L530.2,751.61L531.3,746.50L532.6,750.20L533.9,746.90L535.0,749.68L536.0,747.70L537.5,737.90L539.0,753.80L540.0,752.95L541.1,752.10L542.2,753.68L543.2,754.19L544.3,753.55L545.4,753.80L546.4,753.26L547.4,754.11L548.4,752.25L549.3,754.11L550.3,753.09L551.3,753.96L552.3,749.90L553.3,752.78L554.4,753.80L556.6,744.30L558.3,753.80L559.3,753.36L560.3,754.03L561.3,751.60L562.3,752.28L563.3,754.16L564.3,753.80L565.2,753.86L566.1,754.15L567.0,753.96L567.9,754.18L568.8,753.70L569.7,754.17L570.6,753.87L571.5,754.18L572.5,753.35L573.4,754.13L574.3,753.36L575.2,754.19L576.1,753.38L577.0,754.06L577.9,752.71L578.8,754.16L579.7,752.65L580.6,752.10L581.9,751.99L583.1,752.10L584.1,752.18L585.1,754.18L586.1,753.83L587.0,754.11L588.0,753.80L589.0,754.14L590.0,753.70L590.5,754.09L591.0,754.20L591.5,754.20L592.0,754.20L592.5,754.20L593.0,753.52L593.5,753.86L594.0,753.78L594.5,753.99L595.0,753.50L595.5,753.85L596.0,754.20L596.5,754.20L597.0,754.20L597.5,754.20L598.0,754.20L598.5,754.20L599.0,753.88L599.5,754.04L600.0,753.65L600.5,753.93L601.0,754.20L601.5,754.20L602.0,753.32L602.5,753.76L603.0,754.20L603.5,754.20L604.0,754.20L604.5,754.20L605.0,753.65L605.5,753.92L606.0,754.20L606.5,754.20L607.0,753.33L607.5,753.76L608.0,753.63L608.5,753.92L609.0,754.20L609.5,754.20L610.0,754.20L610.5,754.20L611.0,752.68L611.5,753.44L612.0,754.00L612.5,754.10L613.0,754.20L613.5,754.20L614.0,754.20L614.5,754.20L615.0,754.20L615.5,754.20L616.0,753.34L616.5,753.77L617.0,754.20L617.5,754.20L618.0,754.20L618.5,754.20L619.0,754.20L619.5,754.20L620.0,754.20L620.5,754.20L621.0,754.20L621.5,754.20L622.0,753.86L622.5,754.03L623.0,753.32L623.5,753.76L624.0,753.53L624.5,753.87L625.0,754.20L625.5,754.20L626.0,754.20L626.5,754.20L627.0,754.20L627.5,754.20L628.0,753.90L628.5,754.05L629.0,754.20L629.5,754.20L630.0,753.70L630.5,753.95L631.0,754.20L631.5,754.20L632.0,753.37L632.5,753.79L633.0,754.20L633.5,754.20L634.0,753.79L634.5,753.99L635.0,753.91L635.5,754.06L636.0,754.20L636.5,754.20L637.0,753.85L637.5,754.03L638.0,754.20L638.5,754.20L639.0,753.59L639.5,753.89L640.0,754.20L640.5,754.20L641.0,753.72L641.5,753.96L642.0,754.01L642.5,754.11L643.0,754.20L643.5,754.20L644.0,754.20L644.5,754.20L645.0,754.20L645.5,754.20L646.0,754.20L646.5,754.20L647.0,753.67L647.5,753.94L648.0,754.20L648.5,754.20L649.0,753.39L649.5,753.79L650.0,753.63L650.5,753.92L651.0,754.20L651.5,754.20L652.0,754.20L652.5,754.20L653.0,754.20L653.5,754.20L654.0,754.20L654.5,754.20L655.0,754.20L655.5,754.20L656.0,754.20L656.5,754.20L657.0,753.44L657.5,753.82L658.0,753.80L658.5,754.00L659.0,753.97L659.5,754.08L660.0,754.20L660.5,754.20L661.0,753.67L661.5,753.94L662.0,754.20L662.5,754.20L663.0,754.20L663.5,754.20L664.0,754.20L664.5,754.20L665.0,753.65L665.5,753.92L666.0,754.20L666.5,754.20L667.0,753.93L667.5,754.07L668.0,754.20L668.5,754.20L669.0,753.32L669.5,753.76L670.0,754.20L670.5,754.20L671.0,753.90L671.5,754.05L672.0,754.20L672.5,754.20L673.0,753.60L673.5,753.90L674.0,754.20L674.5,754.20L675.0,754.20L675.5,754.20L676.0,754.20L676.5,754.20L677.0,754.20L677.5,754.20L678.0,754.20L678.5,754.20L679.0,754.20L679.5,754.20L680.0,754.20L680.5,754.20L681.0,754.20L681.5,754.20L682.0,753.90L682.5,754.05L683.0,754.20L683.5,754.20L684.0,754.20L684.5,754.20L685.0,754.20L685.5,754.20L686.0,753.37L686.5,753.79L687.0,753.57L687.5,753.88L688.0,753.20L688.5,752.20L689.0,751.20L689.5,752.20L690.0,753.20L690.5,754.20L691.0,754.20L691.5,754.20L692.0,754.20L692.5,754.20L693.0,754.00L693.5,754.10L694.0,754.20L694.5,754.20L695.0,754.20L695.5,754.20L696.0,753.74L696.5,753.97L697.0,754.20L697.5,754.20L698.0,754.20L698.5,754.20L699.0,754.20L699.5,754.20L700.0,754.20L700.5,754.20L701.0,754.20L701.5,754.20L702.0,753.41L702.5,753.80L703.0,753.61L703.5,753.91L704.0,753.81L704.5,754.00L705.0,753.47L705.5,753.84L706.0,753.75L706.5,753.98L707.0,754.20L707.5,754.20L708.0,754.20L708.5,754.20L709.0,754.00L709.5,754.10L710.0,754.20L710.5,754.20L711.0,753.76L711.5,753.98L712.0,754.20L712.5,754.20L713.0,753.71L713.5,753.95L714.0,753.79L714.5,754.00L715.0,754.20L715.5,754.20L716.0,754.20L716.5,754.20L717.0,754.20L717.5,754.20L718.0,754.20L718.5,754.20L719.0,754.20L719.5,754.20L720.0,753.50L720.5,753.85L721.0,754.20L721.5,754.20L722.0,754.20L722.5,754.20L723.0,754.20L723.5,754.20L724.0,754.20L724.5,754.20L725.0,754.20L725.5,754.20L726.0,754.20L726.5,754.20L727.0,754.20L727.5,754.20L728.0,754.20L728.5,754.20L729.0,753.73L729.5,753.96L730.0,754.20L730.5,754.20L731.0,753.61L731.5,753.91L732.0,754.20L732.5,754.20L733.0,753.76L733.5,753.98L734.0,754.20L734.5,754.20L735.0,754.20L735.5,754.20L736.0,754.02L736.5,754.11L737.0,753.45L737.5,753.82L738.0,754.20L738.5,754.20L739.0,754.20L739.5,754.20L740.0,753.63L740.5,753.92L741.0,753.82L741.5,754.01L742.0,753.42L742.5,753.81L743.0,752.18L743.5,753.19L744.0,754.20L744.5,754.20L745.0,754.20L745.5,754.20L746.0,753.72L746.5,753.96L747.0,753.79L747.5,754.00L748.0,754.20L748.5,754.20L749.0,754.20L749.5,754.20L750.0,754.20L750.5,754.20L751.0,754.20L751.5,754.20L752.0,754.20L752.5,754.20L753.0,754.20L753.5,754.20L754.0,754.20L754.5,754.20L755.0,753.65L755.5,753.93L756.0,753.37L756.5,753.79L757.0,754.20L757.5,754.20L758.0,754.20L758.5,754.20L759.0,754.20L759.5,754.20L760.0,754.20L760.5,754.20L761.0,753.93L761.5,754.06L762.0,753.38L762.5,753.79L763.0,753.65L763.5,753.92L764.0,753.35L764.5,753.77L765.0,754.20L765.5,754.20L766.0,754.20L766.5,754.20L767.0,754.20L767.5,754.20L768.0,754.20L768.5,754.20L769.0,754.20L769.5,754.20L770.0,754.20L770.5,754.20L771.0,754.20L771.5,754.20L772.0,754.20L772.5,754.20L773.0,753.43L773.5,753.82L774.0,754.20L774.5,754.20L775.0,753.51L775.5,753.86L776.0,754.20L776.5,754.20L777.0,754.20L777.5,754.20L778.0,753.55L778.5,753.87L779.0,754.20L779.5,754.20L780.0,753.81L780.5,754.00L781.0,754.20L781.5,754.20L782.0,753.60L782.5,753.90L783.0,753.54L783.5,753.87L784.0,754.20L784.5,754.20L785.0,753.45L785.5,753.82L786.0,753.48L786.5,753.84L787.0,754.20L787.5,754.20L788.0,754.20L788.5,754.20L789.0,754.20L789.5,754.20L790.0,754.20L790.5,754.20L791.0,753.95L791.5,754.07L792.0,754.20L792.5,754.20L793.0,754.20L793.5,754.20L794.0,754.20L794.5,754.20L795.0,754.20L795.5,754.20L796.0,753.43L796.5,753.81L797.0,752.42L797.5,753.31L798.0,754.20L798.5,754.20L799.0,754.20L799.5,754.20L800.0,753.65L800.5,753.93L801.0,754.20L801.5,754.20L802.0,754.20L802.5,754.20L803.0,754.20L803.5,754.20L804.0,753.57L804.5,753.88L805.0,753.89L805.5,754.05L806.0,753.46L806.5,753.83L807.0,752.43L807.5,753.31L808.0,754.20L808.5,754.20L809.0,753.83L809.5,754.02L810.0,754.20L810.5,754.20L811.0,754.20L811.5,754.20L812.0,754.20L812.5,754.20L813.0,754.20L813.5,754.20L814.0,753.92L814.5,754.06L815.0,754.20L815.5,754.20L816.0,754.20L816.5,754.20L817.0,754.20L817.5,754.20L818.0,753.81L818.5,754.01L819.0,753.71L819.5,753.96L820.0,754.20L820.5,754.20L821.0,754.20L821.5,754.20L822.0,753.73L822.5,753.96L823.0,753.79L823.5,754.00L824.0,754.20L824.5,754.20L825.0,754.20L825.5,754.20L826.0,753.45L826.5,753.83L827.0,754.20L827.5,754.20L828.0,753.35L828.5,753.78L829.0,753.71L829.5,753.96L830.0,754.20L830.5,754.20L831.0,753.53L831.5,753.86L832.0,754.20L832.5,754.20L833.0,754.20L833.5,754.20L834.0,753.43L834.5,753.82L835.0,753.44L835.5,753.82L836.0,754.20L836.5,754.20L837.0,753.84L837.5,754.02L838.0,753.79L838.5,753.99L839.0,754.20L839.5,754.20L840.0,754.20L840.5,754.20L841.0,754.20L841.5,754.20L842.0,754.20L842.5,754.20L843.0,753.97L843.5,754.08L844.0,754.20L844.5,754.20L845.0,753.65L845.5,753.93L846.0,753.97L846.5,754.09L847.0,754.20L847.5,754.20L848.0,754.01L848.5,754.10L849.0,753.36L849.5,753.78L850.0,754.20L850.5,754.20L851.0,753.89L851.5,754.05L852.0,754.20L852.5,754.20L853.0,753.49L853.5,753.85L854.0,754.20L854.5,754.20L855.0,753.77L855.5,753.99L856.0,753.80L856.5,754.00L857.0,754.20L857.5,754.20L858.0,754.20L858.5,754.20L859.0,753.63L859.5,753.91L860.0,754.20L860.5,754.20L861.0,754.20L861.5,754.20L862.0,753.53L862.5,753.86L863.0,753.99L863.5,754.10L864.0,754.20L864.5,754.20L865.0,753.91L865.5,754.05L866.0,754.20L866.5,754.20L867.0,754.20L867.5,754.20L868.0,754.20L868.5,754.20L869.0,754.20L869.5,754.20L870.0,754.20L870.5,754.20L871.0,754.20L871.5,754.20L872.0,754.20L872.5,754.20L873.0,754.20L873.5,754.20L874.0,754.20L874.5,754.20L875.0,754.20L875.5,754.20L876.0,754.20L876.5,754.20L877.0,754.20L877.5,754.20L878.0,754.20L878.5,754.20L879.0,754.20L879.5,754.20L880.0,754.20L880.5,754.20L881.0,753.96L881.5,754.08L882.0,753.90L882.5,754.05L883.0,753.89L883.5,754.05L884.0,753.84L884.5,754.02L885.0,754.20L885.5,754.20L886.0,754.20L886.5,754.20L887.0,754.20L887.5,754.20L888.0,753.86L888.5,754.03L889.0,754.20L889.5,754.20L890.0,754.20L890.5,754.20L891.0,754.20L891.5,754.20L892.0,753.91L892.5,754.05L893.0,753.70L893.5,753.95L894.0,753.32L894.5,753.76L895.0,754.20L895.5,754.20L896.0,753.87L896.5,754.03L897.0,754.20L897.5,754.20L898.0,753.32L898.5,753.76L899.0,754.20L899.5,754.20L900.0,753.67L900.5,753.93L901.0,753.84L901.5,754.02L902.0,754.20L902.5,754.20L903.0,754.20L903.5,754.20L904.0,753.31L904.5,753.76L905.0,754.20L905.5,754.20L906.0,754.20L906.5,754.20L907.0,753.53L907.5,753.86L908.0,752.53L908.5,753.37L909.0,754.20L909.5,754.20L910.0,754.20L910.5,754.20L911.0,754.20L911.5,754.20L912.0,754.20L912.5,754.20L913.0,754.20L913.5,754.20L914.0,754.20L914.5,754.20L915.0,753.74L915.5,753.97L916.0,753.74L916.5,753.97L917.0,754.20L917.5,754.20L918.0,753.66L918.5,753.93L919.0,753.49L919.5,753.84L920.0,754.20L920.5,754.20L921.0,754.20L921.5,754.20L922.0,754.20L922.5,754.20L923.0,754.20L923.5,754.20L924.0,753.52L924.5,753.86L925.0,754.20L925.5,754.20L926.0,753.55L926.5,753.88L927.0,754.20L927.5,754.20L928.0,754.20L928.5,754.20L929.0,753.81L929.5,754.00L930.0,754.20L930.5,754.20L931.0,754.20L931.5,754.20L932.0,753.98L932.5,754.09L933.0,754.20L933.5,754.20L934.0,753.67L934.5,753.94L935.0,754.20L935.5,754.20L936.0,754.20L936.5,754.20L937.0,753.73L937.5,753.97L938.0,754.20L938.5,754.20L939.0,754.20L939.5,754.20L940.0,754.20L940.5,754.20L941.0,754.01L941.5,754.10L942.0,754.20L942.5,754.20L943.0,754.20L943.5,754.20L944.0,754.20L944.5,754.20L945.0,753.33L945.5,753.77L946.0,753.74L946.5,753.97L947.0,754.20L947.5,754.20L948.0,754.20L948.5,754.20L949.0,754.20L949.5,754.20L950.0,754.20L950.5,754.20L951.0,754.20L951.5,754.20L952.0,753.46L952.5,753.83L953.0,753.76L953.5,753.98L954.0,753.58L954.5,753.89L955.0,753.34L955.5,753.77L956.0,754.20L956.5,754.20L957.0,753.76L957.5,753.98L958.0,753.51L958.5,753.86L959.0,754.20L959.5,754.20L960.0,754.20L960.5,754.20L961.0,754.20L961.5,754.20L962.0,754.20L962.5,754.20L963.0,754.20L963.5,754.20L964.0,753.66L964.5,753.93L965.0,753.75L965.5,753.97L966.0,753.75L966.5,753.97L967.0,753.31L967.5,753.75L968.0,754.20L968.5,754.20L969.0,753.42L969.5,753.81L970.0,754.00L970.5,754.10L971.0,753.67L971.5,753.94L972.0,754.20L972.5,754.20L973.0,754.20L973.5,754.20L974.0,754.20L974.5,754.20L975.0,753.99L975.5,754.10L976.0,754.20L976.5,754.20L977.0,754.20L977.5,754.20L978.0,754.20L978.5,754.20L979.0,752.29L979.5,753.24L980.0,754.20L980.5,754.20L981.0,754.20L981.5,754.20L982.0,754.20L982.5,754.20L983.0,753.52L983.5,753.86L984.0,753.88L984.5,754.04L985.0,753.58L985.5,753.89L986.0,753.57L986.5,753.89L987.0,754.20L987.5,754.20L988.0,754.20L988.5,754.20L989.0,753.90L989.5,754.05L990.0,754.20L990.5,754.20L991.0,754.20L991.5,754.20L992.0,754.20L992.5,754.20L993.0,753.32L993.5,753.76L994.0,753.86L994.5,754.03L995.0,753.67L995.5,753.93L996.0,754.20L996.5,754.20L997.0,754.20L997.5,754.20L998.0,754.20L998.5,754.20L999.0,753.54L999.5,753.87L1000.0,754.20L1000.5,754.20L1001.0,753.35L1001.5,753.77L1002.0,753.56L1002.5,753.88L1003.0,753.43L1003.5,753.81L1004.0,754.20L1004.5,754.20L1005.0,754.20L1005.5,754.20L1006.0,754.20L1006.5,754.20L1007.0,753.51L1007.5,753.86L1008.0,754.20L1008.5,754.20L1009.0,754.20L1009.5,754.20L1010.0,754.20L1010.5,754.20L1011.0,754.20L1011.5,754.20L1012.0,753.89L1012.5,754.04L1013.0,753.30L1013.5,753.75L1014.0,754.20L1014.5,754.20L1015.0,754.20L1015.5,754.20L1016.0,754.20L1016.5,754.20L1017.0,753.67L1017.5,753.94L1018.0,753.39L1018.5,753.80L1019.0,753.94L1019.5,754.07L1020.0,753.71L1020.5,753.96L1021.0,753.39L1021.5,753.80L1022.0,754.20L1022.5,754.20L1023.0,753.91L1023.5,754.06L1024.0,753.71L1024.5,753.95L1025.0,753.42L1025.5,753.81L1026.0,753.64L1026.5,753.92L1027.0,754.20L1027.5,754.20L1028.0,753.78L1028.5,753.99L1029.0,753.99L1029.5,754.09L1030.0,753.78L1030.5,753.99L1031.0,753.56L1031.5,753.88L1032.0,753.97L1032.5,754.08L1033.0,754.20L1033.5,754.20L1034.0,753.49L1034.5,753.70L1035.0,753.20L1035.5,752.70L1036.0,752.20L1036.5,751.70L1037.0,751.20L1037.5,751.70L1038.0,752.20L1038.5,752.70L1039.0,753.20L1039.5,753.70L1040.0,753.94L1040.5,754.07L1041.0,753.96L1041.5,754.08L1042.0,753.60L1042.5,753.90L1043.0,753.88L1043.5,754.04L1044.0,753.68L1044.5,753.94L1045.0,753.49L1045.5,753.84L1046.0,753.89L1046.5,754.05L1047.0,754.20L1047.5,754.20L1048.0,754.20L1048.5,754.20L1049.0,754.20L1049.5,754.20L1050.0,754.00L1050.5,754.10L1051.0,753.85L1051.5,754.02L1052.0,754.20L1052.5,754.20L1053.0,754.20L1053.5,754.20L1054.0,753.65L1054.5,753.93L1055.0,754.20L1055.5,754.20L1056.0,754.20L1056.5,754.20L1057.0,753.94L1057.5,754.07L1058.0,753.56L1058.5,753.88L1059.0,754.20L1059.5,754.20L1060.0,754.20L1060.5,754.20L1061.0,753.46L1061.5,753.83L1062.0,753.50L1062.5,753.85L1063.0,754.20L1063.5,754.20L1064.0,754.20L1064.5,754.20L1065.0,754.20L1065.5,754.20L1066.0,754.20L1066.5,754.20L1067.0,753.86L1067.5,754.03L1068.0,753.52L1068.5,753.86L1069.0,753.79L1069.5,753.99L1070.0,754.20L1070.5,754.20L1071.0,754.20L1071.5,754.20L1072.0,753.20L1072.5,753.70L1073.0,753.30L1073.5,753.75L1074.0,753.95L1074.5,754.08L1075.0,754.20L1075.5,754.20L1076.0,753.36L1076.5,753.78L1077.0,754.20L1077.5,754.20L1078.0,754.02L1078.5,754.11L1079.0,754.20L1079.5,754.20L1080.0,754.20L1080.5,754.20L1081.0,753.53L1081.5,753.86L1082.0,754.20L1082.5,754.20L1083.0,754.01L1083.5,754.11L1084.0,754.20L1084.5,754.20L1085.0,753.43L1085.5,753.82L1086.0,753.86L1086.5,754.03L1087.0,754.20L1087.5,754.20L1088.0,754.20L1088.5,754.20L1089.0,753.55L1089.5,753.88L1090.0,753.63L1090.5,753.92L1091.0,753.85L1091.5,754.03L1092.0,753.84L1092.5,754.02L1093.0,753.58L1093.5,753.89L1094.0,754.20L1094.5,754.20L1095.0,753.42L1095.5,753.81L1096.0,753.82L1096.5,754.01L1097.0,754.20L1097.5,754.20L1098.0,753.77L1098.5,753.99L1099.0,754.20L1099.5,754.20L1100.0,753.67L1100.5,753.94L1101.0,754.20L1101.5,754.20L1102.0,754.20L1102.5,754.20L1103.0,753.78L1103.5,753.99L1104.0,754.20L1104.5,754.20L1105.0,753.45L1105.5,753.82L1106.0,753.63L1106.5,753.91L1107.0,753.83L1107.5,754.01L1108.0,754.20L1108.5,754.20L1109.0,754.20L1109.5,754.20L1110.0,754.20L1110.5,754.20L1111.0,754.20L1111.5,754.20L1112.0,752.55L1112.5,753.37L1113.0,754.20L1113.5,754.20L1114.0,754.20L1114.5,754.20L1115.0,754.20L1115.5,754.20L1116.0,754.20L1116.5,754.20L1117.0,754.00L1117.5,754.10L1118.0,752.42L1118.5,753.31L1119.0,753.47L1119.5,753.83L1120.0,754.20L1120.5,754.20L1121.0,754.20L1121.5,754.20L1122.0,753.79L1122.5,754.00L1123.0,753.75L1123.5,753.97L1124.0,753.44L1124.5,753.82L1125.0,753.83L1125.5,754.02L1126.0,753.45L1126.5,753.83L1127.0,754.20L1127.5,754.20L1128.0,754.20L1128.5,754.20L1129.0,754.20L1129.5,754.20L1130.0,754.20L1130.5,754.20L1131.0,754.20L1131.5,754.20L1132.0,753.99L1132.5,754.10L1133.0,753.31L1133.5,753.75L1134.0,753.87L1134.5,754.03L1135.0,754.20L1135.5,754.20L1136.0,754.20L1136.5,754.20L1137.0,753.74L1137.5,753.97L1138.0,754.20L1138.5,754.20L1139.0,753.72L1139.5,753.96L1140.0,753.40L1140.5,753.80L1141.0,754.20L1141.5,754.20L1142.0,754.20L1142.5,754.20L1143.0,754.20L1143.5,754.20L1144.0,754.20L1144.5,754.20L1145.0,753.42L1145.5,753.81L1146.0,754.20L1146.5,754.20L1147.0,754.20L1147.5,754.20L1148.0,753.45L1148.5,753.83L1149.0,754.20L1149.5,754.20L1150.0,754.20L1150.5,754.20L1151.0,753.70L1151.5,753.95L1152.0,754.20L1152.5,754.20L1153.0,754.20L1153.5,754.20L1154.0,754.20L1154.5,754.20L1155.0,754.20L1155.5,754.20L1156.0,754.20L1156.5,754.20L1157.0,754.20L1157.5,754.20L1158.0,754.20L1158.5,754.20L1159.0,753.68L1159.5,753.94L1160.0,754.20L1160.5,754.20L1161.0,753.88L1161.5,754.04L1162.0,753.59L1162.5,752.70L1163.0,751.20L1163.5,749.70L1164.0,748.20L1164.5,749.70L1165.0,751.20L1165.5,752.70L1166.0,754.20L1166.5,754.20L1167.0,753.58L1167.5,753.89L1168.0,753.93L1168.5,754.06L1169.0,753.41L1169.5,753.80L1170.0,754.20L1170.5,754.20L1171.0,754.00L1171.5,754.10L1172.0,753.72L1172.5,753.96L1173.0,754.20L1173.5,754.20L1174.0,754.20L1174.5,754.20L1175.0,753.91L1175.5,754.05L1176.0,754.20L1176.5,754.20L1177.0,753.54L1177.5,753.87L1178.0,753.59L1178.5,753.89L1179.0,754.20L1179.5,754.20L1180.0,754.20L1180.5,754.20L1181.0,753.35L1181.5,753.78L1182.0,754.20L1182.5,754.20L1183.0,753.45L1183.5,753.83L1184.0,754.20L1184.5,754.20L1185.0,753.85L1185.5,754.02L1186.0,754.20L1186.5,754.20L1187.0,753.58L1187.5,753.89L1188.0,754.20L1188.5,754.20L1189.0,753.99L1189.5,754.10L1190.0,754.20L1190.5,754.20L1191.0,753.55L1191.5,753.88L1192.0,754.20L1192.5,754.20L1193.0,754.20L1193.5,754.20L1194.0,753.97L1194.5,754.09L1195.0,753.73L1195.5,753.96L1196.0,754.20L1196.5,754.20L1197.0,753.99L1197.5,754.10L1198.0,754.20L1198.5,754.20L1199.0,754.20L1199.5,754.20L1200.0,754.20L1200.5,754.20L1201.0,754.20L1201.5,754.20L1202.0,752.99L1202.5,753.60L1203.0,754.20L1203.5,754.20L1204.0,753.31L1204.5,753.76L1205.0,753.66L1205.5,753.93L1206.0,753.34L1206.5,753.77L1207.0,754.20L1207.5,754.20L1208.0,754.20L1208.5,754.20L1209.0,753.92L1209.5,754.06L1210.0,753.95L1210.5,754.08L1211.0,754.20L1211.5,754.20L1212.0,753.79L1212.5,754.00L1213.0,754.20L1213.5,754.20L1214.0,754.20L1214.5,754.20L1215.0,754.20L1215.5,754.20L1216.0,754.20L1216.5,754.20L1217.0,753.54L1217.5,753.87L1218.0,753.43L1218.5,753.81L1219.0,753.34L1219.5,753.77L1220.0,754.20L1220.5,754.20L1221.0,754.20L1221.5,754.20L1222.0,753.56L1222.5,753.88L1223.0,754.20L1223.5,754.20L1224.0,753.37L1224.5,753.79L1225.0,753.47L1225.5,753.83L1226.0,754.20L1226.5,754.20L1227.0,754.20L1227.5,754.20L1228.0,754.20L1228.5,754.20L1229.0,754.02L1229.5,754.11L1230.0,753.58L1230.5,753.89L1231.0,753.56L1231.5,753.88L1232.0,754.20L1232.5,754.20L1233.0,753.35L1233.5,753.78L1234.0,753.60L1234.5,753.90L1235.0,754.20L1235.5,754.20L1236.0,753.68L1236.5,753.94L1237.0,754.20L1237.5,754.20L1238.0,754.20L1238.5,754.20L1239.0,754.20L1239.5,754.20L1240.0,753.69L1240.5,753.94L1241.0,753.69L1241.5,753.95L1242.0,753.58L1242.5,753.89L1243.0,754.20L1243.5,754.20L1244.0,753.92L1244.5,754.06L1245.0,753.71L1245.5,753.96L1246.0,754.20L1246.5,754.20L1247.0,754.20L1247.5,754.20L1248.0,754.20L1248.5,754.20L1249.0,753.35L1249.5,753.78L1250.0,753.87L1250.5,754.04L1251.0,754.20L1251.5,754.20L1252.0,754.20L1252.5,754.20L1253.0,753.48L1253.5,753.84L1254.0,754.20L1254.5,754.20L1255.0,754.20L1255.5,754.20L1256.0,753.46L1256.5,753.83L1257.0,754.20L1257.5,754.20L1258.0,754.20L1258.5,754.20L1259.0,754.20L1259.5,754.20L1260.0,754.20L1260.5,754.20L1261.0,754.20L1261.5,754.20L1262.0,754.20L1262.5,754.20L1263.0,754.20L1263.5,754.20L1264.0,753.49L1264.5,753.84L1265.0,754.20L1265.5,754.20L1266.0,754.20L1266.5,754.20L1267.0,754.20L1267.5,754.20L1268.0,754.20L1268.5,754.20L1269.0,754.20L1269.5,754.20L1270.0,753.95L1270.5,754.07L1271.0,754.20L1271.5,754.20L1272.0,754.20L1272.5,754.20L1273.0,754.02L1273.5,754.11L1274.0,753.91L1274.5,754.06L1275.0,754.20L1275.5,754.20L1276.0,753.31L1276.5,753.76L1277.0,753.58L1277.5,753.89L1278.0,753.62L1278.5,753.91L1279.0,754.20L1279.5,754.20L1280.0,753.64L1280.5,753.92L1281.0,754.20L1281.5,754.20L1282.0,753.68L1282.5,753.94L1283.0,754.20L1283.5,754.20L1284.0,754.20L1284.5,754.20L1285.0,753.88L1285.5,754.04L1286.0,754.20L1286.5,754.20L1287.0,753.99L1287.5,754.10L1288.0,754.20L1288.5,754.20L1289.0,754.20L1289.5,754.20L1290.0,754.20L1290.5,754.20L1291.0,753.66L1291.5,753.93L1292.0,754.20L1292.5,754.20L1293.0,753.55L1293.5,753.88L1294.0,753.45L1294.5,753.83L1295.0,753.64L1295.5,753.92L1296.0,754.20L1296.5,754.20L1297.0,754.20L1297.5,754.20L1298.0,753.30L1298.5,753.75L1299.0,754.20L1299.5,754.20L1300.0,753.31L1300.5,753.76L1301.0,753.53L1301.5,753.87L1302.0,754.20L1302.5,754.20L1303.0,754.20L1303.5,754.20L1304.0,753.66L1304.5,753.93L1305.0,754.20L1305.5,754.20L1306.0,754.20L1306.5,754.20L1307.0,753.85L1307.5,754.03L1308.0,753.87L1308.5,754.04L1309.0,754.20L1309.5,754.20L1310.0,754.20L1310.5,754.20L1311.0,754.20L1311.5,754.20L1312.0,752.43L1312.5,753.31L1313.0,754.20L1313.5,754.20L1314.0,753.45L1314.5,753.83L1315.0,753.83L1315.5,754.01L1316.0,753.55L1316.5,753.88L1317.0,754.20L1317.5,754.20L1318.0,753.84L1318.5,754.02L1319.0,753.76L1319.5,753.98L1320.0,754.20L1320.0,754.2 Z" fill="#3B0A60"/>
<rect x="351.7" y="753.89" width="1017.9" height="0.62" fill="#000"/>
<path d="M400.0,875.5L400.0,874.06L400.5,874.78L401.0,875.50L401.5,875.50L402.0,875.20L402.5,875.35L403.0,875.50L403.5,875.50L404.0,875.50L404.5,875.50L405.0,875.02L405.5,875.26L406.0,875.50L406.5,875.50L407.0,874.87L407.5,875.19L408.0,875.50L408.5,875.50L409.0,875.50L409.5,875.50L410.0,875.50L410.5,875.50L411.0,874.26L411.5,874.88L412.0,875.50L412.5,875.50L413.0,874.46L413.5,874.98L414.0,875.50L414.5,875.50L415.0,874.77L415.5,875.14L416.0,875.50L416.5,875.50L417.0,874.43L417.5,874.97L418.0,875.50L418.5,875.50L419.0,875.50L419.5,875.50L420.0,875.50L420.5,875.50L421.0,875.50L421.5,875.50L422.0,875.50L422.5,875.50L423.0,875.50L423.5,875.50L424.0,875.50L424.5,875.50L425.0,875.50L425.5,875.50L426.0,875.50L426.5,875.50L427.0,875.50L427.5,875.50L428.0,875.00L428.5,875.25L429.0,874.19L429.5,874.85L430.0,875.13L430.5,875.31L431.0,875.50L431.5,875.50L432.0,875.50L432.5,875.50L433.0,874.12L433.5,874.81L434.0,874.65L434.5,875.08L435.0,874.75L435.5,875.12L436.0,874.71L436.5,875.11L437.0,874.29L437.5,874.89L438.0,875.50L438.5,875.50L439.0,874.61L439.5,875.06L440.0,875.19L440.5,875.34L441.0,875.50L441.5,875.50L442.0,875.50L442.5,875.50L443.0,874.89L443.5,875.19L444.0,875.50L444.5,875.50L445.0,874.06L445.5,874.78L446.0,872.41L446.5,873.96L447.0,875.50L447.5,875.50L448.0,875.50L448.5,875.50L449.0,875.50L449.5,875.50L450.0,874.35L450.5,874.92L451.0,875.03L451.5,875.26L452.0,874.31L452.5,874.90L453.0,875.50L453.5,875.50L454.0,875.50L454.5,875.50L455.0,874.77L455.5,875.14L456.0,875.50L456.5,875.50L457.0,875.50L457.5,875.50L458.0,875.50L458.5,875.50L459.0,875.50L459.5,875.50L460.0,875.50L460.5,875.50L461.0,875.50L461.5,875.50L462.0,874.08L462.5,874.79L463.0,874.28L463.5,874.89L464.0,875.50L464.5,875.50L465.0,875.50L465.5,875.50L466.0,875.50L466.5,875.50L467.0,874.85L467.5,875.18L468.0,875.50L468.5,875.50L469.0,874.22L469.5,874.86L470.0,875.00L471.0,875.32L472.0,875.47L473.0,874.94L474.0,875.44L475.0,875.04L476.0,874.60L477.0,874.31L478.0,875.44L479.1,874.54L480.1,875.35L481.1,872.50L482.1,873.66L483.0,875.00L484.0,874.47L484.9,875.37L485.9,873.30L486.9,873.92L488.0,874.50L489.3,871.75L490.6,868.60L491.9,873.21L493.1,868.60L494.9,874.90L498.3,864.80L500.4,850.20L501.7,857.00L503.9,828.80L505.4,822.30L507.3,861.30L509.4,835.50L511.6,803.10L512.9,828.80L514.1,864.30L515.4,857.50L517.1,874.90L518.4,861.80L519.7,874.00L521.4,853.60L523.1,870.80L524.4,866.10L525.7,870.30L527.0,866.90L528.7,871.90L530.4,866.10L532.1,871.90L534.1,865.20L535.6,871.10L537.5,860.90L539.0,875.50L539.9,875.42L540.9,875.48L541.8,874.97L542.7,875.46L543.7,874.33L544.6,874.20L545.6,874.91L546.6,875.43L547.6,872.10L548.7,874.35L549.7,875.50L552.3,866.50L554.0,875.10L556.6,851.90L558.7,872.50L560.0,873.36L561.3,870.30L562.3,872.70L563.3,875.36L564.3,875.10L565.2,875.11L566.1,875.50L567.0,874.66L567.9,875.40L568.8,875.15L569.7,875.41L570.6,874.56L571.6,875.42L572.5,874.06L573.4,875.36L574.3,874.11L575.2,875.37L576.1,873.98L577.0,873.00L578.0,874.33L579.0,874.50L580.0,874.46L581.0,872.50L582.0,875.00L583.5,872.50L585.0,875.50L586.0,875.45L587.0,875.49L588.0,875.38L589.0,875.49L590.0,875.10L590.5,875.50L591.0,875.50L591.5,875.50L592.0,875.50L592.5,875.50L593.0,875.18L593.5,875.34L594.0,875.50L594.5,875.50L595.0,875.50L595.5,875.50L596.0,875.50L596.5,875.50L597.0,875.50L597.5,875.50L598.0,875.20L598.5,875.35L599.0,874.23L599.5,874.87L600.0,875.50L600.5,875.50L601.0,874.71L601.5,875.11L602.0,875.19L602.5,875.35L603.0,875.50L603.5,875.50L604.0,874.92L604.5,875.21L605.0,874.73L605.5,875.12L606.0,875.50L606.5,875.50L607.0,875.50L607.5,875.50L608.0,875.50L608.5,875.50L609.0,874.72L609.5,875.11L610.0,874.02L610.5,874.76L611.0,875.50L611.5,875.50L612.0,875.50L612.5,875.50L613.0,874.88L613.5,875.19L614.0,875.50L614.5,875.50L615.0,875.50L615.5,875.50L616.0,875.50L616.5,875.50L617.0,875.50L617.5,875.50L618.0,875.50L618.5,875.50L619.0,874.08L619.5,874.79L620.0,875.50L620.5,875.50L621.0,874.60L621.5,875.05L622.0,875.50L622.5,875.50L623.0,875.50L623.5,875.50L624.0,874.82L624.5,875.16L625.0,875.50L625.5,875.50L626.0,874.36L626.5,874.93L627.0,875.50L627.5,875.50L628.0,874.97L628.5,875.24L629.0,875.50L629.5,875.50L630.0,875.50L630.5,875.50L631.0,874.11L631.5,874.00L632.0,872.50L632.5,874.00L633.0,874.50L633.5,875.00L634.0,875.50L634.5,875.50L635.0,875.50L635.5,875.50L636.0,875.50L636.5,875.50L637.0,875.50L637.5,875.50L638.0,874.39L638.5,874.94L639.0,874.58L639.5,875.04L640.0,875.50L640.5,875.50L641.0,874.92L641.5,875.21L642.0,875.09L642.5,875.30L643.0,875.50L643.5,875.50L644.0,875.50L644.5,875.50L645.0,875.50L645.5,875.50L646.0,875.17L646.5,875.33L647.0,874.18L647.5,874.84L648.0,873.25L648.5,871.00L649.0,873.25L649.5,875.07L650.0,875.50L650.5,875.50L651.0,874.97L651.5,875.23L652.0,875.50L652.5,875.50L653.0,875.50L653.5,875.50L654.0,875.50L654.5,875.50L655.0,874.85L655.5,875.17L656.0,875.50L656.5,875.50L657.0,875.08L657.5,875.29L658.0,875.50L658.5,875.50L659.0,874.25L659.5,874.87L660.0,874.31L660.5,874.00L661.0,872.50L661.5,874.00L662.0,874.53L662.5,875.01L663.0,874.27L663.5,874.89L664.0,875.50L664.5,875.50L665.0,874.15L665.5,874.83L666.0,874.40L666.5,874.95L667.0,874.35L667.5,874.92L668.0,874.82L668.5,875.16L669.0,875.50L669.5,875.50L670.0,874.53L670.5,875.01L671.0,874.75L671.5,875.12L672.0,875.50L672.5,874.50L673.0,873.50L673.5,874.50L674.0,875.50L674.5,875.50L675.0,874.23L675.5,874.87L676.0,875.50L676.5,875.50L677.0,874.20L677.5,874.85L678.0,874.96L678.5,875.23L679.0,875.50L679.5,875.50L680.0,875.50L680.5,875.50L681.0,875.50L681.5,875.50L682.0,875.50L682.5,875.50L683.0,875.50L683.5,875.50L684.0,875.50L684.5,875.50L685.0,874.94L685.5,875.22L686.0,875.50L686.5,875.50L687.0,874.31L687.5,874.90L688.0,874.85L688.5,875.18L689.0,875.50L689.5,875.50L690.0,874.43L690.5,874.97L691.0,875.50L691.5,875.50L692.0,874.22L692.5,874.86L693.0,875.50L693.5,875.50L694.0,875.50L694.5,875.50L695.0,872.50L695.5,869.50L696.0,872.50L696.5,874.76L697.0,875.50L697.5,875.50L698.0,875.50L698.5,875.50L699.0,875.10L699.5,875.30L700.0,875.50L700.5,875.50L701.0,874.02L701.5,874.25L702.0,873.00L702.5,874.25L703.0,875.50L703.5,875.50L704.0,874.44L704.5,874.97L705.0,875.07L705.5,875.28L706.0,875.03L706.5,875.26L707.0,875.50L707.5,874.00L708.0,872.50L708.5,874.00L709.0,874.82L709.5,875.16L710.0,875.50L710.5,875.50L711.0,875.50L711.5,875.50L712.0,874.33L712.5,874.92L713.0,874.73L713.5,875.11L714.0,874.89L714.5,875.19L715.0,875.50L715.5,875.50L716.0,874.14L716.5,874.82L717.0,875.50L717.5,875.50L718.0,874.97L718.5,875.23L719.0,875.50L719.5,875.50L720.0,875.50L720.5,875.50L721.0,874.07L721.5,874.79L722.0,875.50L722.5,875.50L723.0,874.16L723.5,874.83L724.0,874.12L724.5,874.81L725.0,875.50L725.5,875.50L726.0,874.23L726.5,874.87L727.0,875.50L727.5,875.50L728.0,875.50L728.5,875.50L729.0,875.50L729.5,875.50L730.0,875.50L730.5,875.50L731.0,875.50L731.5,875.50L732.0,875.50L732.5,875.50L733.0,875.50L733.5,875.50L734.0,875.50L734.5,875.50L735.0,875.50L735.5,875.50L736.0,875.50L736.5,875.50L737.0,875.50L737.5,875.50L738.0,874.30L738.5,874.90L739.0,875.50L739.5,875.50L740.0,875.50L740.5,875.50L741.0,874.46L741.5,874.98L742.0,875.50L742.5,874.25L743.0,873.00L743.5,874.25L744.0,875.50L744.5,875.50L745.0,874.56L745.5,875.03L746.0,875.50L746.5,875.50L747.0,874.11L747.5,874.25L748.0,873.00L748.5,874.25L749.0,874.52L749.5,875.01L750.0,874.22L750.5,874.86L751.0,875.50L751.5,875.50L752.0,875.50L752.5,875.50L753.0,875.08L753.5,875.29L754.0,875.50L754.5,875.50L755.0,874.44L755.5,874.97L756.0,875.50L756.5,875.50L757.0,875.12L757.5,875.31L758.0,874.88L758.5,875.19L759.0,874.93L759.5,875.22L760.0,874.07L760.5,874.79L761.0,874.41L761.5,874.95L762.0,875.18L762.5,875.34L763.0,874.95L763.5,875.22L764.0,874.04L764.5,874.77L765.0,874.22L765.5,874.86L766.0,875.13L766.5,875.32L767.0,874.24L767.5,874.87L768.0,875.50L768.5,875.50L769.0,871.98L769.5,873.74L770.0,874.20L770.5,874.85L771.0,873.50L771.5,871.50L772.0,873.50L772.5,875.50L773.0,875.50L773.5,875.50L774.0,875.50L774.5,875.50L775.0,874.02L775.5,874.76L776.0,875.50L776.5,875.50L777.0,875.50L777.5,875.50L778.0,875.50L778.5,874.50L779.0,873.50L779.5,874.50L780.0,874.21L780.5,874.85L781.0,874.74L781.5,875.12L782.0,873.58L782.5,874.54L783.0,875.50L783.5,875.50L784.0,875.50L784.5,875.50L785.0,875.50L785.5,875.50L786.0,875.50L786.5,875.50L787.0,875.50L787.5,875.50L788.0,875.50L788.5,875.50L789.0,875.50L789.5,875.50L790.0,875.50L790.5,875.50L791.0,875.50L791.5,875.50L792.0,875.50L792.5,875.50L793.0,874.30L793.5,874.90L794.0,874.78L794.5,875.14L795.0,874.57L795.5,875.04L796.0,873.60L796.5,874.55L797.0,875.04L797.5,875.27L798.0,875.50L798.5,875.50L799.0,874.61L799.5,875.05L800.0,874.50L800.5,875.00L801.0,874.31L801.5,874.90L802.0,874.90L802.5,875.20L803.0,875.50L803.5,875.50L804.0,874.54L804.5,875.02L805.0,875.50L805.5,875.50L806.0,875.50L806.5,875.50L807.0,875.50L807.5,875.50L808.0,874.27L808.5,874.89L809.0,874.48L809.5,874.99L810.0,875.18L810.5,875.34L811.0,875.50L811.5,875.50L812.0,874.91L812.5,875.21L813.0,875.50L813.5,875.50L814.0,875.50L814.5,875.50L815.0,875.50L815.5,875.50L816.0,875.50L816.5,875.50L817.0,875.50L817.5,875.50L818.0,873.89L818.5,874.70L819.0,874.66L819.5,875.08L820.0,875.50L820.5,875.50L821.0,875.50L821.5,875.50L822.0,875.50L822.5,875.50L823.0,875.17L823.5,875.34L824.0,875.50L824.5,875.50L825.0,874.93L825.5,875.22L826.0,875.00L826.5,875.25L827.0,874.25L827.5,874.88L828.0,875.50L828.5,875.50L829.0,875.50L829.5,875.50L830.0,875.14L830.5,875.32L831.0,874.40L831.5,874.95L832.0,874.63L832.5,875.06L833.0,874.78L833.5,875.14L834.0,875.50L834.5,875.50L835.0,875.50L835.5,875.50L836.0,875.50L836.5,875.50L837.0,875.50L837.5,875.50L838.0,875.50L838.5,875.50L839.0,875.50L839.5,874.50L840.0,873.50L840.5,874.50L841.0,874.32L841.5,874.91L842.0,874.39L842.5,874.94L843.0,874.81L843.5,875.16L844.0,874.73L844.5,875.12L845.0,874.77L845.5,874.50L846.0,873.50L846.5,874.50L847.0,875.50L847.5,875.50L848.0,874.07L848.5,874.79L849.0,875.50L849.5,875.50L850.0,875.50L850.5,875.50L851.0,875.50L851.5,875.50L852.0,874.40L852.5,874.95L853.0,874.93L853.5,875.21L854.0,875.50L854.5,875.50L855.0,875.08L855.5,875.29L856.0,874.44L856.5,874.97L857.0,875.50L857.5,875.50L858.0,874.52L858.5,875.01L859.0,874.46L859.5,874.98L860.0,874.54L860.5,875.02L861.0,875.50L861.5,875.50L862.0,874.23L862.5,874.86L863.0,874.17L863.5,874.84L864.0,875.50L864.5,875.50L865.0,875.50L865.5,875.50L866.0,875.50L866.5,875.50L867.0,874.08L867.5,874.79L868.0,874.00L868.5,872.50L869.0,874.00L869.5,875.50L870.0,875.50L870.5,875.50L871.0,874.16L871.5,874.83L872.0,875.50L872.5,875.50L873.0,875.50L873.5,874.50L874.0,873.50L874.5,874.50L875.0,875.12L875.5,875.31L876.0,875.50L876.5,875.50L877.0,874.15L877.5,874.82L878.0,875.50L878.5,875.50L879.0,874.16L879.5,874.50L880.0,873.50L880.5,874.50L881.0,874.21L881.5,874.86L882.0,875.50L882.5,875.50L883.0,875.50L883.5,875.50L884.0,875.50L884.5,875.50L885.0,875.50L885.5,875.50L886.0,874.09L886.5,874.80L887.0,875.50L887.5,875.50L888.0,875.50L888.5,875.50L889.0,875.50L889.5,875.50L890.0,875.50L890.5,875.50L891.0,875.50L891.5,875.50L892.0,875.50L892.5,875.50L893.0,875.50L893.5,875.50L894.0,874.03L894.5,874.76L895.0,875.50L895.5,875.50L896.0,874.93L896.5,875.21L897.0,875.50L897.5,875.50L898.0,874.60L898.5,875.05L899.0,875.50L899.5,875.50L900.0,874.86L900.5,875.18L901.0,874.19L901.5,874.84L902.0,874.14L902.5,874.82L903.0,874.08L903.5,874.79L904.0,875.50L904.5,875.50L905.0,875.50L905.5,875.50L906.0,874.52L906.5,875.01L907.0,875.50L907.5,875.50L908.0,875.50L908.5,875.50L909.0,875.50L909.5,875.50L910.0,875.50L910.5,875.50L911.0,875.50L911.5,875.50L912.0,875.50L912.5,875.50L913.0,874.22L913.5,874.86L914.0,875.19L914.5,875.34L915.0,875.19L915.5,875.35L916.0,875.50L916.5,875.50L917.0,875.50L917.5,875.50L918.0,875.50L918.5,875.50L919.0,874.05L919.5,874.78L920.0,874.19L920.5,874.85L921.0,875.50L921.5,875.50L922.0,874.41L922.5,874.95L923.0,874.64L923.5,875.07L924.0,874.71L924.5,875.11L925.0,875.50L925.5,875.50L926.0,875.50L926.5,875.50L927.0,875.50L927.5,875.50L928.0,875.50L928.5,875.50L929.0,875.50L929.5,875.50L930.0,875.10L930.5,875.30L931.0,875.50L931.5,875.50L932.0,875.50L932.5,875.50L933.0,874.81L933.5,875.15L934.0,874.86L934.5,875.18L935.0,875.50L935.5,875.50L936.0,874.89L936.5,875.20L937.0,875.50L937.5,875.50L938.0,874.81L938.5,875.15L939.0,874.43L939.5,874.97L940.0,874.94L940.5,875.22L941.0,875.50L941.5,875.50L942.0,875.50L942.5,875.50L943.0,875.50L943.5,874.50L944.0,873.50L944.5,874.50L945.0,875.50L945.5,875.50L946.0,875.50L946.5,875.50L947.0,874.47L947.5,874.98L948.0,875.50L948.5,875.50L949.0,875.50L949.5,874.50L950.0,873.50L950.5,874.50L951.0,874.20L951.5,874.85L952.0,875.10L952.5,875.30L953.0,872.15L953.5,873.82L954.0,874.06L954.5,874.78L955.0,875.50L955.5,875.50L956.0,875.50L956.5,875.50L957.0,874.28L957.5,874.89L958.0,875.50L958.5,875.50L959.0,874.65L959.5,875.07L960.0,875.50L960.5,875.50L961.0,874.05L961.5,874.77L962.0,874.80L962.5,875.15L963.0,875.50L963.5,875.50L964.0,875.50L964.5,875.50L965.0,875.50L965.5,875.50L966.0,875.50L966.5,875.50L967.0,875.50L967.5,875.50L968.0,874.32L968.5,874.91L969.0,875.50L969.5,875.50L970.0,874.08L970.5,874.79L971.0,875.16L971.5,875.33L972.0,874.22L972.5,874.86L973.0,875.50L973.5,875.50L974.0,875.50L974.5,875.50L975.0,875.50L975.5,875.50L976.0,875.50L976.5,875.50L977.0,875.50L977.5,875.50L978.0,875.13L978.5,875.31L979.0,874.01L979.5,874.76L980.0,875.16L980.5,875.33L981.0,875.50L981.5,875.50L982.0,875.50L982.5,875.50L983.0,875.50L983.5,875.50L984.0,875.50L984.5,875.50L985.0,875.50L985.5,875.50L986.0,875.50L986.5,875.50L987.0,874.01L987.5,874.75L988.0,875.50L988.5,875.50L989.0,875.00L989.5,875.25L990.0,875.18L990.5,875.34L991.0,875.50L991.5,875.50L992.0,874.55L992.5,875.02L993.0,875.50L993.5,875.50L994.0,875.50L994.5,875.50L995.0,875.50L995.5,875.50L996.0,875.50L996.5,875.50L997.0,875.50L997.5,875.50L998.0,874.50L998.5,875.00L999.0,875.50L999.5,875.50L1000.0,875.50L1000.5,874.50L1001.0,873.50L1001.5,874.50L1002.0,875.50L1002.5,875.50L1003.0,875.50L1003.5,875.50L1004.0,875.50L1004.5,875.50L1005.0,875.50L1005.5,875.50L1006.0,875.50L1006.5,875.50L1007.0,874.59L1007.5,875.04L1008.0,875.50L1008.5,875.50L1009.0,875.50L1009.5,875.50L1010.0,875.03L1010.5,875.26L1011.0,875.50L1011.5,875.50L1012.0,875.50L1012.5,875.50L1013.0,874.30L1013.5,874.90L1014.0,874.78L1014.5,874.50L1015.0,873.50L1015.5,874.50L1016.0,875.50L1016.5,875.50L1017.0,874.50L1017.5,875.00L1018.0,875.50L1018.5,875.50L1019.0,872.74L1019.5,874.12L1020.0,874.02L1020.5,874.76L1021.0,875.50L1021.5,875.50L1022.0,875.50L1022.5,875.50L1023.0,874.43L1023.5,874.96L1024.0,875.50L1024.5,874.25L1025.0,873.00L1025.5,874.25L1026.0,874.60L1026.5,875.05L1027.0,875.50L1027.5,875.50L1028.0,875.17L1028.5,875.34L1029.0,874.17L1029.5,874.83L1030.0,875.02L1030.5,875.26L1031.0,874.58L1031.5,875.04L1032.0,874.76L1032.5,875.13L1033.0,875.50L1033.5,875.50L1034.0,874.33L1034.5,874.91L1035.0,873.50L1035.5,871.50L1036.0,873.50L1036.5,875.14L1037.0,875.50L1037.5,875.50L1038.0,875.50L1038.5,875.50L1039.0,874.16L1039.5,874.00L1040.0,872.50L1040.5,874.00L1041.0,875.50L1041.5,875.50L1042.0,874.23L1042.5,874.86L1043.0,875.50L1043.5,875.50L1044.0,875.50L1044.5,875.50L1045.0,875.50L1045.5,875.50L1046.0,875.12L1046.5,875.31L1047.0,875.50L1047.5,875.50L1048.0,874.25L1048.5,874.88L1049.0,875.50L1049.5,875.50L1050.0,874.40L1050.5,874.50L1051.0,873.50L1051.5,874.50L1052.0,875.50L1052.5,875.50L1053.0,875.13L1053.5,875.31L1054.0,871.81L1054.5,873.66L1055.0,874.38L1055.5,874.94L1056.0,874.81L1056.5,875.16L1057.0,875.50L1057.5,875.50L1058.0,874.92L1058.5,875.21L1059.0,875.50L1059.5,875.50L1060.0,875.50L1060.5,875.50L1061.0,874.05L1061.5,874.78L1062.0,875.50L1062.5,875.50L1063.0,875.50L1063.5,875.50L1064.0,873.39L1064.5,874.45L1065.0,875.50L1065.5,875.50L1066.0,875.14L1066.5,875.32L1067.0,875.50L1067.5,875.50L1068.0,875.50L1068.5,875.50L1069.0,875.50L1069.5,875.50L1070.0,875.50L1070.5,875.50L1071.0,875.50L1071.5,875.50L1072.0,874.90L1072.5,875.20L1073.0,875.50L1073.5,875.50L1074.0,875.50L1074.5,875.50L1075.0,875.50L1075.5,875.50L1076.0,875.50L1076.5,875.50L1077.0,874.45L1077.5,874.97L1078.0,875.50L1078.5,875.50L1079.0,874.78L1079.5,875.14L1080.0,874.12L1080.5,874.81L1081.0,875.50L1081.5,875.50L1082.0,874.11L1082.5,874.81L1083.0,875.50L1083.5,875.50L1084.0,874.36L1084.5,874.93L1085.0,874.37L1085.5,874.93L1086.0,874.26L1086.5,874.88L1087.0,874.72L1087.5,875.11L1088.0,874.98L1088.5,875.24L1089.0,874.18L1089.5,874.84L1090.0,875.50L1090.5,875.50L1091.0,874.39L1091.5,874.95L1092.0,875.00L1092.5,875.25L1093.0,875.50L1093.5,875.50L1094.0,875.50L1094.5,875.50L1095.0,875.50L1095.5,875.50L1096.0,875.50L1096.5,874.50L1097.0,873.50L1097.5,874.50L1098.0,874.36L1098.5,874.93L1099.0,875.50L1099.5,875.50L1100.0,875.50L1100.5,875.50L1101.0,874.84L1101.5,875.17L1102.0,874.47L1102.5,874.98L1103.0,875.50L1103.5,875.50L1104.0,874.95L1104.5,875.22L1105.0,874.41L1105.5,874.96L1106.0,874.87L1106.5,874.25L1107.0,873.00L1107.5,874.25L1108.0,875.50L1108.5,875.50L1109.0,875.50L1109.5,875.50L1110.0,875.50L1110.5,875.50L1111.0,875.50L1111.5,874.50L1112.0,873.50L1112.5,874.50L1113.0,874.20L1113.5,874.85L1114.0,875.50L1114.5,875.50L1115.0,874.56L1115.5,875.03L1116.0,874.52L1116.5,875.01L1117.0,874.37L1117.5,874.93L1118.0,874.10L1118.5,874.80L1119.0,874.67L1119.5,875.08L1120.0,875.07L1120.5,875.29L1121.0,875.50L1121.5,875.50L1122.0,875.50L1122.5,875.50L1123.0,875.50L1123.5,875.50L1124.0,875.50L1124.5,875.50L1125.0,873.75L1125.5,872.00L1126.0,873.75L1126.5,874.77L1127.0,875.50L1127.5,875.50L1128.0,875.50L1128.5,875.50L1129.0,875.50L1129.5,875.50L1130.0,874.51L1130.5,875.00L1131.0,875.50L1131.5,875.50L1132.0,875.50L1132.5,875.50L1133.0,875.50L1133.5,875.50L1134.0,874.37L1134.5,874.94L1135.0,874.49L1135.5,874.99L1136.0,875.50L1136.5,875.50L1137.0,875.50L1137.5,875.50L1138.0,875.50L1138.5,875.50L1139.0,875.19L1139.5,875.35L1140.0,874.95L1140.5,875.23L1141.0,874.35L1141.5,874.93L1142.0,874.53L1142.5,875.02L1143.0,875.50L1143.5,875.50L1144.0,875.50L1144.5,875.50L1145.0,875.50L1145.5,875.50L1146.0,875.50L1146.5,875.50L1147.0,875.50L1147.5,875.50L1148.0,875.19L1148.5,875.35L1149.0,875.50L1149.5,875.50L1150.0,874.06L1150.5,874.78L1151.0,874.31L1151.5,874.90L1152.0,875.50L1152.5,874.75L1153.0,874.00L1153.5,874.75L1154.0,875.14L1154.5,875.32L1155.0,875.50L1155.5,875.50L1156.0,875.50L1156.5,875.50L1157.0,874.72L1157.5,875.11L1158.0,874.20L1158.5,874.85L1159.0,874.46L1159.5,874.98L1160.0,874.50L1160.5,875.00L1161.0,874.85L1161.5,875.17L1162.0,874.91L1162.5,875.20L1163.0,874.14L1163.5,872.75L1164.0,870.00L1164.5,867.25L1165.0,864.50L1165.5,867.25L1166.0,870.00L1166.5,872.75L1167.0,872.19L1167.5,873.85L1168.0,875.50L1168.5,875.50L1169.0,875.50L1169.5,875.50L1170.0,875.50L1170.5,875.50L1171.0,875.50L1171.5,875.50L1172.0,874.75L1172.5,875.12L1173.0,875.50L1173.5,875.50L1174.0,875.50L1174.5,874.50L1175.0,873.50L1175.5,874.50L1176.0,875.50L1176.5,875.50L1177.0,875.50L1177.5,875.50L1178.0,875.50L1178.5,875.50L1179.0,875.50L1179.5,875.50L1180.0,875.50L1180.5,875.50L1181.0,875.50L1181.5,875.50L1182.0,874.10L1182.5,874.50L1183.0,873.50L1183.5,874.50L1184.0,875.50L1184.5,875.50L1185.0,875.50L1185.5,875.50L1186.0,874.40L1186.5,874.95L1187.0,875.50L1187.5,875.50L1188.0,874.26L1188.5,874.88L1189.0,875.08L1189.5,875.29L1190.0,875.50L1190.5,875.50L1191.0,874.43L1191.5,874.97L1192.0,874.67L1192.5,875.09L1193.0,874.10L1193.5,874.80L1194.0,874.09L1194.5,874.80L1195.0,874.98L1195.5,875.24L1196.0,874.32L1196.5,874.91L1197.0,875.50L1197.5,875.50L1198.0,875.50L1198.5,875.50L1199.0,874.75L1199.5,875.12L1200.0,875.50L1200.5,875.50L1201.0,874.87L1201.5,875.18L1202.0,874.39L1202.5,874.95L1203.0,874.63L1203.5,875.06L1204.0,875.50L1204.5,875.50L1205.0,875.50L1205.5,875.50L1206.0,874.91L1206.5,875.20L1207.0,874.35L1207.5,874.92L1208.0,875.50L1208.5,875.50L1209.0,875.50L1209.5,875.50L1210.0,874.41L1210.5,874.95L1211.0,874.05L1211.5,874.77L1212.0,874.87L1212.5,875.18L1213.0,874.96L1213.5,875.23L1214.0,875.50L1214.5,875.50L1215.0,875.20L1215.5,875.35L1216.0,874.84L1216.5,875.17L1217.0,874.19L1217.5,874.50L1218.0,873.50L1218.5,874.50L1219.0,875.50L1219.5,875.50L1220.0,875.50L1220.5,875.50L1221.0,875.50L1221.5,875.50L1222.0,875.50L1222.5,875.50L1223.0,874.64L1223.5,875.07L1224.0,874.99L1224.5,875.25L1225.0,874.51L1225.5,875.00L1226.0,875.50L1226.5,875.50L1227.0,875.50L1227.5,875.50L1228.0,875.50L1228.5,875.50L1229.0,874.04L1229.5,874.25L1230.0,873.00L1230.5,874.25L1231.0,875.50L1231.5,875.50L1232.0,875.50L1232.5,875.50L1233.0,875.50L1233.5,875.50L1234.0,875.50L1234.5,875.50L1235.0,874.37L1235.5,874.93L1236.0,875.19L1236.5,875.34L1237.0,875.50L1237.5,875.50L1238.0,875.50L1238.5,875.50L1239.0,875.50L1239.5,875.50L1240.0,875.50L1240.5,874.25L1241.0,873.00L1241.5,874.25L1242.0,875.50L1242.5,875.50L1243.0,875.50L1243.5,875.50L1244.0,875.50L1244.5,875.50L1245.0,874.04L1245.5,874.77L1246.0,874.59L1246.5,875.05L1247.0,875.15L1247.5,875.33L1248.0,874.17L1248.5,874.84L1249.0,874.44L1249.5,874.97L1250.0,874.57L1250.5,875.03L1251.0,875.50L1251.5,875.50L1252.0,874.13L1252.5,874.82L1253.0,874.86L1253.5,875.18L1254.0,875.50L1254.5,875.50L1255.0,875.50L1255.5,875.50L1256.0,874.62L1256.5,875.06L1257.0,874.52L1257.5,875.01L1258.0,875.50L1258.5,875.50L1259.0,875.17L1259.5,875.33L1260.0,874.84L1260.5,875.17L1261.0,875.50L1261.5,875.50L1262.0,874.45L1262.5,874.97L1263.0,874.54L1263.5,875.02L1264.0,875.14L1264.5,875.32L1265.0,875.50L1265.5,875.50L1266.0,872.87L1266.5,874.18L1267.0,874.18L1267.5,874.84L1268.0,875.50L1268.5,875.50L1269.0,872.54L1269.5,874.02L1270.0,875.50L1270.5,875.50L1271.0,875.01L1271.5,875.26L1272.0,875.50L1272.5,875.50L1273.0,875.50L1273.5,875.50L1274.0,875.20L1274.5,875.35L1275.0,875.50L1275.5,875.50L1276.0,875.03L1276.5,875.26L1277.0,874.87L1277.5,875.18L1278.0,875.02L1278.5,875.26L1279.0,874.07L1279.5,874.79L1280.0,875.50L1280.5,875.50L1281.0,875.50L1281.5,875.50L1282.0,875.50L1282.5,875.50L1283.0,875.50L1283.5,875.50L1284.0,874.00L1284.5,874.75L1285.0,875.50L1285.5,875.50L1286.0,875.07L1286.5,875.28L1287.0,875.50L1287.5,874.75L1288.0,874.00L1288.5,874.75L1289.0,875.50L1289.5,875.50L1290.0,874.56L1290.5,875.03L1291.0,875.50L1291.5,875.50L1292.0,874.59L1292.5,875.05L1293.0,875.50L1293.5,875.50L1294.0,875.50L1294.5,875.50L1295.0,875.50L1295.5,875.50L1296.0,875.50L1296.5,875.50L1297.0,875.50L1297.5,875.50L1298.0,875.50L1298.5,875.50L1299.0,874.04L1299.5,874.77L1300.0,875.50L1300.5,875.50L1301.0,875.50L1301.5,875.50L1302.0,875.50L1302.5,875.50L1303.0,874.40L1303.5,874.95L1304.0,875.50L1304.5,875.50L1305.0,875.50L1305.5,875.50L1306.0,875.50L1306.5,875.50L1307.0,875.12L1307.5,875.31L1308.0,875.50L1308.5,875.50L1309.0,874.96L1309.5,874.75L1310.0,874.00L1310.5,874.75L1311.0,874.35L1311.5,874.93L1312.0,875.50L1312.5,875.50L1313.0,875.50L1313.5,875.50L1314.0,874.92L1314.5,875.21L1315.0,875.50L1315.5,875.50L1316.0,874.06L1316.5,874.78L1317.0,875.50L1317.5,875.50L1318.0,875.50L1318.5,875.50L1319.0,875.50L1319.5,875.50L1320.0,875.50L1320.0,875.5 Z" fill="#BE57F8"/>
<rect x="351.7" y="875.19" width="1017.9" height="0.62" fill="#000"/>
<text x="229" y="100.0" text-anchor="middle" font-size="24" fill="#1A1A1A" textLength="193.0" lengthAdjust="spacingAndGlyphs">Dermal Papillae</text>
<text x="229" y="221.4" text-anchor="middle" font-size="24" fill="#1A1A1A" textLength="104.0" lengthAdjust="spacingAndGlyphs">Papillary</text>
<text x="229" y="342.6" text-anchor="middle" font-size="24" fill="#1A1A1A" textLength="222.0" lengthAdjust="spacingAndGlyphs">Upper Progenitors</text>
<text x="229" y="464.6" text-anchor="middle" font-size="24" fill="#1A1A1A" textLength="220.0" lengthAdjust="spacingAndGlyphs">Lower Progenitors</text>
<text x="229" y="586.0" text-anchor="middle" font-size="24" fill="#1A1A1A" textLength="108.0" lengthAdjust="spacingAndGlyphs">Reticular</text>
<text x="229" y="707.6" text-anchor="middle" font-size="24" fill="#1A1A1A" textLength="158.5" lengthAdjust="spacingAndGlyphs">Intermediate</text>
<text x="229" y="828.4" text-anchor="middle" font-size="24" fill="#1A1A1A" textLength="181.0" lengthAdjust="spacingAndGlyphs">Pre-adipocytes</text>
<rect x="105" y="30.5" width="3" height="850.5" fill="#000"/>
<rect x="105" y="919.3" width="3" height="254.7" fill="#000"/>
<rect x="105" y="1212.6" width="3" height="84.8" fill="#000"/>
<rect x="99" y="145.25" width="6.5" height="2.5" fill="#333"/>
<rect x="99" y="115.85" width="6.5" height="2.5" fill="#333"/>
<rect x="99" y="86.45" width="6.5" height="2.5" fill="#333"/>
<rect x="99" y="57.05" width="6.5" height="2.5" fill="#333"/>
<rect x="99" y="266.75" width="6.5" height="2.5" fill="#333"/>
<rect x="99" y="237.35" width="6.5" height="2.5" fill="#333"/>
<rect x="99" y="207.95" width="6.5" height="2.5" fill="#333"/>
<rect x="99" y="178.55" width="6.5" height="2.5" fill="#333"/>
<rect x="99" y="388.25" width="6.5" height="2.5" fill="#333"/>
<rect x="99" y="358.85" width="6.5" height="2.5" fill="#333"/>
<rect x="99" y="329.45" width="6.5" height="2.5" fill="#333"/>
<rect x="99" y="300.05" width="6.5" height="2.5" fill="#333"/>
<rect x="99" y="509.75" width="6.5" height="2.5" fill="#333"/>
<rect x="99" y="480.35" width="6.5" height="2.5" fill="#333"/>
<rect x="99" y="450.95" width="6.5" height="2.5" fill="#333"/>
<rect x="99" y="421.55" width="6.5" height="2.5" fill="#333"/>
<rect x="99" y="631.25" width="6.5" height="2.5" fill="#333"/>
<rect x="99" y="601.85" width="6.5" height="2.5" fill="#333"/>
<rect x="99" y="572.45" width="6.5" height="2.5" fill="#333"/>
<rect x="99" y="543.05" width="6.5" height="2.5" fill="#333"/>
<rect x="99" y="752.95" width="6.5" height="2.5" fill="#333"/>
<rect x="99" y="723.55" width="6.5" height="2.5" fill="#333"/>
<rect x="99" y="694.15" width="6.5" height="2.5" fill="#333"/>
<rect x="99" y="664.75" width="6.5" height="2.5" fill="#333"/>
<rect x="99" y="874.25" width="6.5" height="2.5" fill="#333"/>
<rect x="99" y="844.85" width="6.5" height="2.5" fill="#333"/>
<rect x="99" y="815.45" width="6.5" height="2.5" fill="#333"/>
<rect x="99" y="786.05" width="6.5" height="2.5" fill="#333"/>
<text transform="translate(52.1,459.5) rotate(-90)" text-anchor="middle" font-size="30" fill="#000" textLength="274" lengthAdjust="spacingAndGlyphs">Normalized signal</text>
<text transform="translate(83.2,454.5) rotate(-90)" text-anchor="middle" font-size="30" fill="#000" textLength="229" lengthAdjust="spacingAndGlyphs">(range 0 - 750)</text>
<text transform="translate(68.9,1046.6) rotate(-90)" text-anchor="middle" font-size="30" fill="#000" textLength="95.5" lengthAdjust="spacingAndGlyphs">Genes</text>
<text transform="translate(68.9,1254.8) rotate(-90)" text-anchor="middle" font-size="30" fill="#000" textLength="87.5" lengthAdjust="spacingAndGlyphs">Peaks</text>
<rect x="496" y="1115.00" width="756" height="3" fill="#00008B"/>
<path d="M1251,1112.5L1254,1116.5L1251,1120.5Z" fill="#00008B"/>
<rect x="497.5" y="1107.6" width="6.5" height="17.6" fill="#00008B"/>
<rect x="510.0" y="1107.6" width="6.0" height="17.6" fill="#00008B"/>
<rect x="519.0" y="1107.6" width="4.7" height="17.6" fill="#00008B"/>
<rect x="528.5" y="1107.6" width="5.5" height="17.6" fill="#00008B"/>
<rect x="558.0" y="1107.6" width="5.0" height="17.6" fill="#00008B"/>
<rect x="1144.3" y="1107.6" width="12.2" height="17.6" fill="#00008B"/>
<rect x="1211.1" y="1107.6" width="6.7" height="17.6" fill="#00008B"/>
<rect x="1233.0" y="1107.6" width="19.0" height="17.6" fill="#00008B"/>
<path d="M492.1,1111.0L497.6,1116.5L492.1,1122.0M510.6,1111.0L516.1,1116.5L510.6,1122.0M529.1,1111.0L534.6,1116.5L529.1,1122.0M547.6,1111.0L553.1,1116.5L547.6,1122.0M566.1,1111.0L571.6,1116.5L566.1,1122.0M584.6,1111.0L590.1,1116.5L584.6,1122.0M603.1,1111.0L608.6,1116.5L603.1,1122.0M621.6,1111.0L627.1,1116.5L621.6,1122.0M640.1,1111.0L645.6,1116.5L640.1,1122.0M658.6,1111.0L664.1,1116.5L658.6,1122.0M677.1,1111.0L682.6,1116.5L677.1,1122.0M695.6,1111.0L701.1,1116.5L695.6,1122.0M714.1,1111.0L719.6,1116.5L714.1,1122.0M732.6,1111.0L738.1,1116.5L732.6,1122.0M751.1,1111.0L756.6,1116.5L751.1,1122.0M769.6,1111.0L775.1,1116.5L769.6,1122.0M788.1,1111.0L793.6,1116.5L788.1,1122.0M806.6,1111.0L812.1,1116.5L806.6,1122.0M825.1,1111.0L830.6,1116.5L825.1,1122.0M843.6,1111.0L849.1,1116.5L843.6,1122.0M862.1,1111.0L867.6,1116.5L862.1,1122.0M880.6,1111.0L886.1,1116.5L880.6,1122.0M899.1,1111.0L904.6,1116.5L899.1,1122.0M917.6,1111.0L923.1,1116.5L917.6,1122.0M936.1,1111.0L941.6,1116.5L936.1,1122.0M954.6,1111.0L960.1,1116.5L954.6,1122.0M973.1,1111.0L978.6,1116.5L973.1,1122.0M991.6,1111.0L997.1,1116.5L991.6,1122.0M1010.1,1111.0L1015.6,1116.5L1010.1,1122.0M1028.6,1111.0L1034.1,1116.5L1028.6,1122.0M1047.1,1111.0L1052.6,1116.5L1047.1,1122.0M1065.6,1111.0L1071.1,1116.5L1065.6,1122.0M1084.1,1111.0L1089.6,1116.5L1084.1,1122.0M1102.6,1111.0L1108.1,1116.5L1102.6,1122.0M1121.1,1111.0L1126.6,1116.5L1121.1,1122.0M1139.6,1111.0L1145.1,1116.5L1139.6,1122.0M1158.1,1111.0L1163.6,1116.5L1158.1,1122.0M1176.6,1111.0L1182.1,1116.5L1176.6,1122.0M1195.1,1111.0L1200.6,1116.5L1195.1,1122.0M1213.6,1111.0L1219.1,1116.5L1213.6,1122.0M1232.1,1111.0L1237.6,1116.5L1232.1,1122.0" fill="none" stroke="#00008B" stroke-width="2.8" stroke-linecap="butt" stroke-linejoin="miter"/>
<text x="874.5" y="1030.1" text-anchor="middle" font-size="19" fill="#000" textLength="73.5" lengthAdjust="spacingAndGlyphs">Ube2e3</text>
<rect x="504.2" y="1249" width="12.0" height="11.7" fill="#666666"/>
<rect x="551.7" y="1249" width="12.4" height="11.7" fill="#666666"/>
<rect x="657.2" y="1249" width="12.0" height="11.7" fill="#666666"/>
<rect x="690.9" y="1249" width="10.3" height="11.7" fill="#666666"/>
<rect x="707.2" y="1249" width="11.7" height="11.7" fill="#666666"/>
<rect x="1030.6" y="1249" width="13.5" height="11.7" fill="#666666"/>
<rect x="1158.1" y="1249" width="12.9" height="11.7" fill="#666666"/>
<rect x="351.7" y="1296" width="1017.9" height="3" fill="#000"/>
<rect x="380.65" y="1298.9" width="2.5" height="5.7" fill="#333"/>
<text x="382.2" y="1328.2" text-anchor="middle" font-size="24.4" fill="#4D4D4D" textLength="124" lengthAdjust="spacingAndGlyphs">78860000</text>
<rect x="664.55" y="1298.9" width="2.5" height="5.7" fill="#333"/>
<text x="666.1" y="1328.2" text-anchor="middle" font-size="24.4" fill="#4D4D4D" textLength="124" lengthAdjust="spacingAndGlyphs">78880000</text>
<rect x="948.45" y="1298.9" width="2.5" height="5.7" fill="#333"/>
<text x="950.0" y="1328.2" text-anchor="middle" font-size="24.4" fill="#4D4D4D" textLength="124" lengthAdjust="spacingAndGlyphs">78900000</text>
<rect x="1232.35" y="1298.9" width="2.5" height="5.7" fill="#333"/>
<text x="1233.9" y="1328.2" text-anchor="middle" font-size="24.4" fill="#4D4D4D" textLength="124" lengthAdjust="spacingAndGlyphs">78920000</text>
<text x="859.9" y="1363.6" text-anchor="middle" font-size="29.5" fill="#000" textLength="274" lengthAdjust="spacingAndGlyphs">chr2 position (bp)</text>
</svg></body></html>
